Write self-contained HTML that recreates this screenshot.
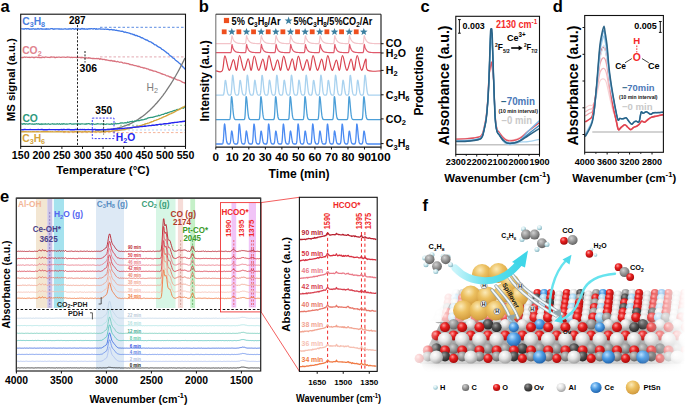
<!DOCTYPE html>
<html><head><meta charset="utf-8"><style>
html,body{margin:0;padding:0;background:#fff;}
svg{display:block;font-family:"Liberation Sans", sans-serif;}
</style></head><body>
<svg width="685" height="405" viewBox="0 0 685 405">
<rect width="685" height="405" fill="#fff"/>
<text x="0.50" y="11.80" font-size="16.5" fill="#000" font-weight="bold">a</text>
<line x1="100.00" y1="27.30" x2="185.50" y2="27.30" stroke="#4a7fe0" stroke-width="0.9" stroke-dasharray="2.5,2"/>
<line x1="100.00" y1="56.90" x2="185.50" y2="56.90" stroke="#e0a0a8" stroke-width="0.9" stroke-dasharray="2.5,2"/>
<line x1="120.00" y1="125.30" x2="185.50" y2="125.30" stroke="#7cc08a" stroke-width="0.8" stroke-dasharray="2,2"/>
<line x1="120.00" y1="130.00" x2="185.50" y2="130.00" stroke="#a8c8f0" stroke-width="0.8" stroke-dasharray="2,2"/>
<line x1="63.00" y1="132.60" x2="185.50" y2="132.60" stroke="#f0a080" stroke-width="0.8" stroke-dasharray="2.5,2"/>
<path d="M21.2,28.7L22.0,28.9L22.8,28.8L23.6,29.0L24.4,29.0L25.2,28.6L26.0,28.6L26.8,29.1L27.6,28.7L28.4,28.7L29.2,29.2L30.0,28.9L30.8,29.1L31.6,28.9L32.4,29.0L33.2,28.7L34.0,29.0L34.8,29.2L35.6,28.9L36.4,29.1L37.2,29.0L38.0,28.6L38.8,29.1L39.6,29.0L40.4,28.8L41.2,28.6L42.0,29.2L42.8,28.9L43.6,29.1L44.4,29.2L45.2,29.0L46.0,29.2L46.8,28.8L47.6,29.1L48.4,28.9L49.2,29.2L50.0,29.2L50.8,28.6L51.6,28.6L52.4,28.7L53.2,29.2L54.0,28.9L54.8,29.0L55.6,28.8L56.4,28.9L57.2,28.8L58.0,28.8L58.8,29.0L59.6,29.0L60.4,29.2L61.2,29.0L62.0,29.2L62.8,29.1L63.6,29.2L64.4,29.0L65.2,28.7L66.0,29.2L66.8,29.2L67.6,29.2L68.4,28.9L69.2,29.0L70.0,28.7L70.8,29.1L71.6,29.0L72.4,28.7L73.2,28.6L74.0,29.1L74.8,29.2L75.6,28.6L76.4,29.1L77.2,28.8L78.0,28.7L78.8,28.8L79.6,29.1L80.4,29.2L81.2,28.6L82.0,29.0L82.8,28.6L83.6,29.1L84.4,28.8L85.2,29.2L86.0,29.2L86.8,28.9L87.6,29.2L88.4,28.8L89.2,28.6L90.0,29.0L90.8,28.6L91.6,28.7L92.4,28.8L93.2,29.0L94.0,28.7L94.8,28.6L95.6,29.2L96.4,28.8L97.2,29.2L98.0,29.2L98.8,28.8L99.6,28.9L100.4,29.0L101.2,29.1L102.0,29.1L102.8,29.1L103.6,29.2L104.4,29.4L105.2,29.2L106.0,29.2L106.8,29.4L107.6,29.2L108.4,29.3L109.2,29.8L110.0,29.6L110.8,29.7L111.6,29.4L112.4,29.8L113.2,30.0L114.0,29.7L114.8,30.2L115.6,30.3L116.4,30.1L117.2,30.6L118.0,30.6L118.8,30.9L119.6,30.8L120.4,31.2L121.2,31.4L122.0,31.1L122.8,31.3L123.6,31.9L124.4,32.3L125.2,32.0L126.0,32.3L126.8,32.6L127.6,32.6L128.4,32.9L129.2,33.1L130.0,33.4L130.8,33.8L131.6,33.8L132.4,34.1L133.2,34.7L134.0,34.4L134.8,35.1L135.6,35.5L136.4,35.5L137.2,35.7L138.0,36.4L138.8,36.3L139.6,36.6L140.4,37.1L141.2,37.7L142.0,37.6L142.8,38.1L143.6,38.5L144.4,39.2L145.2,39.3L146.0,40.0L146.8,39.9L147.6,40.4L148.4,41.0L149.2,41.6L150.0,41.7L150.8,42.0L151.6,42.4L152.4,43.1L153.2,43.4L154.0,44.3L154.8,44.8L155.6,44.8L156.4,45.3L157.2,46.2L158.0,46.6L158.8,47.2L159.6,47.4L160.4,47.8L161.2,48.5L162.0,49.4L162.8,49.6L163.6,50.2L164.4,50.8L165.2,51.4L166.0,52.0L166.8,53.0L167.6,53.1L168.4,53.6L169.2,54.9L170.0,55.5L170.8,56.2L171.6,56.5L172.4,57.5L173.2,58.1L174.0,58.3L174.8,59.4L175.6,60.2L176.4,60.8L177.2,61.4L178.0,61.9L178.8,62.7L179.6,63.4L180.4,64.0L181.2,65.2L182.0,65.7L182.8,66.9L183.6,67.2L184.4,68.6L185.2,69.2" fill="none" stroke="#3f78e6" stroke-width="1.3" />
<path d="M21.2,57.6L22.0,57.5L22.8,57.5L23.6,57.3L24.4,57.0L25.2,57.4L26.0,57.1L26.8,57.2L27.6,57.4L28.4,57.3L29.2,57.2L30.0,57.6L30.8,57.4L31.6,57.2L32.4,57.2L33.2,57.5L34.0,57.3L34.8,57.5L35.6,57.2L36.4,57.1L37.2,57.3L38.0,57.5L38.8,57.1L39.6,57.5L40.4,57.6L41.2,57.5L42.0,57.5L42.8,57.0L43.6,57.4L44.4,57.5L45.2,57.0L46.0,57.2L46.8,57.2L47.6,57.3L48.4,57.3L49.2,57.3L50.0,57.5L50.8,57.0L51.6,57.0L52.4,57.1L53.2,57.1L54.0,57.0L54.8,57.6L55.6,57.5L56.4,57.1L57.2,57.3L58.0,57.2L58.8,57.2L59.6,57.2L60.4,57.4L61.2,57.4L62.0,57.2L62.8,57.1L63.6,57.2L64.4,57.1L65.2,57.3L66.0,57.4L66.8,57.2L67.6,57.0L68.4,57.1L69.2,57.2L70.0,57.4L70.8,57.5L71.6,57.2L72.4,57.5L73.2,57.4L74.0,57.3L74.8,57.3L75.6,57.4L76.4,57.5L77.2,57.4L78.0,57.5L78.8,57.4L79.6,57.3L80.4,57.5L81.2,57.7L82.0,57.3L82.8,57.6L83.6,57.6L84.4,57.9L85.2,58.0L86.0,57.7L86.8,58.1L87.6,58.1L88.4,57.8L89.2,58.0L90.0,57.9L90.8,58.3L91.6,58.3L92.4,58.5L93.2,58.5L94.0,58.5L94.8,58.6L95.6,58.6L96.4,58.4L97.2,58.8L98.0,58.5L98.8,58.7L99.6,59.2L100.4,58.8L101.2,59.0L102.0,59.1L102.8,59.6L103.6,59.3L104.4,59.3L105.2,59.9L106.0,59.6L106.8,60.1L107.6,60.2L108.4,60.4L109.2,60.6L110.0,60.5L110.8,60.7L111.6,60.4L112.4,61.0L113.2,60.9L114.0,61.2L114.8,61.0L115.6,61.5L116.4,61.8L117.2,61.4L118.0,61.7L118.8,62.0L119.6,62.3L120.4,62.1L121.2,62.2L122.0,62.4L122.8,62.8L123.6,63.1L124.4,63.0L125.2,63.2L126.0,63.4L126.8,63.5L127.6,63.7L128.4,63.7L129.2,64.1L130.0,64.6L130.8,64.5L131.6,64.8L132.4,64.7L133.2,65.2L134.0,65.4L134.8,65.6L135.6,65.7L136.4,65.9L137.2,66.2L138.0,66.6L138.8,66.3L139.6,66.5L140.4,67.1L141.2,67.4L142.0,67.4L142.8,67.6L143.6,68.0L144.4,67.9L145.2,68.2L146.0,68.4L146.8,68.8L147.6,68.9L148.4,69.1L149.2,69.6L150.0,70.0L150.8,69.9L151.6,70.4L152.4,70.5L153.2,71.0L154.0,71.1L154.8,71.2L155.6,71.4L156.4,71.6L157.2,72.1L158.0,72.3L158.8,72.5L159.6,72.9L160.4,73.1L161.2,73.7L162.0,73.6L162.8,74.4L163.6,74.4L164.4,74.7L165.2,74.9L166.0,75.5L166.8,75.8L167.6,75.9L168.4,76.2L169.2,76.6L170.0,77.0L170.8,77.0L171.6,77.6L172.4,78.0L173.2,78.0L174.0,78.2L174.8,78.5L175.6,79.2L176.4,79.5L177.2,80.0L178.0,80.2L178.8,80.2L179.6,80.5L180.4,80.9L181.2,81.2L182.0,81.9L182.8,82.3L183.6,82.7L184.4,82.7L185.2,83.4" fill="none" stroke="#d9737f" stroke-width="1.3" />
<path d="M95.0,130.0L96.0,130.0L97.0,130.0L98.0,130.0L99.0,130.0L100.0,130.0L101.0,129.9L102.0,129.9L103.0,129.9L104.0,129.8L105.0,129.8L106.0,129.7L107.0,129.6L108.0,129.5L109.0,129.4L110.0,129.3L111.0,129.2L112.0,129.1L113.0,128.9L114.0,128.7L115.0,128.6L116.0,128.4L117.0,128.2L118.0,127.9L119.0,127.7L120.0,127.4L121.0,127.1L122.0,126.9L123.0,126.5L124.0,126.2L125.0,125.9L126.0,125.5L127.0,125.1L128.0,124.7L129.0,124.3L130.0,123.8L131.0,123.4L132.0,122.9L133.0,122.4L134.0,121.8L135.0,121.3L136.0,120.7L137.0,120.1L138.0,119.5L139.0,118.8L140.0,118.1L141.0,117.4L142.0,116.7L143.0,116.0L144.0,115.2L145.0,114.4L146.0,113.6L147.0,112.7L148.0,111.8L149.0,110.9L150.0,110.0L151.0,109.0L152.0,108.1L153.0,107.0L154.0,106.0L155.0,104.9L156.0,103.8L157.0,102.7L158.0,101.5L159.0,100.3L160.0,99.1L161.0,97.9L162.0,96.6L163.0,95.3L164.0,93.9L165.0,92.6L166.0,91.2L167.0,89.7L168.0,88.2L169.0,86.7L170.0,85.2L171.0,83.6L172.0,82.0L173.0,80.4L174.0,78.7L175.0,77.0L176.0,75.3L177.0,73.5L178.0,71.7L179.0,69.9L180.0,68.0L181.0,66.1L182.0,64.1L183.0,62.1L184.0,60.1L185.0,58.0" fill="none" stroke="#7a7a7a" stroke-width="1.3" />
<path d="M21.2,123.9L22.0,123.9L22.8,124.2L23.6,123.7L24.4,123.7L25.2,124.3L26.0,123.8L26.8,123.9L27.6,124.1L28.4,124.1L29.2,123.6L30.0,123.9L30.8,123.9L31.6,124.0L32.4,123.8L33.2,124.1L34.0,124.4L34.8,123.9L35.6,124.0L36.4,123.7L37.2,123.8L38.0,124.1L38.8,123.7L39.6,124.3L40.4,124.3L41.2,123.7L42.0,124.4L42.8,123.9L43.6,124.2L44.4,124.2L45.2,123.8L46.0,124.1L46.8,124.1L47.6,124.2L48.4,123.8L49.2,124.2L50.0,124.4L50.8,124.1L51.6,124.0L52.4,123.7L53.2,124.0L54.0,123.9L54.8,124.2L55.6,124.1L56.4,124.1L57.2,123.7L58.0,124.1L58.8,124.1L59.6,123.7L60.4,124.3L61.2,124.1L62.0,123.7L62.8,124.3L63.6,123.7L64.4,123.9L65.2,124.2L66.0,124.1L66.8,124.0L67.6,124.1L68.4,124.0L69.2,123.8L70.0,123.7L70.8,123.7L71.6,124.2L72.4,124.2L73.2,124.0L74.0,124.2L74.8,123.9L75.6,123.8L76.4,123.9L77.2,124.3L78.0,123.6L78.8,124.0L79.6,123.8L80.4,124.2L81.2,123.9L82.0,123.9L82.8,123.9L83.6,124.0L84.4,124.2L85.2,123.9L86.0,124.3L86.8,123.7L87.6,123.8L88.4,123.7L89.2,123.7L90.0,124.2L90.8,124.2L91.6,123.7L92.4,123.8L93.2,123.9L94.0,124.2L94.8,124.3L95.6,124.2L96.4,124.1L97.2,123.7L98.0,123.9L98.8,123.8L99.6,124.0L100.4,124.1L101.2,123.8L102.0,123.8L102.8,124.2L103.6,123.6L104.4,124.2L105.2,124.3L106.0,124.4L106.8,123.9L107.6,124.0L108.4,124.1L109.2,124.1L110.0,124.4L110.8,124.1L111.6,123.8L112.4,124.2L113.2,123.9L114.0,123.9L114.8,124.0L115.6,123.3L116.4,123.9L117.2,123.7L118.0,123.5L118.8,123.5L119.6,123.3L120.4,123.0L121.2,123.2L122.0,122.7L122.8,123.0L123.6,123.0L124.4,122.8L125.2,122.7L126.0,122.9L126.8,122.8L127.6,122.1L128.4,122.5L129.2,122.2L130.0,121.6L130.8,121.7L131.6,121.5L132.4,121.2L133.2,121.5L134.0,121.6L134.8,121.0L135.6,121.3L136.4,121.0L137.2,120.4L138.0,120.8L138.8,120.4L139.6,120.5L140.4,120.2L141.2,120.1L142.0,119.6L142.8,119.8L143.6,119.7L144.4,119.5L145.2,118.9L146.0,119.0L146.8,118.6L147.6,118.1L148.4,117.9L149.2,117.7L150.0,117.6L150.8,117.4L151.6,117.4L152.4,117.4L153.2,117.1L154.0,116.8L154.8,116.7L155.6,116.3L156.4,116.2L157.2,116.2L158.0,115.7L158.8,115.3L159.6,115.6L160.4,115.3L161.2,114.8L162.0,114.5L162.8,114.4L163.6,114.3L164.4,113.7L165.2,113.3L166.0,113.2L166.8,113.4L167.6,112.7L168.4,112.7L169.2,112.2L170.0,112.0L170.8,111.7L171.6,111.6L172.4,111.2L173.2,110.8L174.0,110.6L174.8,110.4L175.6,110.4L176.4,109.8L177.2,109.5L178.0,109.6L178.8,109.3L179.6,109.2L180.4,108.4L181.2,108.4L182.0,108.2L182.8,107.6L183.6,108.1L184.4,107.2L185.2,106.8" fill="none" stroke="#2f9a7e" stroke-width="1.25" />
<path d="M21.2,131.8L22.2,131.7L23.2,131.8L24.2,131.8L25.2,131.7L26.2,131.7L27.2,131.9L28.2,131.7L29.2,131.9L30.2,131.8L31.2,131.9L32.2,131.7L33.2,131.7L34.2,131.7L35.2,131.9L36.2,131.8L37.2,131.8L38.2,131.7L39.2,131.9L40.2,131.9L41.2,131.8L42.2,131.7L43.2,131.7L44.2,131.7L45.2,131.7L46.2,131.7L47.2,131.7L48.2,131.8L49.2,131.9L50.2,131.7L51.2,131.9L52.2,131.8L53.2,131.9L54.2,131.9L55.2,131.9L56.2,131.7L57.2,131.7L58.2,131.8L59.2,131.9L60.2,131.7L61.2,131.7L62.2,131.9L63.2,131.7L64.2,131.8L65.2,131.8L66.2,131.9L67.2,131.9L68.2,131.7L69.2,131.9L70.2,131.9L71.2,131.9L72.2,131.8L73.2,131.9L74.2,131.8L75.2,131.8L76.2,131.7L77.2,131.9L78.2,131.8L79.2,131.7L80.2,131.7L81.2,131.9L82.2,131.8L83.2,131.9L84.2,131.8L85.2,131.8L86.2,131.7L87.2,131.9L88.2,131.7L89.2,131.8L90.2,131.9L91.2,131.9L92.2,131.7L93.2,131.7L94.2,131.9L95.2,131.8L96.2,131.9L97.2,131.9L98.2,131.8L99.2,131.9L100.2,131.9L101.2,131.7L102.2,131.7L103.2,131.6L104.2,131.7L105.2,131.8L106.2,131.5L107.2,131.6L108.2,131.4L109.2,131.3L110.2,131.4L111.2,131.2L112.2,131.0L113.2,130.9L114.2,131.0L115.2,130.8L116.2,130.6L117.2,130.5L118.2,130.6L119.2,130.2L120.2,130.1L121.2,129.9L122.2,129.9L123.2,129.7L124.2,129.5L125.2,129.3L126.2,129.0L127.2,128.8L128.2,128.5L129.2,128.5L130.2,128.1L131.2,127.8L132.2,127.9L133.2,127.4L134.2,127.4L135.2,126.9L136.2,126.7L137.2,126.4L138.2,126.3L139.2,125.9L140.2,125.6L141.2,125.4L142.2,125.1L143.2,124.6L144.2,124.4L145.2,124.0L146.2,123.6L147.2,123.5L148.2,123.1L149.2,122.8L150.2,122.3L151.2,122.0L152.2,121.6L153.2,121.3L154.2,120.7L155.2,120.4L156.2,120.1L157.2,119.6L158.2,119.3L159.2,118.9L160.2,118.4L161.2,118.1L162.2,117.6L163.2,117.1L164.2,116.7L165.2,116.4L166.2,115.8L167.2,115.3L168.2,114.8L169.2,114.3L170.2,113.8L171.2,113.6L172.2,113.0L173.2,112.6L174.2,112.1L175.2,111.5L176.2,111.0L177.2,110.4L178.2,109.8L179.2,109.5L180.2,108.9L181.2,108.4L182.2,107.7L183.2,107.2L184.2,106.5L185.2,106.1" fill="none" stroke="#d5a43c" stroke-width="1.4" />
<path d="M21.2,129.7L22.2,129.6L23.2,129.7L24.2,129.5L25.2,129.5L26.2,129.6L27.2,129.6L28.2,129.6L29.2,129.6L30.2,129.5L31.2,129.6L32.2,129.6L33.2,129.6L34.2,129.6L35.2,129.6L36.2,129.6L37.2,129.6L38.2,129.5L39.2,129.6L40.2,129.6L41.2,129.5L42.2,129.5L43.2,129.7L44.2,129.6L45.2,129.7L46.2,129.7L47.2,129.7L48.2,129.6L49.2,129.5L50.2,129.6L51.2,129.6L52.2,129.6L53.2,129.6L54.2,129.6L55.2,129.7L56.2,129.6L57.2,129.6L58.2,129.7L59.2,129.7L60.2,129.6L61.2,129.5L62.2,129.7L63.2,129.5L64.2,129.5L65.2,129.6L66.2,129.6L67.2,129.5L68.2,129.5L69.2,129.5L70.2,129.7L71.2,129.6L72.2,129.7L73.2,129.7L74.2,129.7L75.2,129.5L76.2,129.5L77.2,129.5L78.2,129.6L79.2,129.6L80.2,129.5L81.2,129.6L82.2,129.5L83.2,129.6L84.2,129.5L85.2,129.7L86.2,129.6L87.2,129.6L88.2,129.5L89.2,129.6L90.2,129.6L91.2,129.6L92.2,129.7L93.2,129.7L94.2,129.5L95.2,129.5L96.2,129.7L97.2,129.7L98.2,129.6L99.2,129.7L100.2,129.6L101.2,129.6L102.2,129.5L103.2,129.5L104.2,129.6L105.2,129.7L106.2,129.6L107.2,129.5L108.2,129.5L109.2,129.5L110.2,129.4L111.2,129.3L112.2,129.2L113.2,129.2L114.2,129.0L115.2,129.0L116.2,129.0L117.2,129.0L118.2,128.8L119.2,128.7L120.2,128.6L121.2,128.5L122.2,128.5L123.2,128.4L124.2,128.4L125.2,128.1L126.2,128.1L127.2,128.0L128.2,127.9L129.2,127.9L130.2,127.8L131.2,127.7L132.2,127.5L133.2,127.3L134.2,127.3L135.2,127.2L136.2,127.1L137.2,127.0L138.2,127.0L139.2,126.9L140.2,126.6L141.2,126.6L142.2,126.5L143.2,126.4L144.2,126.3L145.2,126.2L146.2,126.1L147.2,125.9L148.2,125.9L149.2,125.6L150.2,125.6L151.2,125.5L152.2,125.3L153.2,125.2L154.2,125.2L155.2,125.1L156.2,124.8L157.2,124.7L158.2,124.6L159.2,124.4L160.2,124.3L161.2,124.4L162.2,124.1L163.2,124.0L164.2,123.8L165.2,123.7L166.2,123.7L167.2,123.6L168.2,123.5L169.2,123.3L170.2,123.2L171.2,122.9L172.2,122.8L173.2,122.8L174.2,122.5L175.2,122.4L176.2,122.4L177.2,122.2L178.2,122.1L179.2,121.9L180.2,121.8L181.2,121.8L182.2,121.5L183.2,121.5L184.2,121.2L185.2,121.2" fill="none" stroke="#2626f0" stroke-width="1.4" />
<rect x="20.70" y="14.20" width="164.80" height="132.20" fill="none" stroke="#111" stroke-width="1.1" />
<line x1="20.70" y1="146.40" x2="20.70" y2="148.90" stroke="#111" stroke-width="1" />
<text x="20.70" y="159.30" font-size="10.6" fill="#000" font-weight="bold" text-anchor="middle">150</text>
<line x1="41.30" y1="146.40" x2="41.30" y2="148.90" stroke="#111" stroke-width="1" />
<text x="41.30" y="159.30" font-size="10.6" fill="#000" font-weight="bold" text-anchor="middle">200</text>
<line x1="61.90" y1="146.40" x2="61.90" y2="148.90" stroke="#111" stroke-width="1" />
<text x="61.90" y="159.30" font-size="10.6" fill="#000" font-weight="bold" text-anchor="middle">250</text>
<line x1="82.50" y1="146.40" x2="82.50" y2="148.90" stroke="#111" stroke-width="1" />
<text x="82.50" y="159.30" font-size="10.6" fill="#000" font-weight="bold" text-anchor="middle">300</text>
<line x1="103.10" y1="146.40" x2="103.10" y2="148.90" stroke="#111" stroke-width="1" />
<text x="103.10" y="159.30" font-size="10.6" fill="#000" font-weight="bold" text-anchor="middle">350</text>
<line x1="123.70" y1="146.40" x2="123.70" y2="148.90" stroke="#111" stroke-width="1" />
<text x="123.70" y="159.30" font-size="10.6" fill="#000" font-weight="bold" text-anchor="middle">400</text>
<line x1="144.30" y1="146.40" x2="144.30" y2="148.90" stroke="#111" stroke-width="1" />
<text x="144.30" y="159.30" font-size="10.6" fill="#000" font-weight="bold" text-anchor="middle">450</text>
<line x1="164.90" y1="146.40" x2="164.90" y2="148.90" stroke="#111" stroke-width="1" />
<text x="164.90" y="159.30" font-size="10.6" fill="#000" font-weight="bold" text-anchor="middle">500</text>
<line x1="185.50" y1="146.40" x2="185.50" y2="148.90" stroke="#111" stroke-width="1" />
<text x="185.50" y="159.30" font-size="10.6" fill="#000" font-weight="bold" text-anchor="middle">550</text>
<text x="102.90" y="173.70" font-size="10.5" fill="#000" font-weight="bold" text-anchor="middle" textLength="93.3" lengthAdjust="spacingAndGlyphs">Temperature (°C)</text>
<text x="14.80" y="79.75" font-size="11.4" fill="#000" font-weight="bold" text-anchor="middle" textLength="83" lengthAdjust="spacingAndGlyphs" transform="rotate(-90 14.80 79.75)">MS signal (a.u.)</text>
<line x1="77.50" y1="25.00" x2="77.50" y2="145.90" stroke="#111" stroke-width="0.9" stroke-dasharray="2.2,1.6"/>
<line x1="85.00" y1="51.00" x2="85.00" y2="62.50" stroke="#222" stroke-width="1.0" stroke-dasharray="2,1.4"/>
<text x="77.20" y="23.80" font-size="10.6" fill="#000" font-weight="bold" text-anchor="middle" textLength="16.6" lengthAdjust="spacingAndGlyphs">287</text>
<text x="88.30" y="72.30" font-size="11.0" fill="#000" font-weight="bold" text-anchor="middle" textLength="17.4" lengthAdjust="spacingAndGlyphs">306</text>
<text x="103.75" y="114.00" font-size="10.5" fill="#000" font-weight="bold" text-anchor="middle" textLength="16.9" lengthAdjust="spacingAndGlyphs">350</text>
<rect x="92.30" y="118.10" width="21.70" height="20.50" fill="none" stroke="#2a2af5" stroke-width="0.9" stroke-dasharray="2,1.5"/>
<line x1="103.60" y1="120.00" x2="103.60" y2="134.50" stroke="#111" stroke-width="0.8" stroke-dasharray="2,1.4"/>
<text x="22.20" y="25.20" font-size="10.3" fill="#4a80e0" font-weight="bold">C<tspan font-size="7.2" dy="2.00">3</tspan><tspan dy="-2">H</tspan><tspan font-size="7.2" dy="2.00">8</tspan></text>
<text x="22.20" y="54.30" font-size="10.3" fill="#e0848f" font-weight="bold">CO<tspan font-size="7.2" dy="2.00">2</tspan></text>
<text x="22.40" y="121.60" font-size="10.3" fill="#2f9a7e" font-weight="bold">CO</text>
<text x="22.20" y="142.00" font-size="10.3" fill="#d4a43c" font-weight="bold">C<tspan font-size="7.2" dy="2.00">3</tspan><tspan dy="-2">H</tspan><tspan font-size="7.2" dy="2.00">6</tspan></text>
<text x="146.60" y="91.00" font-size="10.3" fill="#7d7d7d" font-weight="normal">H<tspan font-size="7.2" dy="2.00">2</tspan></text>
<text x="115.80" y="141.40" font-size="10.3" fill="#2626f0" font-weight="bold">H<tspan font-size="7.2" dy="2.00">2</tspan><tspan dy="-2">O</tspan></text>
<text x="198.80" y="12.00" font-size="16.5" fill="#000" font-weight="bold">b</text>
<path d="M215.8,43.6L216.0,43.6L216.2,43.6L216.4,43.6L216.6,43.6L216.8,43.6L217.0,43.6L217.2,43.6L217.4,43.6L217.6,43.6L217.8,43.6L218.0,43.6L218.2,43.6L218.4,43.6L218.6,43.6L218.8,43.6L219.0,43.6L219.2,43.6L219.4,43.6L219.6,43.6L219.8,43.6L220.0,43.6L220.2,43.6L220.4,43.6L220.6,43.6L220.8,43.6L221.0,43.6L221.2,43.6L221.4,43.6L221.5,43.6L221.7,43.6L221.9,43.6L222.1,43.6L222.3,43.6L222.5,43.6L222.7,43.6L222.9,43.6L223.1,43.6L223.3,43.6L223.5,43.6L223.7,43.6L223.9,43.6L224.1,43.6L224.3,43.6L224.5,43.6L224.7,43.6L224.9,43.6L225.1,43.6L225.3,43.6L225.5,43.6L225.7,43.6L225.9,43.6L226.1,43.6L226.3,43.6L226.5,43.6L226.7,43.6L226.9,43.6L227.1,43.6L227.3,43.6L227.5,43.6L227.7,43.6L227.9,43.6L228.1,43.6L228.3,43.6L228.5,43.6L228.7,43.6L228.9,43.6L229.1,43.6L229.3,43.6L229.5,43.6L229.7,43.6L229.9,43.6L230.1,43.6L230.3,43.6L230.5,43.6L230.7,43.5L230.9,43.2L231.1,42.5L231.3,41.2L231.5,39.4L231.7,37.4L231.9,35.9L232.1,35.9L232.3,36.6L232.5,37.3L232.7,37.9L232.8,38.4L233.0,38.9L233.2,39.4L233.4,39.8L233.6,40.1L233.8,40.5L234.0,40.8L234.2,41.0L234.4,41.3L234.6,41.5L234.8,41.7L235.0,41.9L235.2,42.0L235.4,42.2L235.6,42.3L235.8,42.4L236.0,42.6L236.2,42.7L236.4,42.7L236.6,42.8L236.8,42.9L237.0,43.0L237.2,43.0L237.4,43.1L237.6,43.1L237.8,43.2L238.0,43.2L238.2,43.3L238.4,43.3L238.6,43.3L238.8,43.3L239.0,43.4L239.2,43.4L239.4,43.4L239.6,43.4L239.8,43.4L240.0,43.5L240.2,43.5L240.4,43.5L240.6,43.5L240.8,43.5L241.0,43.5L241.2,43.5L241.4,43.5L241.6,43.5L241.8,43.5L242.0,43.5L242.2,43.6L242.4,43.6L242.6,43.6L242.8,43.6L243.0,43.6L243.2,43.6L243.4,43.6L243.6,43.6L243.8,43.6L244.0,43.6L244.1,43.6L244.3,43.6L244.5,43.6L244.7,43.6L244.9,43.6L245.1,43.6L245.3,43.5L245.5,43.2L245.7,42.6L245.9,41.5L246.1,39.7L246.3,37.7L246.5,36.1L246.7,35.7L246.9,36.5L247.1,37.2L247.3,37.8L247.5,38.3L247.7,38.8L247.9,39.3L248.1,39.7L248.3,40.1L248.5,40.4L248.7,40.7L248.9,41.0L249.1,41.2L249.3,41.5L249.5,41.7L249.7,41.8L249.9,42.0L250.1,42.2L250.3,42.3L250.5,42.4L250.7,42.5L250.9,42.6L251.1,42.7L251.3,42.8L251.5,42.9L251.7,43.0L251.9,43.0L252.1,43.1L252.3,43.1L252.5,43.2L252.7,43.2L252.9,43.2L253.1,43.3L253.3,43.3L253.5,43.3L253.7,43.4L253.9,43.4L254.1,43.4L254.3,43.4L254.5,43.4L254.7,43.5L254.9,43.5L255.1,43.5L255.2,43.5L255.4,43.5L255.6,43.5L255.8,43.5L256.0,43.5L256.2,43.5L256.4,43.5L256.6,43.5L256.8,43.6L257.0,43.6L257.2,43.6L257.4,43.6L257.6,43.6L257.8,43.6L258.0,43.6L258.2,43.6L258.4,43.6L258.6,43.6L258.8,43.6L259.0,43.6L259.2,43.6L259.4,43.6L259.6,43.6L259.8,43.6L260.0,43.5L260.2,43.3L260.4,42.7L260.6,41.7L260.8,40.0L261.0,38.0L261.2,36.3L261.4,35.6L261.6,36.4L261.8,37.0L262.0,37.7L262.2,38.2L262.4,38.7L262.6,39.2L262.8,39.6L263.0,40.0L263.2,40.3L263.4,40.7L263.6,40.9L263.8,41.2L264.0,41.4L264.2,41.6L264.4,41.8L264.6,42.0L264.8,42.1L265.0,42.3L265.2,42.4L265.4,42.5L265.6,42.6L265.8,42.7L266.0,42.8L266.2,42.9L266.4,42.9L266.5,43.0L266.7,43.1L266.9,43.1L267.1,43.2L267.3,43.2L267.5,43.2L267.7,43.3L267.9,43.3L268.1,43.3L268.3,43.4L268.5,43.4L268.7,43.4L268.9,43.4L269.1,43.4L269.3,43.5L269.5,43.5L269.7,43.5L269.9,43.5L270.1,43.5L270.3,43.5L270.5,43.5L270.7,43.5L270.9,43.5L271.1,43.5L271.3,43.5L271.5,43.6L271.7,43.6L271.9,43.6L272.1,43.6L272.3,43.6L272.5,43.6L272.7,43.6L272.9,43.6L273.1,43.6L273.3,43.6L273.5,43.6L273.7,43.6L273.9,43.6L274.1,43.6L274.3,43.6L274.5,43.6L274.7,43.5L274.9,43.3L275.1,42.9L275.3,41.9L275.5,40.3L275.7,38.4L275.9,36.5L276.1,35.6L276.3,36.2L276.5,36.9L276.7,37.6L276.9,38.1L277.1,38.7L277.3,39.1L277.5,39.6L277.7,39.9L277.8,40.3L278.0,40.6L278.2,40.9L278.4,41.1L278.6,41.4L278.8,41.6L279.0,41.8L279.2,42.0L279.4,42.1L279.6,42.3L279.8,42.4L280.0,42.5L280.2,42.6L280.4,42.7L280.6,42.8L280.8,42.9L281.0,42.9L281.2,43.0L281.4,43.1L281.6,43.1L281.8,43.2L282.0,43.2L282.2,43.2L282.4,43.3L282.6,43.3L282.8,43.3L283.0,43.4L283.2,43.4L283.4,43.4L283.6,43.4L283.8,43.4L284.0,43.5L284.2,43.5L284.4,43.5L284.6,43.5L284.8,43.5L285.0,43.5L285.2,43.5L285.4,43.5L285.6,43.5L285.8,43.5L286.0,43.5L286.2,43.6L286.4,43.6L286.6,43.6L286.8,43.6L287.0,43.6L287.2,43.6L287.4,43.6L287.6,43.6L287.8,43.6L288.0,43.6L288.2,43.6L288.4,43.6L288.6,43.6L288.8,43.6L289.0,43.6L289.1,43.6L289.3,43.5L289.5,43.4L289.7,43.0L289.9,42.1L290.1,40.7L290.3,38.7L290.5,36.8L290.7,35.7L290.9,36.1L291.1,36.8L291.3,37.5L291.5,38.1L291.7,38.6L291.9,39.1L292.1,39.5L292.3,39.9L292.5,40.2L292.7,40.6L292.9,40.8L293.1,41.1L293.3,41.3L293.5,41.6L293.7,41.8L293.9,41.9L294.1,42.1L294.3,42.2L294.5,42.4L294.7,42.5L294.9,42.6L295.1,42.7L295.3,42.8L295.5,42.8L295.7,42.9L295.9,43.0L296.1,43.0L296.3,43.1L296.5,43.1L296.7,43.2L296.9,43.2L297.1,43.3L297.3,43.3L297.5,43.3L297.7,43.4L297.9,43.4L298.1,43.4L298.3,43.4L298.5,43.4L298.7,43.4L298.9,43.5L299.1,43.5L299.3,43.5L299.5,43.5L299.7,43.5L299.9,43.5L300.1,43.5L300.3,43.5L300.4,43.5L300.6,43.5L300.8,43.5L301.0,43.6L301.2,43.6L301.4,43.6L301.6,43.6L301.8,43.6L302.0,43.6L302.2,43.6L302.4,43.6L302.6,43.6L302.8,43.6L303.0,43.6L303.2,43.6L303.4,43.6L303.6,43.6L303.8,43.6L304.0,43.5L304.2,43.4L304.4,43.1L304.6,42.3L304.8,40.9L305.0,39.0L305.2,37.1L305.4,35.8L305.6,36.0L305.8,36.7L306.0,37.4L306.2,38.0L306.4,38.5L306.6,39.0L306.8,39.4L307.0,39.8L307.2,40.2L307.4,40.5L307.6,40.8L307.8,41.1L308.0,41.3L308.2,41.5L308.4,41.7L308.6,41.9L308.8,42.1L309.0,42.2L309.2,42.3L309.4,42.5L309.6,42.6L309.8,42.7L310.0,42.8L310.2,42.8L310.4,42.9L310.6,43.0L310.8,43.0L311.0,43.1L311.2,43.1L311.4,43.2L311.5,43.2L311.7,43.3L311.9,43.3L312.1,43.3L312.3,43.3L312.5,43.4L312.7,43.4L312.9,43.4L313.1,43.4L313.3,43.4L313.5,43.5L313.7,43.5L313.9,43.5L314.1,43.5L314.3,43.5L314.5,43.5L314.7,43.5L314.9,43.5L315.1,43.5L315.3,43.5L315.5,43.5L315.7,43.6L315.9,43.6L316.1,43.6L316.3,43.6L316.5,43.6L316.7,43.6L316.9,43.6L317.1,43.6L317.3,43.6L317.5,43.6L317.7,43.6L317.9,43.6L318.1,43.6L318.3,43.6L318.5,43.6L318.7,43.5L318.9,43.4L319.1,43.1L319.3,42.5L319.5,41.2L319.7,39.4L319.9,37.4L320.1,35.9L320.3,35.9L320.5,36.6L320.7,37.3L320.9,37.9L321.1,38.4L321.3,38.9L321.5,39.4L321.7,39.8L321.9,40.1L322.1,40.5L322.3,40.8L322.5,41.0L322.7,41.3L322.8,41.5L323.0,41.7L323.2,41.9L323.4,42.0L323.6,42.2L323.8,42.3L324.0,42.4L324.2,42.6L324.4,42.7L324.6,42.7L324.8,42.8L325.0,42.9L325.2,43.0L325.4,43.0L325.6,43.1L325.8,43.1L326.0,43.2L326.2,43.2L326.4,43.3L326.6,43.3L326.8,43.3L327.0,43.3L327.2,43.4L327.4,43.4L327.6,43.4L327.8,43.4L328.0,43.4L328.2,43.5L328.4,43.5L328.6,43.5L328.8,43.5L329.0,43.5L329.2,43.5L329.4,43.5L329.6,43.5L329.8,43.5L330.0,43.5L330.2,43.5L330.4,43.6L330.6,43.6L330.8,43.6L331.0,43.6L331.2,43.6L331.4,43.6L331.6,43.6L331.8,43.6L332.0,43.6L332.2,43.6L332.4,43.6L332.6,43.6L332.8,43.6L333.0,43.6L333.2,43.6L333.4,43.6L333.6,43.5L333.8,43.2L334.0,42.6L334.1,41.5L334.3,39.7L334.5,37.7L334.7,36.1L334.9,35.7L335.1,36.5L335.3,37.2L335.5,37.8L335.7,38.3L335.9,38.8L336.1,39.3L336.3,39.7L336.5,40.1L336.7,40.4L336.9,40.7L337.1,41.0L337.3,41.2L337.5,41.5L337.7,41.7L337.9,41.8L338.1,42.0L338.3,42.2L338.5,42.3L338.7,42.4L338.9,42.5L339.1,42.6L339.3,42.7L339.5,42.8L339.7,42.9L339.9,43.0L340.1,43.0L340.3,43.1L340.5,43.1L340.7,43.2L340.9,43.2L341.1,43.2L341.3,43.3L341.5,43.3L341.7,43.3L341.9,43.4L342.1,43.4L342.3,43.4L342.5,43.4L342.7,43.4L342.9,43.5L343.1,43.5L343.3,43.5L343.5,43.5L343.7,43.5L343.9,43.5L344.1,43.5L344.3,43.5L344.5,43.5L344.7,43.5L344.9,43.5L345.1,43.6L345.3,43.6L345.4,43.6L345.6,43.6L345.8,43.6L346.0,43.6L346.2,43.6L346.4,43.6L346.6,43.6L346.8,43.6L347.0,43.6L347.2,43.6L347.4,43.6L347.6,43.6L347.8,43.6L348.0,43.6L348.2,43.5L348.4,43.3L348.6,42.7L348.8,41.7L349.0,40.0L349.2,38.0L349.4,36.3L349.6,35.6L349.8,36.4L350.0,37.0L350.2,37.7L350.4,38.2L350.6,38.7L350.8,39.2L351.0,39.6L351.2,40.0L351.4,40.3L351.6,40.7L351.8,40.9L352.0,41.2L352.2,41.4L352.4,41.6L352.6,41.8L352.8,42.0L353.0,42.1L353.2,42.3L353.4,42.4L353.6,42.5L353.8,42.6L354.0,42.7L354.2,42.8L354.4,42.9L354.6,42.9L354.8,43.0L355.0,43.1L355.2,43.1L355.4,43.2L355.6,43.2L355.8,43.2L356.0,43.3L356.2,43.3L356.4,43.3L356.6,43.4L356.7,43.4L356.9,43.4L357.1,43.4L357.3,43.4L357.5,43.5L357.7,43.5L357.9,43.5L358.1,43.5L358.3,43.5L358.5,43.5L358.7,43.5L358.9,43.5L359.1,43.5L359.3,43.5L359.5,43.5L359.7,43.6L359.9,43.6L360.1,43.6L360.3,43.6L360.5,43.6L360.7,43.6L360.9,43.6L361.1,43.6L361.3,43.6L361.5,43.6L361.7,43.6L361.9,43.6L362.1,43.6L362.3,43.6L362.5,43.6L362.7,43.6L362.9,43.5L363.1,43.3L363.3,42.9L363.5,41.9L363.7,40.3L363.9,38.4L364.1,36.5L364.3,35.6L364.5,36.2L364.7,36.9L364.9,37.6L365.1,38.1L365.3,38.7L365.5,39.1L365.7,39.6L365.9,39.9L366.1,40.3L366.3,40.6L366.5,40.9L366.7,41.1L366.9,41.4L367.1,41.6L367.3,41.8L367.5,42.0L367.7,42.1L367.9,42.3L368.0,42.4L368.2,42.5L368.4,42.6L368.6,42.7L368.8,42.8L369.0,42.9L369.2,42.9L369.4,43.0L369.6,43.1L369.8,43.1L370.0,43.2L370.2,43.2L370.4,43.2L370.6,43.3L370.8,43.3L371.0,43.3L371.2,43.4L371.4,43.4L371.6,43.4L371.8,43.4L372.0,43.4L372.2,43.5L372.4,43.5L372.6,43.5L372.8,43.5L373.0,43.5L373.2,43.5L373.4,43.5L373.6,43.5L373.8,43.5L374.0,43.5L374.2,43.5L374.4,43.6L374.6,43.6L374.8,43.6L375.0,43.6L375.2,43.6L375.4,43.6L375.6,43.6L375.8,43.6L376.0,43.6L376.2,43.6L376.4,43.6L376.6,43.6L376.8,43.6L377.0,43.6L377.2,43.6L377.4,43.6L377.6,43.6L377.8,43.6L378.0,43.6L378.2,43.6L378.4,43.6L378.6,43.6L378.8,43.6L379.0,43.6L379.1,43.6L379.3,43.6L379.5,43.6L379.7,43.6L379.9,43.6L380.1,43.6L380.3,43.6L380.5,43.6L380.7,43.6L380.9,43.6" fill="none" stroke="#f3c4c9" stroke-width="1.2" stroke-linejoin="round"/>
<path d="M215.8,52.6L216.0,52.6L216.2,52.6L216.4,52.6L216.6,52.6L216.8,52.6L217.0,52.6L217.2,52.6L217.4,52.6L217.6,52.6L217.8,52.6L218.0,52.6L218.2,52.6L218.4,52.6L218.6,52.6L218.8,52.6L219.0,52.6L219.2,52.6L219.4,52.6L219.6,52.6L219.8,52.6L220.0,52.6L220.2,52.6L220.4,52.6L220.6,52.6L220.8,52.6L221.0,52.6L221.2,52.6L221.4,52.6L221.5,52.6L221.7,52.6L221.9,52.6L222.1,52.6L222.3,52.6L222.5,52.6L222.7,52.6L222.9,52.6L223.1,52.6L223.3,52.6L223.5,52.6L223.7,52.6L223.9,52.6L224.1,52.6L224.3,52.6L224.5,52.6L224.7,52.6L224.9,52.6L225.1,52.6L225.3,52.6L225.5,52.6L225.7,52.6L225.9,52.6L226.1,52.6L226.3,52.6L226.5,52.6L226.7,52.6L226.9,52.6L227.1,52.6L227.3,52.6L227.5,52.6L227.7,52.6L227.9,52.6L228.1,52.6L228.3,52.6L228.5,52.6L228.7,52.6L228.9,52.6L229.1,52.6L229.3,52.6L229.5,52.6L229.7,52.6L229.9,52.6L230.1,52.6L230.3,52.6L230.5,52.6L230.7,52.6L230.9,52.4L231.1,52.0L231.3,50.9L231.5,49.0L231.7,46.6L231.9,44.7L232.1,44.6L232.3,45.5L232.5,46.3L232.7,47.0L232.8,47.7L233.0,48.2L233.2,48.7L233.4,49.2L233.6,49.5L233.8,49.9L234.0,50.2L234.2,50.5L234.4,50.7L234.6,50.9L234.8,51.1L235.0,51.3L235.2,51.4L235.4,51.6L235.6,51.7L235.8,51.8L236.0,51.9L236.2,52.0L236.4,52.0L236.6,52.1L236.8,52.2L237.0,52.2L237.2,52.2L237.4,52.3L237.6,52.3L237.8,52.4L238.0,52.4L238.2,52.4L238.4,52.4L238.6,52.4L238.8,52.5L239.0,52.5L239.2,52.5L239.4,52.5L239.6,52.5L239.8,52.5L240.0,52.5L240.2,52.5L240.4,52.5L240.6,52.6L240.8,52.6L241.0,52.6L241.2,52.6L241.4,52.6L241.6,52.6L241.8,52.6L242.0,52.6L242.2,52.6L242.4,52.6L242.6,52.6L242.8,52.6L243.0,52.6L243.2,52.6L243.4,52.6L243.6,52.6L243.8,52.6L244.0,52.6L244.1,52.6L244.3,52.6L244.5,52.6L244.7,52.6L244.9,52.6L245.1,52.6L245.3,52.6L245.5,52.4L245.7,52.1L245.9,51.1L246.1,49.4L246.3,47.0L246.5,44.9L246.7,44.5L246.9,45.4L247.1,46.2L247.3,46.9L247.5,47.6L247.7,48.1L247.9,48.6L248.1,49.1L248.3,49.5L248.5,49.8L248.7,50.1L248.9,50.4L249.1,50.7L249.3,50.9L249.5,51.1L249.7,51.3L249.9,51.4L250.1,51.5L250.3,51.7L250.5,51.8L250.7,51.9L250.9,51.9L251.1,52.0L251.3,52.1L251.5,52.1L251.7,52.2L251.9,52.2L252.1,52.3L252.3,52.3L252.5,52.3L252.7,52.4L252.9,52.4L253.1,52.4L253.3,52.4L253.5,52.5L253.7,52.5L253.9,52.5L254.1,52.5L254.3,52.5L254.5,52.5L254.7,52.5L254.9,52.5L255.1,52.5L255.2,52.6L255.4,52.6L255.6,52.6L255.8,52.6L256.0,52.6L256.2,52.6L256.4,52.6L256.6,52.6L256.8,52.6L257.0,52.6L257.2,52.6L257.4,52.6L257.6,52.6L257.8,52.6L258.0,52.6L258.2,52.6L258.4,52.6L258.6,52.6L258.8,52.6L259.0,52.6L259.2,52.6L259.4,52.6L259.6,52.6L259.8,52.6L260.0,52.6L260.2,52.5L260.4,52.2L260.6,51.3L260.8,49.7L261.0,47.4L261.2,45.2L261.4,44.3L261.6,45.2L261.8,46.1L262.0,46.8L262.2,47.5L262.4,48.0L262.6,48.6L262.8,49.0L263.0,49.4L263.2,49.8L263.4,50.1L263.6,50.4L263.8,50.6L264.0,50.9L264.2,51.1L264.4,51.2L264.6,51.4L264.8,51.5L265.0,51.6L265.2,51.8L265.4,51.8L265.6,51.9L265.8,52.0L266.0,52.1L266.2,52.1L266.4,52.2L266.5,52.2L266.7,52.3L266.9,52.3L267.1,52.3L267.3,52.4L267.5,52.4L267.7,52.4L267.9,52.4L268.1,52.5L268.3,52.5L268.5,52.5L268.7,52.5L268.9,52.5L269.1,52.5L269.3,52.5L269.5,52.5L269.7,52.5L269.9,52.6L270.1,52.6L270.3,52.6L270.5,52.6L270.7,52.6L270.9,52.6L271.1,52.6L271.3,52.6L271.5,52.6L271.7,52.6L271.9,52.6L272.1,52.6L272.3,52.6L272.5,52.6L272.7,52.6L272.9,52.6L273.1,52.6L273.3,52.6L273.5,52.6L273.7,52.6L273.9,52.6L274.1,52.6L274.3,52.6L274.5,52.6L274.7,52.6L274.9,52.5L275.1,52.2L275.3,51.5L275.5,50.0L275.7,47.8L275.9,45.5L276.1,44.3L276.3,45.1L276.5,45.9L276.7,46.7L276.9,47.4L277.1,48.0L277.3,48.5L277.5,48.9L277.7,49.4L277.8,49.7L278.0,50.0L278.2,50.3L278.4,50.6L278.6,50.8L278.8,51.0L279.0,51.2L279.2,51.4L279.4,51.5L279.6,51.6L279.8,51.7L280.0,51.8L280.2,51.9L280.4,52.0L280.6,52.1L280.8,52.1L281.0,52.2L281.2,52.2L281.4,52.3L281.6,52.3L281.8,52.3L282.0,52.4L282.2,52.4L282.4,52.4L282.6,52.4L282.8,52.5L283.0,52.5L283.2,52.5L283.4,52.5L283.6,52.5L283.8,52.5L284.0,52.5L284.2,52.5L284.4,52.5L284.6,52.6L284.8,52.6L285.0,52.6L285.2,52.6L285.4,52.6L285.6,52.6L285.8,52.6L286.0,52.6L286.2,52.6L286.4,52.6L286.6,52.6L286.8,52.6L287.0,52.6L287.2,52.6L287.4,52.6L287.6,52.6L287.8,52.6L288.0,52.6L288.2,52.6L288.4,52.6L288.6,52.6L288.8,52.6L289.0,52.6L289.1,52.6L289.3,52.6L289.5,52.5L289.7,52.3L289.9,51.7L290.1,50.4L290.3,48.2L290.5,45.9L290.7,44.4L290.9,44.9L291.1,45.8L291.3,46.6L291.5,47.3L291.7,47.9L291.9,48.4L292.1,48.9L292.3,49.3L292.5,49.7L292.7,50.0L292.9,50.3L293.1,50.6L293.3,50.8L293.5,51.0L293.7,51.2L293.9,51.3L294.1,51.5L294.3,51.6L294.5,51.7L294.7,51.8L294.9,51.9L295.1,52.0L295.3,52.1L295.5,52.1L295.7,52.2L295.9,52.2L296.1,52.3L296.3,52.3L296.5,52.3L296.7,52.4L296.9,52.4L297.1,52.4L297.3,52.4L297.5,52.5L297.7,52.5L297.9,52.5L298.1,52.5L298.3,52.5L298.5,52.5L298.7,52.5L298.9,52.5L299.1,52.5L299.3,52.6L299.5,52.6L299.7,52.6L299.9,52.6L300.1,52.6L300.3,52.6L300.4,52.6L300.6,52.6L300.8,52.6L301.0,52.6L301.2,52.6L301.4,52.6L301.6,52.6L301.8,52.6L302.0,52.6L302.2,52.6L302.4,52.6L302.6,52.6L302.8,52.6L303.0,52.6L303.2,52.6L303.4,52.6L303.6,52.6L303.8,52.6L304.0,52.6L304.2,52.5L304.4,52.4L304.6,51.8L304.8,50.6L305.0,48.6L305.2,46.2L305.4,44.5L305.6,44.8L305.8,45.7L306.0,46.5L306.2,47.1L306.4,47.8L306.6,48.3L306.8,48.8L307.0,49.2L307.2,49.6L307.4,49.9L307.6,50.2L307.8,50.5L308.0,50.7L308.2,51.0L308.4,51.1L308.6,51.3L308.8,51.5L309.0,51.6L309.2,51.7L309.4,51.8L309.6,51.9L309.8,52.0L310.0,52.0L310.2,52.1L310.4,52.2L310.6,52.2L310.8,52.3L311.0,52.3L311.2,52.3L311.4,52.4L311.5,52.4L311.7,52.4L311.9,52.4L312.1,52.5L312.3,52.5L312.5,52.5L312.7,52.5L312.9,52.5L313.1,52.5L313.3,52.5L313.5,52.5L313.7,52.5L313.9,52.5L314.1,52.6L314.3,52.6L314.5,52.6L314.7,52.6L314.9,52.6L315.1,52.6L315.3,52.6L315.5,52.6L315.7,52.6L315.9,52.6L316.1,52.6L316.3,52.6L316.5,52.6L316.7,52.6L316.9,52.6L317.1,52.6L317.3,52.6L317.5,52.6L317.7,52.6L317.9,52.6L318.1,52.6L318.3,52.6L318.5,52.6L318.7,52.6L318.9,52.6L319.1,52.4L319.3,52.0L319.5,50.9L319.7,49.0L319.9,46.6L320.1,44.7L320.3,44.6L320.5,45.5L320.7,46.3L320.9,47.0L321.1,47.7L321.3,48.2L321.5,48.7L321.7,49.2L321.9,49.5L322.1,49.9L322.3,50.2L322.5,50.5L322.7,50.7L322.8,50.9L323.0,51.1L323.2,51.3L323.4,51.4L323.6,51.6L323.8,51.7L324.0,51.8L324.2,51.9L324.4,52.0L324.6,52.0L324.8,52.1L325.0,52.2L325.2,52.2L325.4,52.2L325.6,52.3L325.8,52.3L326.0,52.4L326.2,52.4L326.4,52.4L326.6,52.4L326.8,52.4L327.0,52.5L327.2,52.5L327.4,52.5L327.6,52.5L327.8,52.5L328.0,52.5L328.2,52.5L328.4,52.5L328.6,52.5L328.8,52.6L329.0,52.6L329.2,52.6L329.4,52.6L329.6,52.6L329.8,52.6L330.0,52.6L330.2,52.6L330.4,52.6L330.6,52.6L330.8,52.6L331.0,52.6L331.2,52.6L331.4,52.6L331.6,52.6L331.8,52.6L332.0,52.6L332.2,52.6L332.4,52.6L332.6,52.6L332.8,52.6L333.0,52.6L333.2,52.6L333.4,52.6L333.6,52.6L333.8,52.4L334.0,52.1L334.1,51.1L334.3,49.4L334.5,47.0L334.7,44.9L334.9,44.5L335.1,45.4L335.3,46.2L335.5,46.9L335.7,47.6L335.9,48.1L336.1,48.6L336.3,49.1L336.5,49.5L336.7,49.8L336.9,50.1L337.1,50.4L337.3,50.7L337.5,50.9L337.7,51.1L337.9,51.3L338.1,51.4L338.3,51.5L338.5,51.7L338.7,51.8L338.9,51.9L339.1,51.9L339.3,52.0L339.5,52.1L339.7,52.1L339.9,52.2L340.1,52.2L340.3,52.3L340.5,52.3L340.7,52.3L340.9,52.4L341.1,52.4L341.3,52.4L341.5,52.4L341.7,52.5L341.9,52.5L342.1,52.5L342.3,52.5L342.5,52.5L342.7,52.5L342.9,52.5L343.1,52.5L343.3,52.5L343.5,52.6L343.7,52.6L343.9,52.6L344.1,52.6L344.3,52.6L344.5,52.6L344.7,52.6L344.9,52.6L345.1,52.6L345.3,52.6L345.4,52.6L345.6,52.6L345.8,52.6L346.0,52.6L346.2,52.6L346.4,52.6L346.6,52.6L346.8,52.6L347.0,52.6L347.2,52.6L347.4,52.6L347.6,52.6L347.8,52.6L348.0,52.6L348.2,52.6L348.4,52.5L348.6,52.2L348.8,51.3L349.0,49.7L349.2,47.4L349.4,45.2L349.6,44.3L349.8,45.2L350.0,46.1L350.2,46.8L350.4,47.5L350.6,48.0L350.8,48.6L351.0,49.0L351.2,49.4L351.4,49.8L351.6,50.1L351.8,50.4L352.0,50.6L352.2,50.9L352.4,51.1L352.6,51.2L352.8,51.4L353.0,51.5L353.2,51.6L353.4,51.8L353.6,51.8L353.8,51.9L354.0,52.0L354.2,52.1L354.4,52.1L354.6,52.2L354.8,52.2L355.0,52.3L355.2,52.3L355.4,52.3L355.6,52.4L355.8,52.4L356.0,52.4L356.2,52.4L356.4,52.5L356.6,52.5L356.7,52.5L356.9,52.5L357.1,52.5L357.3,52.5L357.5,52.5L357.7,52.5L357.9,52.5L358.1,52.6L358.3,52.6L358.5,52.6L358.7,52.6L358.9,52.6L359.1,52.6L359.3,52.6L359.5,52.6L359.7,52.6L359.9,52.6L360.1,52.6L360.3,52.6L360.5,52.6L360.7,52.6L360.9,52.6L361.1,52.6L361.3,52.6L361.5,52.6L361.7,52.6L361.9,52.6L362.1,52.6L362.3,52.6L362.5,52.6L362.7,52.6L362.9,52.6L363.1,52.5L363.3,52.2L363.5,51.5L363.7,50.0L363.9,47.8L364.1,45.5L364.3,44.3L364.5,45.1L364.7,45.9L364.9,46.7L365.1,47.4L365.3,48.0L365.5,48.5L365.7,48.9L365.9,49.4L366.1,49.7L366.3,50.0L366.5,50.3L366.7,50.6L366.9,50.8L367.1,51.0L367.3,51.2L367.5,51.4L367.7,51.5L367.9,51.6L368.0,51.7L368.2,51.8L368.4,51.9L368.6,52.0L368.8,52.1L369.0,52.1L369.2,52.2L369.4,52.2L369.6,52.3L369.8,52.3L370.0,52.3L370.2,52.4L370.4,52.4L370.6,52.4L370.8,52.4L371.0,52.5L371.2,52.5L371.4,52.5L371.6,52.5L371.8,52.5L372.0,52.5L372.2,52.5L372.4,52.5L372.6,52.5L372.8,52.6L373.0,52.6L373.2,52.6L373.4,52.6L373.6,52.6L373.8,52.6L374.0,52.6L374.2,52.6L374.4,52.6L374.6,52.6L374.8,52.6L375.0,52.6L375.2,52.6L375.4,52.6L375.6,52.6L375.8,52.6L376.0,52.6L376.2,52.6L376.4,52.6L376.6,52.6L376.8,52.6L377.0,52.6L377.2,52.6L377.4,52.6L377.6,52.6L377.8,52.6L378.0,52.6L378.2,52.6L378.4,52.6L378.6,52.6L378.8,52.6L379.0,52.6L379.1,52.6L379.3,52.6L379.5,52.6L379.7,52.6L379.9,52.6L380.1,52.6L380.3,52.6L380.5,52.6L380.7,52.6L380.9,52.6" fill="none" stroke="#e05a6c" stroke-width="1.2" stroke-linejoin="round"/>
<path d="M215.80,70.80 C216.87,70.80 220.73,73.28 222.24,70.80 C223.76,68.32 223.73,56.02 224.89,55.94 C226.04,55.86 227.75,69.68 229.18,70.30 C230.61,70.92 232.25,59.68 233.48,59.68 C234.70,59.68 235.51,70.99 236.53,70.30 C237.55,69.61 238.36,55.51 239.59,55.51 C240.81,55.51 242.45,69.72 243.88,70.30 C245.32,70.88 246.95,58.97 248.18,58.97 C249.40,58.97 250.22,70.79 251.24,70.30 C252.25,69.81 253.07,56.01 254.29,56.01 C255.52,56.01 257.16,69.78 258.59,70.30 C260.02,70.82 261.66,59.11 262.88,59.11 C264.11,59.11 264.92,70.89 265.94,70.30 C266.96,69.71 267.77,55.55 268.99,55.55 C270.22,55.55 271.86,69.58 273.29,70.30 C274.72,71.02 276.36,59.89 277.58,59.89 C278.81,59.89 279.62,70.93 280.64,70.30 C281.66,69.67 282.47,56.10 283.70,56.10 C284.92,56.10 286.56,69.82 287.99,70.30 C289.42,70.78 291.06,58.96 292.29,58.96 C293.51,58.96 294.33,70.76 295.34,70.30 C296.36,69.84 297.17,56.17 298.40,56.17 C299.63,56.17 301.26,69.74 302.70,70.30 C304.13,70.86 305.77,59.54 306.99,59.54 C308.22,59.54 309.03,70.94 310.05,70.30 C311.07,69.66 311.88,55.71 313.10,55.71 C314.33,55.71 315.97,69.75 317.40,70.30 C318.83,70.85 320.47,59.03 321.69,59.03 C322.92,59.03 323.73,70.85 324.75,70.30 C325.77,69.75 326.58,55.71 327.81,55.71 C329.03,55.71 330.67,69.57 332.10,70.30 C333.53,71.03 335.17,60.09 336.40,60.09 C337.62,60.09 338.43,71.04 339.45,70.30 C340.47,69.56 341.28,55.62 342.51,55.62 C343.73,55.62 345.37,69.73 346.80,70.30 C348.24,70.87 349.87,59.06 351.10,59.06 C352.32,59.06 353.14,70.89 354.15,70.30 C355.17,69.71 355.99,55.52 357.21,55.52 C358.44,55.52 360.07,69.71 361.51,70.30 C362.94,70.89 364.78,59.05 365.80,59.05 C366.82,59.05 365.09,68.34 367.62,70.30 C370.15,72.26 378.77,70.72 381.00,70.80" fill="none" stroke="#d9434f" stroke-width="1.2" stroke-linejoin="round"/>
<path d="M215.8,95.2L216.0,95.2L216.2,95.2L216.4,95.2L216.6,95.2L216.8,95.2L217.0,95.2L217.2,95.2L217.4,95.2L217.6,95.2L217.8,95.2L218.0,95.2L218.2,95.2L218.4,95.2L218.6,95.2L218.8,95.2L219.0,95.2L219.2,95.2L219.4,95.2L219.6,95.2L219.8,95.2L220.0,95.2L220.2,95.2L220.4,95.2L220.6,95.2L220.8,95.2L221.0,95.2L221.2,95.2L221.4,95.2L221.5,95.2L221.7,95.2L221.9,95.2L222.1,95.2L222.3,95.2L222.5,95.2L222.7,95.2L222.9,95.2L223.1,95.1L223.3,95.0L223.5,94.7L223.7,94.3L223.9,93.5L224.1,92.2L224.3,90.4L224.5,88.1L224.7,85.6L224.9,83.1L225.1,81.2L225.3,80.3L225.5,80.3L225.7,80.8L225.9,81.7L226.1,82.8L226.3,84.2L226.5,85.8L226.7,87.3L226.9,88.8L227.1,90.1L227.3,91.3L227.5,92.3L227.7,93.1L227.9,93.7L228.1,94.2L228.3,94.5L228.5,94.8L228.7,94.9L228.9,95.0L229.1,95.1L229.3,95.1L229.5,95.2L229.7,95.2L229.9,95.2L230.1,95.2L230.3,95.1L230.5,95.0L230.7,94.8L230.9,94.4L231.1,93.7L231.3,92.4L231.5,90.5L231.7,87.8L231.9,84.7L232.1,81.2L232.3,78.2L232.5,76.0L232.7,75.2L232.8,75.5L233.0,76.3L233.2,77.6L233.4,79.3L233.6,81.2L233.8,83.3L234.0,85.3L234.2,87.2L234.4,89.0L234.6,90.5L234.8,91.7L235.0,92.7L235.2,93.4L235.4,94.0L235.6,94.4L235.8,94.7L236.0,94.9L236.2,95.0L236.4,95.1L236.6,95.1L236.8,95.2L237.0,95.2L237.2,95.2L237.4,95.2L237.6,95.2L237.8,95.1L238.0,95.0L238.2,94.8L238.4,94.4L238.6,93.6L238.8,92.4L239.0,90.7L239.2,88.5L239.4,86.0L239.6,83.5L239.8,81.5L240.0,80.3L240.2,80.3L240.4,80.7L240.6,81.5L240.8,82.6L241.0,84.0L241.2,85.5L241.4,87.0L241.6,88.5L241.8,89.9L242.0,91.1L242.2,92.1L242.4,93.0L242.6,93.6L242.8,94.1L243.0,94.5L243.2,94.7L243.4,94.9L243.6,95.0L243.8,95.1L244.0,95.1L244.1,95.2L244.3,95.2L244.5,95.2L244.7,95.2L244.9,95.1L245.1,95.1L245.3,94.9L245.5,94.5L245.7,93.8L245.9,92.6L246.1,90.8L246.3,88.3L246.5,85.2L246.7,81.8L246.9,78.6L247.1,76.3L247.3,75.2L247.5,75.4L247.7,76.1L247.9,77.4L248.1,79.0L248.3,80.9L248.5,82.9L248.7,85.0L248.9,86.9L249.1,88.7L249.3,90.2L249.5,91.5L249.7,92.5L249.9,93.3L250.1,93.9L250.3,94.4L250.5,94.7L250.7,94.9L250.9,95.0L251.1,95.1L251.3,95.1L251.5,95.2L251.7,95.2L251.9,95.2L252.1,95.2L252.3,95.2L252.5,95.1L252.7,95.0L252.9,94.8L253.1,94.5L253.3,93.8L253.5,92.7L253.7,91.0L253.9,88.9L254.1,86.4L254.3,83.9L254.5,81.8L254.7,80.5L254.9,80.2L255.1,80.6L255.2,81.3L255.4,82.4L255.6,83.8L255.8,85.2L256.0,86.8L256.2,88.3L256.4,89.7L256.6,90.9L256.8,92.0L257.0,92.8L257.2,93.5L257.4,94.0L257.6,94.4L257.8,94.7L258.0,94.9L258.2,95.0L258.4,95.1L258.6,95.1L258.8,95.2L259.0,95.2L259.2,95.2L259.4,95.2L259.6,95.2L259.8,95.1L260.0,94.9L260.2,94.6L260.4,94.0L260.6,92.9L260.8,91.2L261.0,88.8L261.2,85.8L261.4,82.4L261.6,79.1L261.8,76.6L262.0,75.3L262.2,75.3L262.4,76.0L262.6,77.1L262.8,78.7L263.0,80.6L263.2,82.6L263.4,84.7L263.6,86.6L263.8,88.4L264.0,90.0L264.2,91.3L264.4,92.4L264.6,93.2L264.8,93.8L265.0,94.3L265.2,94.6L265.4,94.8L265.6,95.0L265.8,95.1L266.0,95.1L266.2,95.2L266.4,95.2L266.5,95.2L266.7,95.2L266.9,95.2L267.1,95.1L267.3,95.1L267.5,94.9L267.7,94.5L267.9,93.9L268.1,92.9L268.3,91.4L268.5,89.3L268.7,86.9L268.9,84.3L269.1,82.1L269.3,80.6L269.5,80.2L269.7,80.5L269.9,81.2L270.1,82.2L270.3,83.5L270.5,85.0L270.7,86.5L270.9,88.0L271.1,89.5L271.3,90.7L271.5,91.8L271.7,92.7L271.9,93.4L272.1,94.0L272.3,94.4L272.5,94.7L272.7,94.9L272.9,95.0L273.1,95.1L273.3,95.1L273.5,95.2L273.7,95.2L273.9,95.2L274.1,95.2L274.3,95.2L274.5,95.1L274.7,95.0L274.9,94.7L275.1,94.1L275.3,93.1L275.5,91.5L275.7,89.2L275.9,86.3L276.1,82.9L276.3,79.6L276.5,76.9L276.7,75.4L276.9,75.3L277.1,75.8L277.3,76.9L277.5,78.4L277.7,80.3L277.8,82.3L278.0,84.3L278.2,86.3L278.4,88.1L278.6,89.7L278.8,91.1L279.0,92.2L279.2,93.1L279.4,93.8L279.6,94.2L279.8,94.6L280.0,94.8L280.2,95.0L280.4,95.1L280.6,95.1L280.8,95.2L281.0,95.2L281.2,95.2L281.4,95.2L281.6,95.2L281.8,95.2L282.0,95.1L282.2,94.9L282.4,94.6L282.6,94.0L282.8,93.1L283.0,91.6L283.2,89.7L283.4,87.3L283.6,84.7L283.8,82.4L284.0,80.8L284.2,80.2L284.4,80.4L284.6,81.0L284.8,82.0L285.0,83.3L285.2,84.7L285.4,86.3L285.6,87.8L285.8,89.2L286.0,90.5L286.2,91.6L286.4,92.6L286.6,93.3L286.8,93.9L287.0,94.3L287.2,94.6L287.4,94.8L287.6,95.0L287.8,95.1L288.0,95.1L288.2,95.2L288.4,95.2L288.6,95.2L288.8,95.2L289.0,95.2L289.1,95.1L289.3,95.0L289.5,94.7L289.7,94.2L289.9,93.3L290.1,91.8L290.3,89.7L290.5,86.8L290.7,83.5L290.9,80.2L291.1,77.3L291.3,75.6L291.5,75.2L291.7,75.7L291.9,76.7L292.1,78.2L292.3,79.9L292.5,81.9L292.7,84.0L292.9,86.0L293.1,87.8L293.3,89.5L293.5,90.9L293.7,92.1L293.9,93.0L294.1,93.7L294.3,94.2L294.5,94.5L294.7,94.8L294.9,94.9L295.1,95.0L295.3,95.1L295.5,95.1L295.7,95.2L295.9,95.2L296.1,95.2L296.3,95.2L296.5,95.2L296.7,95.1L296.9,95.0L297.1,94.7L297.3,94.2L297.5,93.3L297.7,91.9L297.9,90.0L298.1,87.7L298.3,85.2L298.5,82.8L298.7,81.0L298.9,80.2L299.1,80.3L299.3,80.9L299.5,81.8L299.7,83.1L299.9,84.5L300.1,86.0L300.3,87.5L300.4,89.0L300.6,90.3L300.8,91.5L301.0,92.4L301.2,93.2L301.4,93.8L301.6,94.2L301.8,94.6L302.0,94.8L302.2,94.9L302.4,95.0L302.6,95.1L302.8,95.1L303.0,95.2L303.2,95.2L303.4,95.2L303.6,95.2L303.8,95.1L304.0,95.0L304.2,94.8L304.4,94.3L304.6,93.5L304.8,92.1L305.0,90.1L305.2,87.3L305.4,84.1L305.6,80.7L305.8,77.7L306.0,75.7L306.2,75.2L306.4,75.6L306.6,76.5L306.8,77.9L307.0,79.6L307.2,81.6L307.4,83.6L307.6,85.7L307.8,87.5L308.0,89.2L308.2,90.7L308.4,91.9L308.6,92.8L308.8,93.6L309.0,94.1L309.2,94.5L309.4,94.7L309.6,94.9L309.8,95.0L310.0,95.1L310.2,95.1L310.4,95.2L310.6,95.2L310.8,95.2L311.0,95.2L311.2,95.2L311.4,95.1L311.5,95.0L311.7,94.7L311.9,94.3L312.1,93.5L312.3,92.2L312.5,90.4L312.7,88.1L312.9,85.6L313.1,83.1L313.3,81.2L313.5,80.3L313.7,80.3L313.9,80.8L314.1,81.7L314.3,82.8L314.5,84.2L314.7,85.8L314.9,87.3L315.1,88.8L315.3,90.1L315.5,91.3L315.7,92.3L315.9,93.1L316.1,93.7L316.3,94.2L316.5,94.5L316.7,94.8L316.9,94.9L317.1,95.0L317.3,95.1L317.5,95.1L317.7,95.2L317.9,95.2L318.1,95.2L318.3,95.2L318.5,95.1L318.7,95.0L318.9,94.8L319.1,94.4L319.3,93.7L319.5,92.4L319.7,90.5L319.9,87.8L320.1,84.7L320.3,81.2L320.5,78.2L320.7,76.0L320.9,75.2L321.1,75.5L321.3,76.3L321.5,77.6L321.7,79.3L321.9,81.2L322.1,83.3L322.3,85.3L322.5,87.2L322.7,89.0L322.8,90.5L323.0,91.7L323.2,92.7L323.4,93.4L323.6,94.0L323.8,94.4L324.0,94.7L324.2,94.9L324.4,95.0L324.6,95.1L324.8,95.1L325.0,95.2L325.2,95.2L325.4,95.2L325.6,95.2L325.8,95.2L326.0,95.1L326.2,95.0L326.4,94.8L326.6,94.4L326.8,93.6L327.0,92.4L327.2,90.7L327.4,88.5L327.6,86.0L327.8,83.5L328.0,81.5L328.2,80.3L328.4,80.3L328.6,80.7L328.8,81.5L329.0,82.6L329.2,84.0L329.4,85.5L329.6,87.0L329.8,88.5L330.0,89.9L330.2,91.1L330.4,92.1L330.6,93.0L330.8,93.6L331.0,94.1L331.2,94.5L331.4,94.7L331.6,94.9L331.8,95.0L332.0,95.1L332.2,95.1L332.4,95.2L332.6,95.2L332.8,95.2L333.0,95.2L333.2,95.1L333.4,95.1L333.6,94.9L333.8,94.5L334.0,93.8L334.1,92.6L334.3,90.8L334.5,88.3L334.7,85.2L334.9,81.8L335.1,78.6L335.3,76.3L335.5,75.2L335.7,75.4L335.9,76.1L336.1,77.4L336.3,79.0L336.5,80.9L336.7,82.9L336.9,85.0L337.1,86.9L337.3,88.7L337.5,90.2L337.7,91.5L337.9,92.5L338.1,93.3L338.3,93.9L338.5,94.4L338.7,94.7L338.9,94.9L339.1,95.0L339.3,95.1L339.5,95.1L339.7,95.2L339.9,95.2L340.1,95.2L340.3,95.2L340.5,95.2L340.7,95.1L340.9,95.0L341.1,94.8L341.3,94.5L341.5,93.8L341.7,92.7L341.9,91.0L342.1,88.9L342.3,86.4L342.5,83.9L342.7,81.8L342.9,80.5L343.1,80.2L343.3,80.6L343.5,81.3L343.7,82.4L343.9,83.8L344.1,85.2L344.3,86.8L344.5,88.3L344.7,89.7L344.9,90.9L345.1,92.0L345.3,92.8L345.4,93.5L345.6,94.0L345.8,94.4L346.0,94.7L346.2,94.9L346.4,95.0L346.6,95.1L346.8,95.1L347.0,95.2L347.2,95.2L347.4,95.2L347.6,95.2L347.8,95.2L348.0,95.1L348.2,94.9L348.4,94.6L348.6,94.0L348.8,92.9L349.0,91.2L349.2,88.8L349.4,85.8L349.6,82.4L349.8,79.1L350.0,76.6L350.2,75.3L350.4,75.3L350.6,76.0L350.8,77.1L351.0,78.7L351.2,80.6L351.4,82.6L351.6,84.7L351.8,86.6L352.0,88.4L352.2,90.0L352.4,91.3L352.6,92.4L352.8,93.2L353.0,93.8L353.2,94.3L353.4,94.6L353.6,94.8L353.8,95.0L354.0,95.1L354.2,95.1L354.4,95.2L354.6,95.2L354.8,95.2L355.0,95.2L355.2,95.2L355.4,95.1L355.6,95.1L355.8,94.9L356.0,94.5L356.2,93.9L356.4,92.9L356.6,91.4L356.7,89.3L356.9,86.9L357.1,84.3L357.3,82.1L357.5,80.6L357.7,80.2L357.9,80.5L358.1,81.2L358.3,82.2L358.5,83.5L358.7,85.0L358.9,86.5L359.1,88.0L359.3,89.5L359.5,90.7L359.7,91.8L359.9,92.7L360.1,93.4L360.3,94.0L360.5,94.4L360.7,94.7L360.9,94.9L361.1,95.0L361.3,95.1L361.5,95.1L361.7,95.2L361.9,95.2L362.1,95.2L362.3,95.2L362.5,95.2L362.7,95.1L362.9,95.0L363.1,94.7L363.3,94.1L363.5,93.1L363.7,91.5L363.9,89.2L364.1,86.3L364.3,82.9L364.5,79.6L364.7,76.9L364.9,75.4L365.1,75.3L365.3,75.8L365.5,76.9L365.7,78.4L365.9,80.3L366.1,82.3L366.3,84.3L366.5,86.3L366.7,88.1L366.9,89.7L367.1,91.1L367.3,92.2L367.5,93.1L367.7,93.8L367.9,94.2L368.0,94.6L368.2,94.8L368.4,95.0L368.6,95.1L368.8,95.1L369.0,95.2L369.2,95.2L369.4,95.2L369.6,95.2L369.8,95.2L370.0,95.2L370.2,95.2L370.4,95.2L370.6,95.2L370.8,95.2L371.0,95.2L371.2,95.2L371.4,95.2L371.6,95.2L371.8,95.2L372.0,95.2L372.2,95.2L372.4,95.2L372.6,95.2L372.8,95.2L373.0,95.2L373.2,95.2L373.4,95.2L373.6,95.2L373.8,95.2L374.0,95.2L374.2,95.2L374.4,95.2L374.6,95.2L374.8,95.2L375.0,95.2L375.2,95.2L375.4,95.2L375.6,95.2L375.8,95.2L376.0,95.2L376.2,95.2L376.4,95.2L376.6,95.2L376.8,95.2L377.0,95.2L377.2,95.2L377.4,95.2L377.6,95.2L377.8,95.2L378.0,95.2L378.2,95.2L378.4,95.2L378.6,95.2L378.8,95.2L379.0,95.2L379.1,95.2L379.3,95.2L379.5,95.2L379.7,95.2L379.9,95.2L380.1,95.2L380.3,95.2L380.5,95.2L380.7,95.2L380.9,95.2" fill="none" stroke="#a9d2ef" stroke-width="1.3" stroke-linejoin="round"/>
<path d="M215.8,119.6L216.0,119.6L216.2,119.6L216.4,119.6L216.6,119.6L216.8,119.6L217.0,119.6L217.2,119.6L217.4,119.6L217.6,119.6L217.8,119.6L218.0,119.6L218.2,119.6L218.4,119.6L218.6,119.6L218.8,119.6L219.0,119.6L219.2,119.6L219.4,119.6L219.6,119.6L219.8,119.6L220.0,119.6L220.2,119.6L220.4,119.6L220.6,119.6L220.8,119.6L221.0,119.6L221.2,119.6L221.4,119.6L221.5,119.6L221.7,119.6L221.9,119.6L222.1,119.6L222.3,119.6L222.5,119.6L222.7,119.6L222.9,119.6L223.1,119.6L223.3,119.6L223.5,119.6L223.7,119.6L223.9,119.6L224.1,119.6L224.3,119.6L224.5,119.6L224.7,119.6L224.9,119.6L225.1,119.6L225.3,119.6L225.5,119.6L225.7,119.6L225.9,119.6L226.1,119.6L226.3,119.6L226.5,119.6L226.7,119.6L226.9,119.6L227.1,119.6L227.3,119.6L227.5,119.6L227.7,119.6L227.9,119.6L228.1,119.6L228.3,119.6L228.5,119.6L228.7,119.6L228.9,119.6L229.1,119.6L229.3,119.6L229.5,119.5L229.7,119.4L229.9,119.1L230.1,118.4L230.3,117.0L230.5,114.7L230.7,111.1L230.9,106.7L231.1,102.0L231.3,98.3L231.5,96.6L231.7,96.8L231.9,97.7L232.1,99.1L232.3,101.0L232.5,103.2L232.7,105.5L232.8,107.9L233.0,110.1L233.2,112.1L233.4,113.9L233.6,115.4L233.8,116.5L234.0,117.5L234.2,118.1L234.4,118.6L234.6,119.0L234.8,119.2L235.0,119.4L235.2,119.5L235.4,119.5L235.6,119.6L235.8,119.6L236.0,119.6L236.2,119.6L236.4,119.6L236.6,119.6L236.8,119.6L237.0,119.6L237.2,119.6L237.4,119.6L237.6,119.6L237.8,119.6L238.0,119.6L238.2,119.6L238.4,119.6L238.6,119.6L238.8,119.6L239.0,119.6L239.2,119.6L239.4,119.6L239.6,119.6L239.8,119.6L240.0,119.6L240.2,119.6L240.4,119.6L240.6,119.6L240.8,119.6L241.0,119.6L241.2,119.6L241.4,119.6L241.6,119.6L241.8,119.6L242.0,119.6L242.2,119.6L242.4,119.6L242.6,119.6L242.8,119.6L243.0,119.6L243.2,119.6L243.4,119.6L243.6,119.6L243.8,119.6L244.0,119.6L244.1,119.6L244.3,119.4L244.5,119.2L244.7,118.6L244.9,117.3L245.1,115.1L245.3,111.8L245.5,107.5L245.7,102.8L245.9,98.8L246.1,96.7L246.3,96.7L246.5,97.5L246.7,98.8L246.9,100.6L247.1,102.8L247.3,105.1L247.5,107.5L247.7,109.7L247.9,111.8L248.1,113.6L248.3,115.1L248.5,116.4L248.7,117.3L248.9,118.0L249.1,118.6L249.3,118.9L249.5,119.2L249.7,119.3L249.9,119.4L250.1,119.5L250.3,119.6L250.5,119.6L250.7,119.6L250.9,119.6L251.1,119.6L251.3,119.6L251.5,119.6L251.7,119.6L251.9,119.6L252.1,119.6L252.3,119.6L252.5,119.6L252.7,119.6L252.9,119.6L253.1,119.6L253.3,119.6L253.5,119.6L253.7,119.6L253.9,119.6L254.1,119.6L254.3,119.6L254.5,119.6L254.7,119.6L254.9,119.6L255.1,119.6L255.2,119.6L255.4,119.6L255.6,119.6L255.8,119.6L256.0,119.6L256.2,119.6L256.4,119.6L256.6,119.6L256.8,119.6L257.0,119.6L257.2,119.6L257.4,119.6L257.6,119.6L257.8,119.6L258.0,119.6L258.2,119.6L258.4,119.6L258.6,119.6L258.8,119.6L259.0,119.5L259.2,119.2L259.4,118.7L259.6,117.6L259.8,115.6L260.0,112.4L260.2,108.2L260.4,103.6L260.6,99.4L260.8,96.9L261.0,96.7L261.2,97.3L261.4,98.6L261.6,100.3L261.8,102.4L262.0,104.7L262.2,107.1L262.4,109.4L262.6,111.5L262.8,113.3L263.0,114.9L263.2,116.2L263.4,117.2L263.6,117.9L263.8,118.5L264.0,118.9L264.2,119.1L264.4,119.3L264.6,119.4L264.8,119.5L265.0,119.5L265.2,119.6L265.4,119.6L265.6,119.6L265.8,119.6L266.0,119.6L266.2,119.6L266.4,119.6L266.5,119.6L266.7,119.6L266.9,119.6L267.1,119.6L267.3,119.6L267.5,119.6L267.7,119.6L267.9,119.6L268.1,119.6L268.3,119.6L268.5,119.6L268.7,119.6L268.9,119.6L269.1,119.6L269.3,119.6L269.5,119.6L269.7,119.6L269.9,119.6L270.1,119.6L270.3,119.6L270.5,119.6L270.7,119.6L270.9,119.6L271.1,119.6L271.3,119.6L271.5,119.6L271.7,119.6L271.9,119.6L272.1,119.6L272.3,119.6L272.5,119.6L272.7,119.6L272.9,119.6L273.1,119.6L273.3,119.6L273.5,119.6L273.7,119.5L273.9,119.3L274.1,118.8L274.3,117.8L274.5,116.0L274.7,113.0L274.9,109.0L275.1,104.3L275.3,100.0L275.5,97.2L275.7,96.6L275.9,97.2L276.1,98.3L276.3,100.0L276.5,102.0L276.7,104.3L276.9,106.7L277.1,109.0L277.3,111.1L277.5,113.0L277.7,114.7L277.8,116.0L278.0,117.0L278.2,117.8L278.4,118.4L278.6,118.8L278.8,119.1L279.0,119.3L279.2,119.4L279.4,119.5L279.6,119.5L279.8,119.6L280.0,119.6L280.2,119.6L280.4,119.6L280.6,119.6L280.8,119.6L281.0,119.6L281.2,119.6L281.4,119.6L281.6,119.6L281.8,119.6L282.0,119.6L282.2,119.6L282.4,119.6L282.6,119.6L282.8,119.6L283.0,119.6L283.2,119.6L283.4,119.6L283.6,119.6L283.8,119.6L284.0,119.6L284.2,119.6L284.4,119.6L284.6,119.6L284.8,119.6L285.0,119.6L285.2,119.6L285.4,119.6L285.6,119.6L285.8,119.6L286.0,119.6L286.2,119.6L286.4,119.6L286.6,119.6L286.8,119.6L287.0,119.6L287.2,119.6L287.4,119.6L287.6,119.6L287.8,119.6L288.0,119.6L288.2,119.6L288.4,119.5L288.6,119.3L288.8,118.9L289.0,118.0L289.1,116.4L289.3,113.6L289.5,109.7L289.7,105.1L289.9,100.6L290.1,97.5L290.3,96.6L290.5,97.0L290.7,98.1L290.9,99.7L291.1,101.7L291.3,103.9L291.5,106.3L291.7,108.6L291.9,110.8L292.1,112.7L292.3,114.4L292.5,115.8L292.7,116.9L292.9,117.7L293.1,118.3L293.3,118.8L293.5,119.1L293.7,119.3L293.9,119.4L294.1,119.5L294.3,119.5L294.5,119.6L294.7,119.6L294.9,119.6L295.1,119.6L295.3,119.6L295.5,119.6L295.7,119.6L295.9,119.6L296.1,119.6L296.3,119.6L296.5,119.6L296.7,119.6L296.9,119.6L297.1,119.6L297.3,119.6L297.5,119.6L297.7,119.6L297.9,119.6L298.1,119.6L298.3,119.6L298.5,119.6L298.7,119.6L298.9,119.6L299.1,119.6L299.3,119.6L299.5,119.6L299.7,119.6L299.9,119.6L300.1,119.6L300.3,119.6L300.4,119.6L300.6,119.6L300.8,119.6L301.0,119.6L301.2,119.6L301.4,119.6L301.6,119.6L301.8,119.6L302.0,119.6L302.2,119.6L302.4,119.6L302.6,119.6L302.8,119.6L303.0,119.5L303.2,119.4L303.4,119.0L303.6,118.2L303.8,116.7L304.0,114.2L304.2,110.4L304.4,105.9L304.6,101.3L304.8,97.9L305.0,96.6L305.2,96.9L305.4,97.9L305.6,99.4L305.8,101.3L306.0,103.6L306.2,105.9L306.4,108.2L306.6,110.4L306.8,112.4L307.0,114.2L307.2,115.6L307.4,116.7L307.6,117.6L307.8,118.2L308.0,118.7L308.2,119.0L308.4,119.2L308.6,119.4L308.8,119.5L309.0,119.5L309.2,119.6L309.4,119.6L309.6,119.6L309.8,119.6L310.0,119.6L310.2,119.6L310.4,119.6L310.6,119.6L310.8,119.6L311.0,119.6L311.2,119.6L311.4,119.6L311.5,119.6L311.7,119.6L311.9,119.6L312.1,119.6L312.3,119.6L312.5,119.6L312.7,119.6L312.9,119.6L313.1,119.6L313.3,119.6L313.5,119.6L313.7,119.6L313.9,119.6L314.1,119.6L314.3,119.6L314.5,119.6L314.7,119.6L314.9,119.6L315.1,119.6L315.3,119.6L315.5,119.6L315.7,119.6L315.9,119.6L316.1,119.6L316.3,119.6L316.5,119.6L316.7,119.6L316.9,119.6L317.1,119.6L317.3,119.6L317.5,119.6L317.7,119.5L317.9,119.4L318.1,119.1L318.3,118.4L318.5,117.0L318.7,114.7L318.9,111.1L319.1,106.7L319.3,102.0L319.5,98.3L319.7,96.6L319.9,96.8L320.1,97.7L320.3,99.1L320.5,101.0L320.7,103.2L320.9,105.5L321.1,107.9L321.3,110.1L321.5,112.1L321.7,113.9L321.9,115.4L322.1,116.5L322.3,117.5L322.5,118.1L322.7,118.6L322.8,119.0L323.0,119.2L323.2,119.4L323.4,119.5L323.6,119.5L323.8,119.6L324.0,119.6L324.2,119.6L324.4,119.6L324.6,119.6L324.8,119.6L325.0,119.6L325.2,119.6L325.4,119.6L325.6,119.6L325.8,119.6L326.0,119.6L326.2,119.6L326.4,119.6L326.6,119.6L326.8,119.6L327.0,119.6L327.2,119.6L327.4,119.6L327.6,119.6L327.8,119.6L328.0,119.6L328.2,119.6L328.4,119.6L328.6,119.6L328.8,119.6L329.0,119.6L329.2,119.6L329.4,119.6L329.6,119.6L329.8,119.6L330.0,119.6L330.2,119.6L330.4,119.6L330.6,119.6L330.8,119.6L331.0,119.6L331.2,119.6L331.4,119.6L331.6,119.6L331.8,119.6L332.0,119.6L332.2,119.6L332.4,119.6L332.6,119.4L332.8,119.2L333.0,118.6L333.2,117.3L333.4,115.1L333.6,111.8L333.8,107.5L334.0,102.8L334.1,98.8L334.3,96.7L334.5,96.7L334.7,97.5L334.9,98.8L335.1,100.6L335.3,102.8L335.5,105.1L335.7,107.5L335.9,109.7L336.1,111.8L336.3,113.6L336.5,115.1L336.7,116.4L336.9,117.3L337.1,118.0L337.3,118.6L337.5,118.9L337.7,119.2L337.9,119.3L338.1,119.4L338.3,119.5L338.5,119.6L338.7,119.6L338.9,119.6L339.1,119.6L339.3,119.6L339.5,119.6L339.7,119.6L339.9,119.6L340.1,119.6L340.3,119.6L340.5,119.6L340.7,119.6L340.9,119.6L341.1,119.6L341.3,119.6L341.5,119.6L341.7,119.6L341.9,119.6L342.1,119.6L342.3,119.6L342.5,119.6L342.7,119.6L342.9,119.6L343.1,119.6L343.3,119.6L343.5,119.6L343.7,119.6L343.9,119.6L344.1,119.6L344.3,119.6L344.5,119.6L344.7,119.6L344.9,119.6L345.1,119.6L345.3,119.6L345.4,119.6L345.6,119.6L345.8,119.6L346.0,119.6L346.2,119.6L346.4,119.6L346.6,119.6L346.8,119.6L347.0,119.6L347.2,119.5L347.4,119.2L347.6,118.7L347.8,117.6L348.0,115.6L348.2,112.4L348.4,108.2L348.6,103.6L348.8,99.4L349.0,96.9L349.2,96.7L349.4,97.3L349.6,98.6L349.8,100.3L350.0,102.4L350.2,104.7L350.4,107.1L350.6,109.4L350.8,111.5L351.0,113.3L351.2,114.9L351.4,116.2L351.6,117.2L351.8,117.9L352.0,118.5L352.2,118.9L352.4,119.1L352.6,119.3L352.8,119.4L353.0,119.5L353.2,119.5L353.4,119.6L353.6,119.6L353.8,119.6L354.0,119.6L354.2,119.6L354.4,119.6L354.6,119.6L354.8,119.6L355.0,119.6L355.2,119.6L355.4,119.6L355.6,119.6L355.8,119.6L356.0,119.6L356.2,119.6L356.4,119.6L356.6,119.6L356.7,119.6L356.9,119.6L357.1,119.6L357.3,119.6L357.5,119.6L357.7,119.6L357.9,119.6L358.1,119.6L358.3,119.6L358.5,119.6L358.7,119.6L358.9,119.6L359.1,119.6L359.3,119.6L359.5,119.6L359.7,119.6L359.9,119.6L360.1,119.6L360.3,119.6L360.5,119.6L360.7,119.6L360.9,119.6L361.1,119.6L361.3,119.6L361.5,119.6L361.7,119.6L361.9,119.5L362.1,119.3L362.3,118.8L362.5,117.8L362.7,116.0L362.9,113.0L363.1,109.0L363.3,104.3L363.5,100.0L363.7,97.2L363.9,96.6L364.1,97.2L364.3,98.3L364.5,100.0L364.7,102.0L364.9,104.3L365.1,106.7L365.3,109.0L365.5,111.1L365.7,113.0L365.9,114.7L366.1,116.0L366.3,117.0L366.5,117.8L366.7,118.4L366.9,118.8L367.1,119.1L367.3,119.3L367.5,119.4L367.7,119.5L367.9,119.5L368.0,119.6L368.2,119.6L368.4,119.6L368.6,119.6L368.8,119.6L369.0,119.6L369.2,119.6L369.4,119.6L369.6,119.6L369.8,119.6L370.0,119.6L370.2,119.6L370.4,119.6L370.6,119.6L370.8,119.6L371.0,119.6L371.2,119.6L371.4,119.6L371.6,119.6L371.8,119.6L372.0,119.6L372.2,119.6L372.4,119.6L372.6,119.6L372.8,119.6L373.0,119.6L373.2,119.6L373.4,119.6L373.6,119.6L373.8,119.6L374.0,119.6L374.2,119.6L374.4,119.6L374.6,119.6L374.8,119.6L375.0,119.6L375.2,119.6L375.4,119.6L375.6,119.6L375.8,119.6L376.0,119.6L376.2,119.6L376.4,119.6L376.6,119.6L376.8,119.6L377.0,119.6L377.2,119.6L377.4,119.6L377.6,119.6L377.8,119.6L378.0,119.6L378.2,119.6L378.4,119.6L378.6,119.6L378.8,119.6L379.0,119.6L379.1,119.6L379.3,119.6L379.5,119.6L379.7,119.6L379.9,119.6L380.1,119.6L380.3,119.6L380.5,119.6L380.7,119.6L380.9,119.6" fill="none" stroke="#4c9fd8" stroke-width="1.3" stroke-linejoin="round"/>
<path d="M215.8,144.0L216.0,144.0L216.2,144.0L216.4,144.0L216.6,144.0L216.8,144.0L217.0,144.0L217.2,144.0L217.4,144.0L217.6,144.0L217.8,144.0L218.0,144.0L218.2,144.0L218.4,144.0L218.6,144.0L218.8,144.0L219.0,144.0L219.2,144.0L219.4,144.0L219.6,144.0L219.8,144.0L220.0,144.0L220.2,144.0L220.4,144.0L220.6,144.0L220.8,144.0L221.0,144.0L221.2,144.0L221.4,144.0L221.5,144.0L221.7,144.0L221.9,144.0L222.1,144.0L222.3,143.9L222.5,143.9L222.7,143.6L222.9,143.2L223.1,142.3L223.3,140.7L223.5,138.4L223.7,135.2L223.9,131.6L224.1,128.0L224.3,125.3L224.5,124.0L224.7,124.2L224.9,125.2L225.1,126.7L225.3,128.6L225.5,130.8L225.7,133.1L225.9,135.3L226.1,137.3L226.3,139.0L226.5,140.4L226.7,141.5L226.9,142.3L227.1,142.9L227.3,143.3L227.5,143.6L227.7,143.8L227.9,143.9L228.1,143.9L228.3,144.0L228.5,144.0L228.7,144.0L228.9,144.0L229.1,144.0L229.3,144.0L229.5,144.0L229.7,143.9L229.9,143.7L230.1,143.4L230.3,142.7L230.5,141.7L230.7,140.0L230.9,137.9L231.1,135.5L231.3,133.3L231.5,131.6L231.7,131.0L231.9,131.2L232.1,131.9L232.3,132.9L232.5,134.2L232.7,135.7L232.8,137.1L233.0,138.6L233.2,139.8L233.4,140.9L233.6,141.8L233.8,142.5L234.0,143.0L234.2,143.4L234.4,143.6L234.6,143.8L234.8,143.9L235.0,143.9L235.2,144.0L235.4,144.0L235.6,144.0L235.8,144.0L236.0,144.0L236.2,144.0L236.4,144.0L236.6,144.0L236.8,144.0L237.0,144.0L237.2,143.9L237.4,143.7L237.6,143.3L237.8,142.5L238.0,141.0L238.2,138.8L238.4,135.8L238.6,132.2L238.8,128.6L239.0,125.6L239.2,124.1L239.4,124.2L239.6,125.0L239.8,126.4L240.0,128.3L240.2,130.4L240.4,132.7L240.6,134.9L240.8,137.0L241.0,138.7L241.2,140.2L241.4,141.4L241.6,142.2L241.8,142.8L242.0,143.3L242.2,143.6L242.4,143.7L242.6,143.9L242.8,143.9L243.0,144.0L243.2,144.0L243.4,144.0L243.6,144.0L243.8,144.0L244.0,144.0L244.1,144.0L244.3,143.9L244.5,143.8L244.7,143.5L244.9,142.9L245.1,141.9L245.3,140.4L245.5,138.3L245.7,135.9L245.9,133.6L246.1,131.8L246.3,131.0L246.5,131.2L246.7,131.8L246.9,132.7L247.1,134.0L247.3,135.4L247.5,136.9L247.7,138.3L247.9,139.6L248.1,140.8L248.3,141.7L248.5,142.4L248.7,142.9L248.9,143.3L249.1,143.6L249.3,143.7L249.5,143.8L249.7,143.9L249.9,144.0L250.1,144.0L250.3,144.0L250.5,144.0L250.7,144.0L250.9,144.0L251.1,144.0L251.3,144.0L251.5,144.0L251.7,144.0L251.9,143.9L252.1,143.7L252.3,143.4L252.5,142.6L252.7,141.3L252.9,139.3L253.1,136.4L253.3,132.8L253.5,129.1L253.7,126.0L253.9,124.2L254.1,124.1L254.3,124.8L254.5,126.1L254.7,127.9L254.9,130.0L255.1,132.3L255.2,134.6L255.4,136.6L255.6,138.5L255.8,140.0L256.0,141.2L256.2,142.1L256.4,142.8L256.6,143.2L256.8,143.5L257.0,143.7L257.2,143.8L257.4,143.9L257.6,144.0L257.8,144.0L258.0,144.0L258.2,144.0L258.4,144.0L258.6,144.0L258.8,144.0L259.0,143.9L259.2,143.8L259.4,143.5L259.6,143.0L259.8,142.1L260.0,140.6L260.2,138.7L260.4,136.3L260.6,134.0L260.8,132.1L261.0,131.1L261.2,131.1L261.4,131.6L261.6,132.5L261.8,133.8L262.0,135.2L262.2,136.7L262.4,138.1L262.6,139.4L262.8,140.6L263.0,141.5L263.2,142.3L263.4,142.8L263.6,143.2L263.8,143.5L264.0,143.7L264.2,143.8L264.4,143.9L264.6,143.9L264.8,144.0L265.0,144.0L265.2,144.0L265.4,144.0L265.6,144.0L265.8,144.0L266.0,144.0L266.2,144.0L266.4,144.0L266.5,143.9L266.7,143.8L266.9,143.4L267.1,142.8L267.3,141.6L267.5,139.7L267.7,136.9L267.9,133.5L268.1,129.7L268.3,126.5L268.5,124.4L268.7,124.0L268.9,124.6L269.1,125.8L269.3,127.6L269.5,129.7L269.7,131.9L269.9,134.2L270.1,136.3L270.3,138.2L270.5,139.7L270.7,141.0L270.9,142.0L271.1,142.7L271.3,143.2L271.5,143.5L271.7,143.7L271.9,143.8L272.1,143.9L272.3,143.9L272.5,144.0L272.7,144.0L272.9,144.0L273.1,144.0L273.3,144.0L273.5,144.0L273.7,143.9L273.9,143.8L274.1,143.6L274.3,143.1L274.5,142.3L274.7,140.9L274.9,139.0L275.1,136.7L275.3,134.3L275.5,132.3L275.7,131.2L275.9,131.1L276.1,131.5L276.3,132.4L276.5,133.5L276.7,134.9L276.9,136.4L277.1,137.9L277.3,139.2L277.5,140.4L277.7,141.4L277.8,142.2L278.0,142.8L278.2,143.2L278.4,143.5L278.6,143.7L278.8,143.8L279.0,143.9L279.2,143.9L279.4,144.0L279.6,144.0L279.8,144.0L280.0,144.0L280.2,144.0L280.4,144.0L280.6,144.0L280.8,144.0L281.0,144.0L281.2,143.9L281.4,143.8L281.6,143.5L281.8,142.9L282.0,141.8L282.2,140.0L282.4,137.4L282.6,134.1L282.8,130.4L283.0,127.0L283.2,124.7L283.4,124.0L283.6,124.5L283.8,125.6L284.0,127.3L284.2,129.3L284.4,131.6L284.6,133.8L284.8,136.0L285.0,137.9L285.2,139.5L285.4,140.8L285.6,141.8L285.8,142.6L286.0,143.1L286.2,143.4L286.4,143.7L286.6,143.8L286.8,143.9L287.0,143.9L287.2,144.0L287.4,144.0L287.6,144.0L287.8,144.0L288.0,144.0L288.2,144.0L288.4,143.9L288.6,143.8L288.8,143.6L289.0,143.2L289.1,142.4L289.3,141.2L289.5,139.4L289.7,137.1L289.9,134.7L290.1,132.6L290.3,131.3L290.5,131.0L290.7,131.4L290.9,132.2L291.1,133.3L291.3,134.7L291.5,136.2L291.7,137.6L291.9,139.0L292.1,140.2L292.3,141.2L292.5,142.1L292.7,142.7L292.9,143.1L293.1,143.4L293.3,143.7L293.5,143.8L293.7,143.9L293.9,143.9L294.1,144.0L294.3,144.0L294.5,144.0L294.7,144.0L294.9,144.0L295.1,144.0L295.3,144.0L295.5,144.0L295.7,144.0L295.9,143.9L296.1,143.8L296.3,143.6L296.5,143.0L296.7,142.1L296.9,140.4L297.1,137.9L297.3,134.7L297.5,131.0L297.7,127.5L297.9,124.9L298.1,124.0L298.3,124.4L298.5,125.4L298.7,127.0L298.9,129.0L299.1,131.2L299.3,133.5L299.5,135.6L299.7,137.6L299.9,139.3L300.1,140.6L300.3,141.7L300.4,142.5L300.6,143.0L300.8,143.4L301.0,143.6L301.2,143.8L301.4,143.9L301.6,143.9L301.8,144.0L302.0,144.0L302.2,144.0L302.4,144.0L302.6,144.0L302.8,144.0L303.0,144.0L303.2,143.9L303.4,143.7L303.6,143.3L303.8,142.6L304.0,141.4L304.2,139.7L304.4,137.5L304.6,135.1L304.8,132.9L305.0,131.4L305.2,131.0L305.4,131.3L305.6,132.0L305.8,133.1L306.0,134.5L306.2,135.9L306.4,137.4L306.6,138.8L306.8,140.0L307.0,141.1L307.2,141.9L307.4,142.6L307.6,143.1L307.8,143.4L308.0,143.6L308.2,143.8L308.4,143.9L308.6,143.9L308.8,144.0L309.0,144.0L309.2,144.0L309.4,144.0L309.6,144.0L309.8,144.0L310.0,144.0L310.2,144.0L310.4,144.0L310.6,143.9L310.8,143.9L311.0,143.6L311.2,143.2L311.4,142.3L311.5,140.7L311.7,138.4L311.9,135.2L312.1,131.6L312.3,128.0L312.5,125.3L312.7,124.0L312.9,124.2L313.1,125.2L313.3,126.7L313.5,128.6L313.7,130.8L313.9,133.1L314.1,135.3L314.3,137.3L314.5,139.0L314.7,140.4L314.9,141.5L315.1,142.3L315.3,142.9L315.5,143.3L315.7,143.6L315.9,143.8L316.1,143.9L316.3,143.9L316.5,144.0L316.7,144.0L316.9,144.0L317.1,144.0L317.3,144.0L317.5,144.0L317.7,144.0L317.9,143.9L318.1,143.7L318.3,143.4L318.5,142.7L318.7,141.7L318.9,140.0L319.1,137.9L319.3,135.5L319.5,133.3L319.7,131.6L319.9,131.0L320.1,131.2L320.3,131.9L320.5,132.9L320.7,134.2L320.9,135.7L321.1,137.1L321.3,138.6L321.5,139.8L321.7,140.9L321.9,141.8L322.1,142.5L322.3,143.0L322.5,143.4L322.7,143.6L322.8,143.8L323.0,143.9L323.2,143.9L323.4,144.0L323.6,144.0L323.8,144.0L324.0,144.0L324.2,144.0L324.4,144.0L324.6,144.0L324.8,144.0L325.0,144.0L325.2,144.0L325.4,143.9L325.6,143.7L325.8,143.3L326.0,142.5L326.2,141.0L326.4,138.8L326.6,135.8L326.8,132.2L327.0,128.6L327.2,125.6L327.4,124.1L327.6,124.2L327.8,125.0L328.0,126.4L328.2,128.3L328.4,130.4L328.6,132.7L328.8,134.9L329.0,137.0L329.2,138.7L329.4,140.2L329.6,141.4L329.8,142.2L330.0,142.8L330.2,143.3L330.4,143.6L330.6,143.7L330.8,143.9L331.0,143.9L331.2,144.0L331.4,144.0L331.6,144.0L331.8,144.0L332.0,144.0L332.2,144.0L332.4,144.0L332.6,143.9L332.8,143.8L333.0,143.5L333.2,142.9L333.4,141.9L333.6,140.4L333.8,138.3L334.0,135.9L334.1,133.6L334.3,131.8L334.5,131.0L334.7,131.2L334.9,131.8L335.1,132.7L335.3,134.0L335.5,135.4L335.7,136.9L335.9,138.3L336.1,139.6L336.3,140.8L336.5,141.7L336.7,142.4L336.9,142.9L337.1,143.3L337.3,143.6L337.5,143.7L337.7,143.8L337.9,143.9L338.1,144.0L338.3,144.0L338.5,144.0L338.7,144.0L338.9,144.0L339.1,144.0L339.3,144.0L339.5,144.0L339.7,144.0L339.9,144.0L340.1,143.9L340.3,143.7L340.5,143.4L340.7,142.6L340.9,141.3L341.1,139.3L341.3,136.4L341.5,132.8L341.7,129.1L341.9,126.0L342.1,124.2L342.3,124.1L342.5,124.8L342.7,126.1L342.9,127.9L343.1,130.0L343.3,132.3L343.5,134.6L343.7,136.6L343.9,138.5L344.1,140.0L344.3,141.2L344.5,142.1L344.7,142.8L344.9,143.2L345.1,143.5L345.3,143.7L345.4,143.8L345.6,143.9L345.8,144.0L346.0,144.0L346.2,144.0L346.4,144.0L346.6,144.0L346.8,144.0L347.0,144.0L347.2,143.9L347.4,143.8L347.6,143.5L347.8,143.0L348.0,142.1L348.2,140.6L348.4,138.7L348.6,136.3L348.8,134.0L349.0,132.1L349.2,131.1L349.4,131.1L349.6,131.6L349.8,132.5L350.0,133.8L350.2,135.2L350.4,136.7L350.6,138.1L350.8,139.4L351.0,140.6L351.2,141.5L351.4,142.3L351.6,142.8L351.8,143.2L352.0,143.5L352.2,143.7L352.4,143.8L352.6,143.9L352.8,143.9L353.0,144.0L353.2,144.0L353.4,144.0L353.6,144.0L353.8,144.0L354.0,144.0L354.2,144.0L354.4,144.0L354.6,144.0L354.8,143.9L355.0,143.8L355.2,143.4L355.4,142.8L355.6,141.6L355.8,139.7L356.0,136.9L356.2,133.5L356.4,129.7L356.6,126.5L356.7,124.4L356.9,124.0L357.1,124.6L357.3,125.8L357.5,127.6L357.7,129.7L357.9,131.9L358.1,134.2L358.3,136.3L358.5,138.2L358.7,139.7L358.9,141.0L359.1,142.0L359.3,142.7L359.5,143.2L359.7,143.5L359.9,143.7L360.1,143.8L360.3,143.9L360.5,143.9L360.7,144.0L360.9,144.0L361.1,144.0L361.3,144.0L361.5,144.0L361.7,144.0L361.9,143.9L362.1,143.8L362.3,143.6L362.5,143.1L362.7,142.3L362.9,140.9L363.1,139.0L363.3,136.7L363.5,134.3L363.7,132.3L363.9,131.2L364.1,131.1L364.3,131.5L364.5,132.4L364.7,133.5L364.9,134.9L365.1,136.4L365.3,137.9L365.5,139.2L365.7,140.4L365.9,141.4L366.1,142.2L366.3,142.8L366.5,143.2L366.7,143.5L366.9,143.7L367.1,143.8L367.3,143.9L367.5,143.9L367.7,144.0L367.9,144.0L368.0,144.0L368.2,144.0L368.4,144.0L368.6,144.0L368.8,144.0L369.0,144.0L369.2,144.0L369.4,144.0L369.6,144.0L369.8,144.0L370.0,144.0L370.2,144.0L370.4,144.0L370.6,144.0L370.8,144.0L371.0,144.0L371.2,144.0L371.4,144.0L371.6,144.0L371.8,144.0L372.0,144.0L372.2,144.0L372.4,144.0L372.6,144.0L372.8,144.0L373.0,144.0L373.2,144.0L373.4,144.0L373.6,144.0L373.8,144.0L374.0,144.0L374.2,144.0L374.4,144.0L374.6,144.0L374.8,144.0L375.0,144.0L375.2,144.0L375.4,144.0L375.6,144.0L375.8,144.0L376.0,144.0L376.2,144.0L376.4,144.0L376.6,144.0L376.8,144.0L377.0,144.0L377.2,144.0L377.4,144.0L377.6,144.0L377.8,144.0L378.0,144.0L378.2,144.0L378.4,144.0L378.6,144.0L378.8,144.0L379.0,144.0L379.1,144.0L379.3,144.0L379.5,144.0L379.7,144.0L379.9,144.0L380.1,144.0L380.3,144.0L380.5,144.0L380.7,144.0L380.9,144.0" fill="none" stroke="#4b8bf2" stroke-width="1.3" stroke-linejoin="round"/>
<line x1="215.80" y1="14.20" x2="215.80" y2="147.10" stroke="#777" stroke-width="1.1" />
<line x1="215.80" y1="14.20" x2="381.00" y2="14.20" stroke="#222" stroke-width="1.0" />
<line x1="381.00" y1="14.20" x2="381.00" y2="147.10" stroke="#111" stroke-width="1.1" />
<line x1="215.80" y1="147.10" x2="381.50" y2="147.10" stroke="#111" stroke-width="1.1" />
<line x1="215.80" y1="147.10" x2="215.80" y2="149.50" stroke="#111" stroke-width="1" />
<line x1="232.32" y1="147.10" x2="232.32" y2="149.50" stroke="#111" stroke-width="1" />
<line x1="248.84" y1="147.10" x2="248.84" y2="149.50" stroke="#111" stroke-width="1" />
<line x1="265.36" y1="147.10" x2="265.36" y2="149.50" stroke="#111" stroke-width="1" />
<line x1="281.88" y1="147.10" x2="281.88" y2="149.50" stroke="#111" stroke-width="1" />
<line x1="298.40" y1="147.10" x2="298.40" y2="149.50" stroke="#111" stroke-width="1" />
<line x1="314.92" y1="147.10" x2="314.92" y2="149.50" stroke="#111" stroke-width="1" />
<line x1="331.44" y1="147.10" x2="331.44" y2="149.50" stroke="#111" stroke-width="1" />
<line x1="347.96" y1="147.10" x2="347.96" y2="149.50" stroke="#111" stroke-width="1" />
<line x1="364.48" y1="147.10" x2="364.48" y2="149.50" stroke="#111" stroke-width="1" />
<line x1="381.00" y1="147.10" x2="381.00" y2="149.50" stroke="#111" stroke-width="1" />
<text x="215.80" y="160.80" font-size="11.7" fill="#000" font-weight="bold" text-anchor="middle">0</text>
<text x="232.32" y="160.80" font-size="11.7" fill="#000" font-weight="bold" text-anchor="middle">10</text>
<text x="248.84" y="160.80" font-size="11.7" fill="#000" font-weight="bold" text-anchor="middle">20</text>
<text x="265.36" y="160.80" font-size="11.7" fill="#000" font-weight="bold" text-anchor="middle">30</text>
<text x="281.88" y="160.80" font-size="11.7" fill="#000" font-weight="bold" text-anchor="middle">40</text>
<text x="298.40" y="160.80" font-size="11.7" fill="#000" font-weight="bold" text-anchor="middle">50</text>
<text x="314.92" y="160.80" font-size="11.7" fill="#000" font-weight="bold" text-anchor="middle">60</text>
<text x="331.44" y="160.80" font-size="11.7" fill="#000" font-weight="bold" text-anchor="middle">70</text>
<text x="347.96" y="160.80" font-size="11.7" fill="#000" font-weight="bold" text-anchor="middle">80</text>
<text x="364.48" y="160.80" font-size="11.7" fill="#000" font-weight="bold" text-anchor="middle">90</text>
<text x="380.60" y="160.80" font-size="11.7" fill="#000" font-weight="bold" text-anchor="middle" textLength="20.2" lengthAdjust="spacingAndGlyphs">100</text>
<text x="299.10" y="178.00" font-size="12" fill="#000" font-weight="bold" text-anchor="middle" textLength="61" lengthAdjust="spacingAndGlyphs">Time (min)</text>
<text x="208.90" y="80.85" font-size="12" fill="#000" font-weight="bold" text-anchor="middle" textLength="81.3" lengthAdjust="spacingAndGlyphs" transform="rotate(-90 208.90 80.85)">Intensity (a.u.)</text>
<line x1="381.00" y1="43.70" x2="383.60" y2="43.70" stroke="#111" stroke-width="1" />
<text x="385.80" y="47.40" font-size="10.6" fill="#000" font-weight="600">CO</text>
<line x1="381.00" y1="53.00" x2="383.60" y2="53.00" stroke="#111" stroke-width="1" />
<text x="385.80" y="56.70" font-size="10.6" fill="#000" font-weight="600">H<tspan font-size="7.5" dy="2.20">2</tspan><tspan dy="-2.2">O</tspan></text>
<line x1="381.00" y1="70.40" x2="383.60" y2="70.40" stroke="#111" stroke-width="1" />
<text x="385.80" y="74.10" font-size="10.6" fill="#000" font-weight="600">H<tspan font-size="7.5" dy="2.20">2</tspan></text>
<line x1="381.00" y1="94.80" x2="383.60" y2="94.80" stroke="#111" stroke-width="1" />
<text x="385.80" y="98.50" font-size="10.6" fill="#000" font-weight="600">C<tspan font-size="7.5" dy="2.20">3</tspan><tspan dy="-2.2">H</tspan><tspan font-size="7.5" dy="2.20">6</tspan></text>
<line x1="381.00" y1="118.90" x2="383.60" y2="118.90" stroke="#111" stroke-width="1" />
<text x="385.80" y="122.60" font-size="10.6" fill="#000" font-weight="600">CO<tspan font-size="7.5" dy="2.20">2</tspan></text>
<line x1="381.00" y1="143.60" x2="383.60" y2="143.60" stroke="#111" stroke-width="1" />
<text x="385.80" y="147.30" font-size="10.6" fill="#000" font-weight="600">C<tspan font-size="7.5" dy="2.20">3</tspan><tspan dy="-2.2">H</tspan><tspan font-size="7.5" dy="2.20">8</tspan></text>
<rect x="223.90" y="17.90" width="5.20" height="5.20" fill="#ee4f1e" stroke="none" stroke-width="1.0" />
<text x="231.60" y="24.70" font-size="10.2" fill="#000" font-weight="bold" textLength="49" lengthAdjust="spacingAndGlyphs">5% C<tspan font-size="7" dy="2.00">3</tspan><tspan dy="-2">H</tspan><tspan font-size="7" dy="2.00">8</tspan><tspan dy="-2">/Ar</tspan></text>
<path d="M288.6,16.6L289.6,19.4L292.6,19.5L290.3,21.3L291.1,24.2L288.6,22.6L286.1,24.2L286.9,21.3L284.6,19.5L287.6,19.4 Z" fill="#3b7fa0"/>
<text x="293.40" y="24.70" font-size="10.2" fill="#000" font-weight="bold" textLength="79" lengthAdjust="spacingAndGlyphs">5%C<tspan font-size="7" dy="2.00">3</tspan><tspan dy="-2">H</tspan><tspan font-size="7" dy="2.00">8</tspan><tspan dy="-2">/5%CO</tspan><tspan font-size="7" dy="2.00">2</tspan><tspan dy="-2">/Ar</tspan></text>
<rect x="221.80" y="29.40" width="4.80" height="4.80" fill="#ee4f1e" stroke="none" stroke-width="1.0" />
<path d="M231.8,27.9L232.8,30.5L235.6,30.7L233.4,32.4L234.2,35.1L231.8,33.6L229.4,35.1L230.2,32.4L228.0,30.7L230.8,30.5 Z" fill="#3b7fa0"/>
<rect x="236.47" y="29.40" width="4.80" height="4.80" fill="#ee4f1e" stroke="none" stroke-width="1.0" />
<path d="M246.5,27.9L247.5,30.5L250.3,30.7L248.1,32.4L248.8,35.1L246.5,33.6L244.1,35.1L244.9,32.4L242.7,30.7L245.5,30.5 Z" fill="#3b7fa0"/>
<rect x="251.14" y="29.40" width="4.80" height="4.80" fill="#ee4f1e" stroke="none" stroke-width="1.0" />
<path d="M261.1,27.9L262.1,30.5L264.9,30.7L262.7,32.4L263.5,35.1L261.1,33.6L258.8,35.1L259.5,32.4L257.3,30.7L260.2,30.5 Z" fill="#3b7fa0"/>
<rect x="265.81" y="29.40" width="4.80" height="4.80" fill="#ee4f1e" stroke="none" stroke-width="1.0" />
<path d="M275.8,27.9L276.8,30.5L279.6,30.7L277.4,32.4L278.2,35.1L275.8,33.6L273.5,35.1L274.2,32.4L272.0,30.7L274.8,30.5 Z" fill="#3b7fa0"/>
<rect x="280.48" y="29.40" width="4.80" height="4.80" fill="#ee4f1e" stroke="none" stroke-width="1.0" />
<path d="M290.5,27.9L291.5,30.5L294.3,30.7L292.1,32.4L292.8,35.1L290.5,33.6L288.1,35.1L288.9,32.4L286.7,30.7L289.5,30.5 Z" fill="#3b7fa0"/>
<rect x="295.15" y="29.40" width="4.80" height="4.80" fill="#ee4f1e" stroke="none" stroke-width="1.0" />
<path d="M305.1,27.9L306.1,30.5L309.0,30.7L306.7,32.4L307.5,35.1L305.1,33.6L302.8,35.1L303.6,32.4L301.3,30.7L304.2,30.5 Z" fill="#3b7fa0"/>
<rect x="309.82" y="29.40" width="4.80" height="4.80" fill="#ee4f1e" stroke="none" stroke-width="1.0" />
<path d="M319.8,27.9L320.8,30.5L323.6,30.7L321.4,32.4L322.2,35.1L319.8,33.6L317.5,35.1L318.2,32.4L316.0,30.7L318.8,30.5 Z" fill="#3b7fa0"/>
<rect x="324.49" y="29.40" width="4.80" height="4.80" fill="#ee4f1e" stroke="none" stroke-width="1.0" />
<path d="M334.5,27.9L335.5,30.5L338.3,30.7L336.1,32.4L336.8,35.1L334.5,33.6L332.1,35.1L332.9,32.4L330.7,30.7L333.5,30.5 Z" fill="#3b7fa0"/>
<rect x="339.16" y="29.40" width="4.80" height="4.80" fill="#ee4f1e" stroke="none" stroke-width="1.0" />
<path d="M349.2,27.9L350.1,30.5L353.0,30.7L350.8,32.4L351.5,35.1L349.2,33.6L346.8,35.1L347.6,32.4L345.4,30.7L348.2,30.5 Z" fill="#3b7fa0"/>
<rect x="353.83" y="29.40" width="4.80" height="4.80" fill="#ee4f1e" stroke="none" stroke-width="1.0" />
<path d="M363.8,27.9L364.8,30.5L367.6,30.7L365.4,32.4L366.2,35.1L363.8,33.6L361.5,35.1L362.2,32.4L360.0,30.7L362.8,30.5 Z" fill="#3b7fa0"/>
<text x="420.60" y="12.30" font-size="16.5" fill="#000" font-weight="bold">c</text>
<line x1="455.80" y1="144.80" x2="539.50" y2="144.80" stroke="#c4c4c4" stroke-width="1.4" />
<path d="M456.30,138.80 C457.75,138.77 462.05,138.78 465.00,138.60 C467.95,138.42 471.47,138.08 474.00,137.70 C476.53,137.32 478.78,137.03 480.20,136.30 C481.62,135.57 481.80,135.05 482.50,133.30 C483.20,131.55 483.78,128.63 484.40,125.80 C485.02,122.97 485.65,120.55 486.20,116.30 C486.75,112.05 487.23,106.97 487.70,100.30 C488.17,93.63 488.55,81.52 489.00,76.30 C489.45,71.08 490.02,71.05 490.40,69.00 C490.78,66.95 491.00,64.00 491.30,64.00 C491.60,64.00 491.82,66.00 492.20,69.00 C492.58,72.00 493.17,75.45 493.60,82.00 C494.03,88.55 494.43,101.58 494.80,108.30 C495.17,115.02 495.40,118.80 495.80,122.30 C496.20,125.80 496.62,127.63 497.20,129.30 C497.78,130.97 498.33,131.05 499.30,132.30 C500.27,133.55 501.68,135.55 503.00,136.80 C504.32,138.05 505.40,139.30 507.20,139.80 C509.00,140.30 511.67,140.17 513.80,139.80 C515.93,139.43 517.63,139.06 520.00,137.60 C522.37,136.14 524.80,133.57 528.00,131.05 C531.20,128.53 537.33,123.92 539.20,122.50" fill="none" stroke="#f4c2c6" stroke-width="1.2" stroke-linejoin="round"/>
<path d="M456.30,139.10 C457.75,139.07 462.05,139.08 465.00,138.90 C467.95,138.72 471.47,138.38 474.00,138.00 C476.53,137.62 478.78,137.33 480.20,136.60 C481.62,135.87 481.80,135.35 482.50,133.60 C483.20,131.85 483.78,128.93 484.40,126.10 C485.02,123.27 485.65,120.85 486.20,116.60 C486.75,112.35 487.23,107.27 487.70,100.60 C488.17,93.93 488.55,82.20 489.00,76.60 C489.45,71.00 490.02,69.43 490.40,67.00 C490.78,64.57 491.00,62.00 491.30,62.00 C491.60,62.00 491.82,64.00 492.20,67.00 C492.58,70.00 493.17,73.07 493.60,80.00 C494.03,86.93 494.43,101.50 494.80,108.60 C495.17,115.70 495.40,119.10 495.80,122.60 C496.20,126.10 496.62,127.93 497.20,129.60 C497.78,131.27 498.33,131.28 499.30,132.60 C500.27,133.92 501.68,136.18 503.00,137.50 C504.32,138.82 505.40,140.00 507.20,140.50 C509.00,141.00 511.67,140.87 513.80,140.50 C515.93,140.13 517.63,139.80 520.00,138.30 C522.37,136.80 524.80,134.10 528.00,131.50 C531.20,128.90 537.33,124.17 539.20,122.70" fill="none" stroke="#e2525f" stroke-width="1.3" stroke-linejoin="round"/>
<path d="M456.30,140.70 C457.75,140.67 462.05,140.68 465.00,140.50 C467.95,140.32 471.47,139.98 474.00,139.60 C476.53,139.22 478.78,138.93 480.20,138.20 C481.62,137.47 481.80,136.95 482.50,135.20 C483.20,133.45 483.78,130.53 484.40,127.70 C485.02,124.87 485.65,122.45 486.20,118.20 C486.75,113.95 487.23,108.87 487.70,102.20 C488.17,95.53 488.55,87.40 489.00,78.20 C489.45,69.00 490.02,53.03 490.40,47.00 C490.78,40.97 491.00,42.00 491.30,42.00 C491.60,42.00 491.82,40.97 492.20,47.00 C492.58,53.03 493.17,67.67 493.60,78.20 C494.03,88.73 494.43,102.53 494.80,110.20 C495.17,117.87 495.40,120.70 495.80,124.20 C496.20,127.70 496.62,129.53 497.20,131.20 C497.78,132.87 498.33,132.53 499.30,134.20 C500.27,135.87 501.68,139.53 503.00,141.20 C504.32,142.87 505.40,143.70 507.20,144.20 C509.00,144.70 511.67,144.57 513.80,144.20 C515.93,143.83 517.63,142.42 520.00,142.00 C522.37,141.58 524.80,142.13 528.00,141.70 C531.20,141.27 537.33,139.78 539.20,139.40" fill="none" stroke="#a7d3ef" stroke-width="1.3" stroke-linejoin="round"/>
<path d="M456.30,141.10 C457.75,141.07 462.05,141.08 465.00,140.90 C467.95,140.72 471.47,140.38 474.00,140.00 C476.53,139.62 478.78,139.33 480.20,138.60 C481.62,137.87 481.80,137.35 482.50,135.60 C483.20,133.85 483.78,130.93 484.40,128.10 C485.02,125.27 485.65,122.85 486.20,118.60 C486.75,114.35 487.23,109.27 487.70,102.60 C488.17,95.93 488.55,88.87 489.00,78.60 C489.45,68.33 490.02,48.10 490.40,41.00 C490.78,33.90 491.00,36.00 491.30,36.00 C491.60,36.00 491.82,33.90 492.20,41.00 C492.58,48.10 493.17,67.00 493.60,78.60 C494.03,90.20 494.43,102.93 494.80,110.60 C495.17,118.27 495.40,121.10 495.80,124.60 C496.20,128.10 496.62,129.93 497.20,131.60 C497.78,133.27 498.33,133.28 499.30,134.60 C500.27,135.92 501.68,138.18 503.00,139.50 C504.32,140.82 505.40,142.00 507.20,142.50 C509.00,143.00 511.67,142.87 513.80,142.50 C515.93,142.13 517.63,142.12 520.00,140.30 C522.37,138.48 524.80,134.80 528.00,131.55 C531.20,128.30 537.33,122.59 539.20,120.80" fill="none" stroke="#7bb8e4" stroke-width="1.3" stroke-linejoin="round"/>
<path d="M456.30,141.40 C457.75,141.37 462.05,141.38 465.00,141.20 C467.95,141.02 471.47,140.68 474.00,140.30 C476.53,139.92 478.78,139.63 480.20,138.90 C481.62,138.17 481.80,137.65 482.50,135.90 C483.20,134.15 483.78,131.23 484.40,128.40 C485.02,125.57 485.65,123.15 486.20,118.90 C486.75,114.65 487.23,109.57 487.70,102.90 C488.17,96.23 488.55,89.72 489.00,78.90 C489.45,68.08 490.02,45.65 490.40,38.00 C490.78,30.35 491.00,33.00 491.30,33.00 C491.60,33.00 491.82,30.35 492.20,38.00 C492.58,45.65 493.17,66.75 493.60,78.90 C494.03,91.05 494.43,103.23 494.80,110.90 C495.17,118.57 495.40,121.40 495.80,124.90 C496.20,128.40 496.62,130.23 497.20,131.90 C497.78,133.57 498.33,133.55 499.30,134.90 C500.27,136.25 501.68,138.65 503.00,140.00 C504.32,141.35 505.40,142.50 507.20,143.00 C509.00,143.50 511.67,143.37 513.80,143.00 C515.93,142.63 517.63,142.28 520.00,140.80 C522.37,139.33 524.80,136.70 528.00,134.15 C531.20,131.60 537.33,126.94 539.20,125.50" fill="none" stroke="#3f86b8" stroke-width="1.3" stroke-linejoin="round"/>
<path d="M456.30,141.60 C457.75,141.57 462.05,141.58 465.00,141.40 C467.95,141.22 471.47,140.88 474.00,140.50 C476.53,140.12 478.78,139.83 480.20,139.10 C481.62,138.37 481.80,137.85 482.50,136.10 C483.20,134.35 483.78,131.43 484.40,128.60 C485.02,125.77 485.65,123.35 486.20,119.10 C486.75,114.85 487.23,109.77 487.70,103.10 C488.17,96.43 488.55,90.55 489.00,79.10 C489.45,67.65 490.02,42.68 490.40,34.40 C490.78,26.12 491.00,29.40 491.30,29.40 C491.60,29.40 491.82,26.12 492.20,34.40 C492.58,42.68 493.17,66.32 493.60,79.10 C494.03,91.88 494.43,103.43 494.80,111.10 C495.17,118.77 495.40,121.60 495.80,125.10 C496.20,128.60 496.62,130.43 497.20,132.10 C497.78,133.77 498.33,133.77 499.30,135.10 C500.27,136.43 501.68,138.77 503.00,140.10 C504.32,141.43 505.40,142.60 507.20,143.10 C509.00,143.60 511.67,143.47 513.80,143.10 C515.93,142.73 517.63,142.12 520.00,140.90 C522.37,139.68 524.80,137.80 528.00,135.75 C531.20,133.70 537.33,129.79 539.20,128.60" fill="none" stroke="#2b6386" stroke-width="1.5" stroke-linejoin="round"/>
<rect x="455.80" y="16.30" width="83.70" height="138.10" fill="none" stroke="#111" stroke-width="1.1" />
<line x1="466.26" y1="154.40" x2="466.26" y2="156.00" stroke="#111" stroke-width="0.9" />
<line x1="487.19" y1="154.40" x2="487.19" y2="156.00" stroke="#111" stroke-width="0.9" />
<line x1="508.11" y1="154.40" x2="508.11" y2="156.00" stroke="#111" stroke-width="0.9" />
<line x1="529.04" y1="154.40" x2="529.04" y2="156.00" stroke="#111" stroke-width="0.9" />
<line x1="455.80" y1="154.40" x2="455.80" y2="156.60" stroke="#111" stroke-width="1" />
<text x="455.80" y="164.60" font-size="9.0" fill="#000" font-weight="bold" text-anchor="middle" textLength="20.2" lengthAdjust="spacingAndGlyphs">2300</text>
<line x1="476.73" y1="154.40" x2="476.73" y2="156.60" stroke="#111" stroke-width="1" />
<text x="476.73" y="164.60" font-size="9.0" fill="#000" font-weight="bold" text-anchor="middle" textLength="20.2" lengthAdjust="spacingAndGlyphs">2200</text>
<line x1="497.65" y1="154.40" x2="497.65" y2="156.60" stroke="#111" stroke-width="1" />
<text x="497.65" y="164.60" font-size="9.0" fill="#000" font-weight="bold" text-anchor="middle" textLength="20.2" lengthAdjust="spacingAndGlyphs">2100</text>
<line x1="518.58" y1="154.40" x2="518.58" y2="156.60" stroke="#111" stroke-width="1" />
<text x="518.58" y="164.60" font-size="9.0" fill="#000" font-weight="bold" text-anchor="middle" textLength="20.2" lengthAdjust="spacingAndGlyphs">2000</text>
<line x1="539.50" y1="154.40" x2="539.50" y2="156.60" stroke="#111" stroke-width="1" />
<text x="539.50" y="164.60" font-size="9.0" fill="#000" font-weight="bold" text-anchor="middle" textLength="20.2" lengthAdjust="spacingAndGlyphs">1900</text>
<text x="497.30" y="181.50" font-size="11" fill="#000" font-weight="bold" text-anchor="middle" textLength="106" lengthAdjust="spacingAndGlyphs">Wavenumber (cm<tspan font-size="7.5" dy="-4.5">-1</tspan><tspan dy="4.5">)</tspan></text>
<text x="448.90" y="85.30" font-size="14.2" fill="#000" font-weight="bold" text-anchor="middle" textLength="119.8" lengthAdjust="spacingAndGlyphs" transform="rotate(-90 448.90 85.30)">Absorbance (a.u.)</text>
<text x="422.80" y="80.80" font-size="12" fill="#000" font-weight="bold" text-anchor="middle" textLength="69.6" lengthAdjust="spacingAndGlyphs" transform="rotate(-90 422.80 80.80)">Productions</text>
<line x1="459.40" y1="19.60" x2="459.40" y2="33.20" stroke="#111" stroke-width="1.0" />
<line x1="458.00" y1="19.60" x2="460.80" y2="19.60" stroke="#111" stroke-width="1.0" />
<line x1="458.00" y1="33.20" x2="460.80" y2="33.20" stroke="#111" stroke-width="1.0" />
<text x="462.60" y="28.60" font-size="9.4" fill="#000" font-weight="600" textLength="22.2" lengthAdjust="spacingAndGlyphs">0.003</text>
<text x="496.00" y="27.90" font-size="10.0" fill="#f42a2a" font-weight="bold" textLength="41.2" lengthAdjust="spacingAndGlyphs">2130 cm<tspan font-size="7" dy="-3.8">-1</tspan></text>
<text x="507.10" y="40.80" font-size="9.6" fill="#000" font-weight="bold" textLength="18.6" lengthAdjust="spacingAndGlyphs">Ce<tspan font-size="6.6" dy="-3.6">3+</tspan></text>
<text x="495.00" y="50.20" font-size="9.4" fill="#000" font-weight="600" textLength="14.6" lengthAdjust="spacingAndGlyphs"><tspan font-size="5.6" dy="-3.4">2</tspan><tspan dy="3.4">F</tspan><tspan font-size="5.4" dy="2.6">5/2</tspan></text>
<path d="M511.2,48.0 L519.5,48.0" stroke="#000" stroke-width="1.6"/>
<path d="M518.6,45.6 L522.6,48.0 L518.6,50.4 Z" fill="#000"/>
<text x="523.90" y="50.20" font-size="9.4" fill="#000" font-weight="600" textLength="13.6" lengthAdjust="spacingAndGlyphs"><tspan font-size="5.6" dy="-3.4">2</tspan><tspan dy="3.4">F</tspan><tspan font-size="5.4" dy="2.6">7/2</tspan></text>
<text x="501.00" y="104.70" font-size="10.0" fill="#4a78b8" font-weight="bold" textLength="34" lengthAdjust="spacingAndGlyphs"><tspan fill="#2b6386">−</tspan>70min</text>
<text x="498.40" y="113.20" font-size="5.5" fill="#111" font-weight="bold" textLength="39.5" lengthAdjust="spacingAndGlyphs">(10 min interval)</text>
<text x="501.50" y="123.80" font-size="10.0" fill="#c9c9c9" font-weight="bold" textLength="30.6" lengthAdjust="spacingAndGlyphs">−0 min</text>
<text x="552.70" y="12.00" font-size="16.5" fill="#000" font-weight="bold">d</text>
<line x1="592.30" y1="132.00" x2="663.40" y2="132.00" stroke="#c4c4c4" stroke-width="1.4" />
<path d="M585.20,107.90 C585.83,107.50 587.82,105.93 589.00,105.50 C590.18,105.07 591.38,105.92 592.30,105.30 C593.22,104.68 593.73,103.72 594.50,101.80 C595.27,99.88 596.22,96.37 596.90,93.75 C597.58,91.13 598.08,88.24 598.60,86.10 C599.12,83.96 599.43,82.08 600.00,80.90 C600.57,79.72 601.33,79.36 602.00,79.05 C602.67,78.74 603.42,78.80 604.00,79.06 C604.58,79.32 605.00,79.61 605.50,80.60 C606.00,81.59 606.42,82.71 607.00,85.00 C607.58,87.29 608.25,90.96 609.00,94.35 C609.75,97.74 610.75,102.32 611.50,105.35 C612.25,108.38 612.92,110.67 613.50,112.50 C614.08,114.33 614.50,114.77 615.00,116.35 C615.50,117.93 615.93,119.79 616.50,122.00 C617.07,124.21 617.65,128.68 618.40,129.60 C619.15,130.52 619.93,128.32 621.00,127.50 C622.07,126.68 623.72,124.78 624.80,124.70 C625.88,124.62 626.52,126.18 627.50,127.00 C628.48,127.82 629.70,129.52 630.70,129.60 C631.70,129.68 632.50,128.07 633.50,127.50 C634.50,126.93 635.78,126.70 636.70,126.20 C637.62,125.70 638.18,125.33 639.00,124.50 C639.82,123.67 640.67,121.58 641.60,121.20 C642.53,120.82 643.53,122.48 644.60,122.20 C645.67,121.92 646.85,120.32 648.00,119.50 C649.15,118.68 650.00,117.88 651.50,117.30 C653.00,116.72 655.08,116.45 657.00,116.00 C658.92,115.55 662.00,114.83 663.00,114.60" fill="none" stroke="#f7d3d6" stroke-width="1.2" stroke-linejoin="round"/>
<path d="M585.20,111.90 C585.83,111.50 587.82,110.09 589.00,109.50 C590.18,108.91 591.38,109.59 592.30,108.36 C593.22,107.13 593.73,105.10 594.50,102.13 C595.27,99.16 596.22,94.25 596.90,90.54 C597.58,86.83 598.08,82.87 598.60,79.86 C599.12,76.84 599.43,74.27 600.00,72.46 C600.57,70.65 601.33,69.66 602.00,68.99 C602.67,68.32 603.42,68.20 604.00,68.44 C604.58,68.68 605.00,69.14 605.50,70.40 C606.00,71.66 606.42,73.08 607.00,76.00 C607.58,78.92 608.25,83.58 609.00,87.90 C609.75,92.22 610.75,98.05 611.50,101.90 C612.25,105.75 612.92,108.67 613.50,111.00 C614.08,113.33 614.50,114.07 615.00,115.90 C615.50,117.73 615.93,119.72 616.50,122.00 C617.07,124.28 617.65,128.68 618.40,129.60 C619.15,130.52 619.93,128.32 621.00,127.50 C622.07,126.68 623.72,124.78 624.80,124.70 C625.88,124.62 626.52,126.18 627.50,127.00 C628.48,127.82 629.70,129.52 630.70,129.60 C631.70,129.68 632.50,128.07 633.50,127.50 C634.50,126.93 635.78,126.70 636.70,126.20 C637.62,125.70 638.18,125.33 639.00,124.50 C639.82,123.67 640.67,121.58 641.60,121.20 C642.53,120.82 643.53,122.48 644.60,122.20 C645.67,121.92 646.85,120.32 648.00,119.50 C649.15,118.68 650.00,117.88 651.50,117.30 C653.00,116.72 655.08,116.45 657.00,116.00 C658.92,115.55 662.00,114.83 663.00,114.60" fill="none" stroke="#f3b9bf" stroke-width="1.2" stroke-linejoin="round"/>
<path d="M585.20,115.90 C585.83,115.50 587.82,114.25 589.00,113.50 C590.18,112.75 591.38,113.25 592.30,111.41 C593.22,109.57 593.73,106.47 594.50,102.46 C595.27,98.44 596.22,92.14 596.90,87.34 C597.58,82.53 598.08,77.50 598.60,73.61 C599.12,69.73 599.43,66.46 600.00,64.01 C600.57,61.57 601.33,59.95 602.00,58.92 C602.67,57.89 603.42,57.61 604.00,57.82 C604.58,58.03 605.00,58.67 605.50,60.20 C606.00,61.73 606.42,63.46 607.00,67.00 C607.58,70.54 608.25,76.21 609.00,81.45 C609.75,86.69 610.75,93.78 611.50,98.45 C612.25,103.12 612.92,106.67 613.50,109.50 C614.08,112.33 614.50,113.37 615.00,115.45 C615.50,117.53 615.93,119.64 616.50,122.00 C617.07,124.36 617.65,128.68 618.40,129.60 C619.15,130.52 619.93,128.32 621.00,127.50 C622.07,126.68 623.72,124.78 624.80,124.70 C625.88,124.62 626.52,126.18 627.50,127.00 C628.48,127.82 629.70,129.52 630.70,129.60 C631.70,129.68 632.50,128.07 633.50,127.50 C634.50,126.93 635.78,126.70 636.70,126.20 C637.62,125.70 638.18,125.33 639.00,124.50 C639.82,123.67 640.67,121.58 641.60,121.20 C642.53,120.82 643.53,122.48 644.60,122.20 C645.67,121.92 646.85,120.32 648.00,119.50 C649.15,118.68 650.00,117.88 651.50,117.30 C653.00,116.72 655.08,116.45 657.00,116.00 C658.92,115.55 662.00,114.83 663.00,114.60" fill="none" stroke="#eea0a8" stroke-width="1.2" stroke-linejoin="round"/>
<path d="M585.20,121.90 C585.83,121.50 587.82,120.48 589.00,119.50 C590.18,118.52 591.38,118.58 592.30,116.00 C593.22,113.42 593.73,109.17 594.50,104.00 C595.27,98.83 596.22,91.00 596.90,85.00 C597.58,79.00 598.08,72.83 598.60,68.00 C599.12,63.17 599.43,59.17 600.00,56.00 C600.57,52.83 601.33,50.47 602.00,49.00 C602.67,47.53 603.42,47.03 604.00,47.20 C604.58,47.37 605.00,48.20 605.50,50.00 C606.00,51.80 606.42,53.83 607.00,58.00 C607.58,62.17 608.25,68.83 609.00,75.00 C609.75,81.17 610.75,89.50 611.50,95.00 C612.25,100.50 612.92,104.67 613.50,108.00 C614.08,111.33 614.50,112.67 615.00,115.00 C615.50,117.33 615.93,119.57 616.50,122.00 C617.07,124.43 617.65,128.68 618.40,129.60 C619.15,130.52 619.93,128.32 621.00,127.50 C622.07,126.68 623.72,124.78 624.80,124.70 C625.88,124.62 626.52,126.18 627.50,127.00 C628.48,127.82 629.70,129.52 630.70,129.60 C631.70,129.68 632.50,128.07 633.50,127.50 C634.50,126.93 635.78,126.70 636.70,126.20 C637.62,125.70 638.18,125.33 639.00,124.50 C639.82,123.67 640.67,121.58 641.60,121.20 C642.53,120.82 643.53,122.48 644.60,122.20 C645.67,121.92 646.85,120.32 648.00,119.50 C649.15,118.68 650.00,117.88 651.50,117.30 C653.00,116.72 655.08,116.45 657.00,116.00 C658.92,115.55 662.00,114.83 663.00,114.60" fill="none" stroke="#e0434f" stroke-width="1.6" stroke-linejoin="round"/>
<path d="M585.20,133.70 C585.83,132.58 587.82,129.35 589.00,127.00 C590.18,124.65 591.38,122.64 592.30,119.61 C593.22,116.57 593.73,114.00 594.50,108.78 C595.27,103.55 596.22,94.51 596.90,88.25 C597.58,82.00 598.08,76.08 598.60,71.26 C599.12,66.43 599.43,62.80 600.00,59.32 C600.57,55.84 601.33,52.75 602.00,50.39 C602.67,48.03 603.47,45.12 604.00,45.16 C604.53,45.20 604.85,48.96 605.20,50.60 C605.55,52.24 605.75,53.00 606.10,55.00 C606.45,57.00 606.78,58.48 607.30,62.60 C607.82,66.72 608.50,74.65 609.20,79.72 C609.90,84.79 610.72,88.89 611.50,93.00 C612.28,97.11 613.23,101.29 613.90,104.36 C614.57,107.43 614.83,108.84 615.50,111.40 C616.17,113.96 617.18,118.52 617.90,119.70 C618.62,120.88 619.15,118.65 619.80,118.50 C620.45,118.35 621.10,118.80 621.80,118.80 C622.50,118.80 623.25,118.67 624.00,118.50 C624.75,118.33 625.53,117.38 626.30,117.80 C627.07,118.22 627.70,119.93 628.60,121.00 C629.50,122.07 630.80,124.03 631.70,124.20 C632.60,124.37 633.25,122.50 634.00,122.00 C634.75,121.50 635.35,121.25 636.20,121.20 C637.05,121.15 638.28,123.18 639.10,121.70 C639.92,120.22 640.43,113.70 641.10,112.30 C641.77,110.90 642.20,113.38 643.10,113.30 C644.00,113.22 645.27,111.63 646.50,111.80 C647.73,111.97 649.35,114.13 650.50,114.30 C651.65,114.47 652.15,113.08 653.40,112.80 C654.65,112.52 656.40,112.68 658.00,112.60 C659.60,112.52 662.17,112.35 663.00,112.30" fill="none" stroke="#cfe6f5" stroke-width="1.2" stroke-linejoin="round"/>
<path d="M585.20,134.70 C585.83,133.58 587.82,130.39 589.00,128.00 C590.18,125.61 591.38,123.69 592.30,120.37 C593.22,117.05 593.73,114.02 594.50,108.09 C595.27,102.15 596.22,91.86 596.90,84.76 C597.58,77.66 598.08,70.95 598.60,65.47 C599.12,60.00 599.43,55.87 600.00,51.90 C600.57,47.93 601.33,44.36 602.00,41.66 C602.67,38.95 603.47,35.66 604.00,35.68 C604.53,35.70 604.85,39.95 605.20,41.80 C605.55,43.64 605.75,44.50 606.10,46.75 C606.45,49.00 606.78,50.66 607.30,55.30 C607.82,59.93 608.50,68.86 609.20,74.56 C609.90,80.26 610.72,84.88 611.50,89.50 C612.28,94.12 613.23,98.83 613.90,102.28 C614.57,105.73 614.83,107.30 615.50,110.20 C616.17,113.10 617.18,118.32 617.90,119.70 C618.62,121.08 619.15,118.65 619.80,118.50 C620.45,118.35 621.10,118.80 621.80,118.80 C622.50,118.80 623.25,118.67 624.00,118.50 C624.75,118.33 625.53,117.38 626.30,117.80 C627.07,118.22 627.70,119.93 628.60,121.00 C629.50,122.07 630.80,124.03 631.70,124.20 C632.60,124.37 633.25,122.50 634.00,122.00 C634.75,121.50 635.35,121.25 636.20,121.20 C637.05,121.15 638.28,123.18 639.10,121.70 C639.92,120.22 640.43,113.70 641.10,112.30 C641.77,110.90 642.20,113.38 643.10,113.30 C644.00,113.22 645.27,111.63 646.50,111.80 C647.73,111.97 649.35,114.13 650.50,114.30 C651.65,114.47 652.15,113.08 653.40,112.80 C654.65,112.52 656.40,112.68 658.00,112.60 C659.60,112.52 662.17,112.35 663.00,112.30" fill="none" stroke="#9fcbe9" stroke-width="1.3" stroke-linejoin="round"/>
<path d="M585.20,135.70 C585.83,134.58 587.82,131.43 589.00,129.00 C590.18,126.57 591.38,124.65 592.30,121.14 C593.22,117.62 593.73,114.30 594.50,107.91 C595.27,101.53 596.22,90.47 596.90,82.84 C597.58,75.21 598.08,68.01 598.60,62.13 C599.12,56.24 599.43,51.82 600.00,47.54 C600.57,43.26 601.33,39.37 602.00,36.45 C602.67,33.52 603.47,29.98 604.00,29.99 C604.53,30.00 604.85,34.55 605.20,36.52 C605.55,38.49 605.75,39.40 606.10,41.80 C606.45,44.20 606.78,45.98 607.30,50.92 C607.82,55.86 608.50,65.38 609.20,71.46 C609.90,77.54 610.72,82.47 611.50,87.40 C612.28,92.33 613.23,97.35 613.90,101.03 C614.57,104.71 614.83,106.37 615.50,109.48 C616.17,112.59 617.18,118.20 617.90,119.70 C618.62,121.20 619.15,118.65 619.80,118.50 C620.45,118.35 621.10,118.80 621.80,118.80 C622.50,118.80 623.25,118.67 624.00,118.50 C624.75,118.33 625.53,117.38 626.30,117.80 C627.07,118.22 627.70,119.93 628.60,121.00 C629.50,122.07 630.80,124.03 631.70,124.20 C632.60,124.37 633.25,122.50 634.00,122.00 C634.75,121.50 635.35,121.25 636.20,121.20 C637.05,121.15 638.28,123.18 639.10,121.70 C639.92,120.22 640.43,113.70 641.10,112.30 C641.77,110.90 642.20,113.38 643.10,113.30 C644.00,113.22 645.27,111.63 646.50,111.80 C647.73,111.97 649.35,114.13 650.50,114.30 C651.65,114.47 652.15,113.08 653.40,112.80 C654.65,112.52 656.40,112.68 658.00,112.60 C659.60,112.52 662.17,112.35 663.00,112.30" fill="none" stroke="#5d9fcf" stroke-width="1.3" stroke-linejoin="round"/>
<path d="M585.20,136.70 C585.83,135.58 587.82,132.47 589.00,130.00 C590.18,127.53 591.38,125.57 592.30,121.90 C593.22,118.23 593.73,114.70 594.50,108.00 C595.27,101.30 596.22,89.70 596.90,81.70 C597.58,73.70 598.08,66.17 598.60,60.00 C599.12,53.83 599.43,49.20 600.00,44.70 C600.57,40.20 601.33,36.08 602.00,33.00 C602.67,29.92 603.47,26.20 604.00,26.20 C604.53,26.20 604.85,30.95 605.20,33.00 C605.55,35.05 605.75,36.00 606.10,38.50 C606.45,41.00 606.78,42.85 607.30,48.00 C607.82,53.15 608.50,63.07 609.20,69.40 C609.90,75.73 610.72,80.87 611.50,86.00 C612.28,91.13 613.23,96.37 613.90,100.20 C614.57,104.03 614.83,105.75 615.50,109.00 C616.17,112.25 617.18,118.12 617.90,119.70 C618.62,121.28 619.15,118.65 619.80,118.50 C620.45,118.35 621.10,118.80 621.80,118.80 C622.50,118.80 623.25,118.67 624.00,118.50 C624.75,118.33 625.53,117.38 626.30,117.80 C627.07,118.22 627.70,119.93 628.60,121.00 C629.50,122.07 630.80,124.03 631.70,124.20 C632.60,124.37 633.25,122.50 634.00,122.00 C634.75,121.50 635.35,121.25 636.20,121.20 C637.05,121.15 638.28,123.18 639.10,121.70 C639.92,120.22 640.43,113.70 641.10,112.30 C641.77,110.90 642.20,113.38 643.10,113.30 C644.00,113.22 645.27,111.63 646.50,111.80 C647.73,111.97 649.35,114.13 650.50,114.30 C651.65,114.47 652.15,113.08 653.40,112.80 C654.65,112.52 656.40,112.68 658.00,112.60 C659.60,112.52 662.17,112.35 663.00,112.30" fill="none" stroke="#2c6487" stroke-width="1.5" stroke-linejoin="round"/>
<rect x="584.70" y="15.50" width="78.70" height="136.80" fill="none" stroke="#111" stroke-width="1.1" />
<line x1="595.92" y1="152.30" x2="595.92" y2="153.90" stroke="#111" stroke-width="0.9" />
<line x1="618.36" y1="152.30" x2="618.36" y2="153.90" stroke="#111" stroke-width="0.9" />
<line x1="640.80" y1="152.30" x2="640.80" y2="153.90" stroke="#111" stroke-width="0.9" />
<line x1="584.70" y1="152.30" x2="584.70" y2="154.50" stroke="#111" stroke-width="1" />
<text x="584.70" y="164.90" font-size="8.6" fill="#000" font-weight="bold" text-anchor="middle" textLength="20.0" lengthAdjust="spacingAndGlyphs">4000</text>
<line x1="607.14" y1="152.30" x2="607.14" y2="154.50" stroke="#111" stroke-width="1" />
<text x="607.14" y="164.90" font-size="8.6" fill="#000" font-weight="bold" text-anchor="middle" textLength="20.0" lengthAdjust="spacingAndGlyphs">3600</text>
<line x1="629.58" y1="152.30" x2="629.58" y2="154.50" stroke="#111" stroke-width="1" />
<text x="629.58" y="164.90" font-size="8.6" fill="#000" font-weight="bold" text-anchor="middle" textLength="20.0" lengthAdjust="spacingAndGlyphs">3200</text>
<line x1="652.02" y1="152.30" x2="652.02" y2="154.50" stroke="#111" stroke-width="1" />
<text x="652.02" y="164.90" font-size="8.6" fill="#000" font-weight="bold" text-anchor="middle" textLength="20.0" lengthAdjust="spacingAndGlyphs">2800</text>
<line x1="582.50" y1="27.50" x2="584.70" y2="27.50" stroke="#111" stroke-width="1" />
<line x1="582.50" y1="54.30" x2="584.70" y2="54.30" stroke="#111" stroke-width="1" />
<line x1="582.50" y1="81.00" x2="584.70" y2="81.00" stroke="#111" stroke-width="1" />
<line x1="582.50" y1="107.80" x2="584.70" y2="107.80" stroke="#111" stroke-width="1" />
<line x1="582.50" y1="134.50" x2="584.70" y2="134.50" stroke="#111" stroke-width="1" />
<text x="624.20" y="181.50" font-size="11" fill="#000" font-weight="bold" text-anchor="middle" textLength="104" lengthAdjust="spacingAndGlyphs">Wavenumber (cm<tspan font-size="7.5" dy="-4.5">-1</tspan><tspan dy="4.5">)</tspan></text>
<text x="577.80" y="85.50" font-size="14.2" fill="#000" font-weight="bold" text-anchor="middle" textLength="119.8" lengthAdjust="spacingAndGlyphs" transform="rotate(-90 577.80 85.50)">Absorbance (a.u.)</text>
<line x1="660.30" y1="21.50" x2="660.30" y2="32.40" stroke="#111" stroke-width="1.0" />
<line x1="658.90" y1="21.50" x2="661.70" y2="21.50" stroke="#111" stroke-width="1.0" />
<line x1="658.90" y1="32.40" x2="661.70" y2="32.40" stroke="#111" stroke-width="1.0" />
<text x="634.20" y="29.40" font-size="8.8" fill="#000" font-weight="bold" textLength="22.6" lengthAdjust="spacingAndGlyphs">0.005</text>
<text x="636.80" y="44.20" font-size="9.6" fill="#f42a2a" font-weight="bold" text-anchor="middle">H</text>
<line x1="636.80" y1="45.50" x2="636.80" y2="52.50" stroke="#f42a2a" stroke-width="1.0" stroke-dasharray="1.6,1.2"/>
<text x="636.90" y="61.00" font-size="10.4" fill="#f42a2a" font-weight="bold" text-anchor="middle">O</text>
<line x1="631.80" y1="58.60" x2="625.00" y2="62.80" stroke="#111" stroke-width="0.8" />
<line x1="642.00" y1="58.60" x2="648.80" y2="62.80" stroke="#111" stroke-width="0.8" />
<text x="615.20" y="68.80" font-size="9.2" fill="#000" font-weight="bold" textLength="10.8" lengthAdjust="spacingAndGlyphs">Ce</text>
<text x="648.00" y="68.80" font-size="9.2" fill="#000" font-weight="bold" textLength="11.6" lengthAdjust="spacingAndGlyphs">Ce</text>
<text x="621.90" y="91.40" font-size="9.3" fill="#4a78b8" font-weight="bold" textLength="32.6" lengthAdjust="spacingAndGlyphs"><tspan fill="#2b6386">−</tspan>70min</text>
<text x="619.00" y="99.20" font-size="5.0" fill="#111" font-weight="bold" textLength="38.5" lengthAdjust="spacingAndGlyphs">(10 min interval)</text>
<text x="621.90" y="109.60" font-size="9.3" fill="#c9c9c9" font-weight="bold" textLength="30.6" lengthAdjust="spacingAndGlyphs">−0 min</text>
<text x="0.00" y="201.80" font-size="16.5" fill="#000" font-weight="bold">e</text>
<rect x="36.00" y="198.80" width="11.10" height="109.20" fill="#f3e6d2" stroke="none" stroke-width="1.0" />
<rect x="47.30" y="198.80" width="5.00" height="109.20" fill="#cbc2e6" stroke="none" stroke-width="1.0" />
<rect x="53.80" y="198.80" width="10.20" height="109.20" fill="#a5e2ee" stroke="none" stroke-width="1.0" />
<rect x="96.00" y="198.80" width="28.00" height="170.70" fill="#dde9f5" stroke="none" stroke-width="1.0" />
<rect x="156.00" y="198.80" width="19.50" height="109.20" fill="#d7f6e5" stroke="none" stroke-width="1.0" />
<rect x="177.90" y="198.80" width="5.20" height="109.20" fill="#f6dcd8" stroke="none" stroke-width="1.0" />
<rect x="190.30" y="198.80" width="4.80" height="109.20" fill="#c5f0c8" stroke="none" stroke-width="1.0" />
<rect x="231.50" y="203.00" width="4.70" height="104.50" fill="#f1c4f7" stroke="none" stroke-width="1.0" />
<rect x="248.80" y="203.00" width="7.20" height="104.50" fill="#f1c4f7" stroke="none" stroke-width="1.0" />
<line x1="49.70" y1="212.00" x2="49.70" y2="307.00" stroke="#7d6fc0" stroke-width="0.7" stroke-dasharray="2,1.5"/>
<line x1="180.60" y1="240.00" x2="180.60" y2="307.00" stroke="#c08a80" stroke-width="0.7" stroke-dasharray="2,1.5"/>
<line x1="192.60" y1="240.00" x2="192.60" y2="307.00" stroke="#4aa050" stroke-width="0.7" stroke-dasharray="2,1.5"/>
<line x1="233.80" y1="240.00" x2="233.80" y2="307.00" stroke="#e03030" stroke-width="0.6" stroke-dasharray="2,1.5"/>
<line x1="251.60" y1="240.00" x2="251.60" y2="307.00" stroke="#e03030" stroke-width="0.6" stroke-dasharray="2,1.5"/>
<line x1="253.40" y1="240.00" x2="253.40" y2="307.00" stroke="#e03030" stroke-width="0.6" stroke-dasharray="2,1.5"/>
<path d="M16.9,251.5L17.4,251.4L17.9,251.3L18.4,251.2L18.9,251.3L19.4,251.3L19.9,251.4L20.4,251.2L20.9,251.3L21.4,251.3L21.9,251.5L22.4,251.3L22.9,251.2L23.4,251.4L23.9,251.4L24.4,251.2L24.9,251.5L25.4,251.5L25.9,251.5L26.4,251.5L26.9,251.2L27.4,251.4L27.9,251.5L28.4,251.4L28.9,251.3L29.4,251.1L29.9,251.3L30.4,251.4L30.9,251.5L31.4,251.5L31.9,251.3L32.4,251.5L32.9,251.2L33.4,251.5L33.9,251.3L34.4,251.1L34.9,251.4L35.4,251.3L35.9,251.5L36.4,251.4L36.9,251.1L37.4,251.3L37.9,251.4L38.4,250.8L38.9,250.2L39.4,250.1L39.9,250.0L40.4,250.7L40.9,250.9L41.4,251.1L41.9,250.4L42.4,249.8L42.9,249.8L43.4,250.5L43.9,251.0L44.4,251.0L44.9,250.2L45.4,250.4L45.9,250.9L46.4,251.2L46.9,251.4L47.4,251.3L47.9,251.5L48.4,251.1L48.9,250.6L49.4,250.6L49.9,251.1L50.4,251.0L50.9,250.7L51.4,250.5L51.9,250.9L52.4,250.9L52.9,250.7L53.4,250.7L53.9,251.0L54.4,250.9L54.9,250.8L55.4,250.7L55.9,251.2L56.4,251.3L56.9,250.9L57.4,250.8L57.9,251.0L58.4,251.1L58.9,250.8L59.4,250.4L59.9,251.1L60.4,251.3L60.9,250.9L61.4,250.6L61.9,251.1L62.4,251.2L62.9,250.7L63.4,250.6L63.9,251.1L64.4,251.4L64.9,250.9L65.4,250.3L65.9,250.9L66.4,251.3L66.9,251.4L67.4,251.5L67.9,251.2L68.4,251.4L68.9,251.1L69.4,251.2L69.9,251.5L70.4,251.2L70.9,251.5L71.4,251.1L71.9,251.1L72.4,251.4L72.9,251.1L73.4,251.4L73.9,251.5L74.4,251.3L74.9,251.4L75.4,251.1L75.9,251.4L76.4,251.4L76.9,251.4L77.4,251.3L77.9,251.3L78.4,251.6L78.9,251.1L79.4,251.1L79.9,251.6L80.4,251.2L80.9,251.1L81.4,251.2L81.9,251.5L82.4,251.5L82.9,251.1L83.4,251.3L83.9,251.1L84.4,251.2L84.9,251.2L85.4,251.4L85.9,251.3L86.4,251.2L86.9,251.3L87.4,251.1L87.9,251.1L88.4,251.6L88.9,251.2L89.4,251.3L89.9,251.4L90.4,251.5L90.9,251.5L91.4,251.2L91.9,251.4L92.4,251.6L92.9,251.1L93.4,251.4L93.9,251.5L94.4,251.3L94.9,251.2L95.4,251.4L95.9,251.3L96.4,251.2L96.9,251.3L97.4,251.3L97.9,251.4L98.4,251.3L98.9,251.2L99.4,251.3L99.9,251.5L100.4,251.2L100.9,251.3L101.4,250.9L101.9,251.1L102.4,250.6L102.9,250.1L103.4,249.8L103.9,249.3L104.4,249.2L104.9,248.5L105.4,248.1L105.9,247.8L106.4,247.6L106.9,246.3L107.4,244.4L107.9,241.6L108.4,238.2L108.9,235.4L109.4,234.0L109.9,234.0L110.4,235.9L110.9,238.4L111.4,240.7L111.9,242.7L112.4,243.7L112.9,244.7L113.4,245.2L113.9,245.8L114.4,246.5L114.9,247.4L115.4,248.1L115.9,248.9L116.4,249.3L116.9,250.0L117.4,250.3L117.9,250.6L118.4,251.0L118.9,251.1L119.4,251.2L119.9,251.4L120.4,251.5L120.9,251.3L121.4,251.2L121.9,251.3L122.4,251.5L122.9,251.5L123.4,251.5L123.9,251.2L124.4,251.6L124.9,251.4L125.4,251.1L125.9,251.5L126.4,251.6L126.9,251.3L127.4,251.4L127.9,251.3L128.4,251.2L128.9,251.5L129.4,251.1L129.9,251.5L130.4,251.4L130.9,251.1L131.4,251.2L131.9,251.4L132.4,251.5L132.9,251.2L133.4,251.6L133.9,251.1L134.4,251.5L134.9,251.3L135.4,251.1L135.9,251.2L136.4,251.3L136.9,251.5L137.4,251.5L137.9,251.2L138.4,251.4L138.9,251.4L139.4,251.3L139.9,251.5L140.4,251.2L140.9,251.1L141.4,251.1L141.9,251.4L142.4,251.4L142.9,251.6L143.4,251.6L143.9,251.6L144.4,251.1L144.9,251.5L145.4,251.5L145.9,251.4L146.4,251.5L146.9,251.6L147.4,251.4L147.9,251.3L148.4,251.4L148.9,251.2L149.4,251.4L149.9,251.1L150.4,251.2L150.9,251.3L151.4,251.5L151.9,251.5L152.4,251.3L152.9,251.4L153.4,251.1L153.9,251.2L154.4,251.6L154.9,251.3L155.4,251.3L155.9,251.4L156.4,251.3L156.9,251.3L157.4,251.2L157.9,251.1L158.4,251.2L158.9,251.4L159.4,251.1L159.9,251.3L160.4,251.2L160.9,250.7L161.4,248.9L161.9,244.7L162.4,236.0L162.9,225.9L163.4,219.0L163.9,218.6L164.4,222.9L164.9,226.0L165.4,225.5L165.9,224.4L166.4,225.9L166.9,230.1L167.4,235.0L167.9,238.4L168.4,239.9L168.9,240.5L169.4,240.3L169.9,240.5L170.4,241.7L170.9,243.8L171.4,245.3L171.9,247.1L172.4,248.8L172.9,249.9L173.4,250.6L173.9,251.0L174.4,251.2L174.9,251.3L175.4,251.2L175.9,251.1L176.4,251.3L176.9,250.7L177.4,250.8L177.9,250.3L178.4,250.1L178.9,249.7L179.4,250.0L179.9,250.0L180.4,250.2L180.9,250.1L181.4,250.4L181.9,250.2L182.4,250.3L182.9,250.2L183.4,250.0L183.9,250.4L184.4,250.0L184.9,250.0L185.4,250.2L185.9,250.4L186.4,250.7L186.9,250.7L187.4,251.3L187.9,251.4L188.4,251.1L188.9,251.3L189.4,251.4L189.9,251.4L190.4,250.8L190.9,250.1L191.4,248.3L191.9,246.8L192.4,245.9L192.9,246.4L193.4,247.6L193.9,249.4L194.4,250.4L194.9,251.0L195.4,251.5L195.9,251.6L196.4,251.5L196.9,251.1L197.4,251.2L197.9,251.3L198.4,251.5L198.9,251.5L199.4,251.4L199.9,251.5L200.4,251.5L200.9,251.2L201.4,251.2L201.9,251.6L202.4,251.1L202.9,251.2L203.4,251.1L203.9,251.1L204.4,251.5L204.9,251.3L205.4,251.2L205.9,251.2L206.4,251.5L206.9,251.6L207.4,251.4L207.9,251.6L208.4,251.4L208.9,251.4L209.4,251.5L209.9,251.5L210.4,251.5L210.9,251.6L211.4,251.5L211.9,251.6L212.4,251.2L212.9,251.4L213.4,251.4L213.9,251.5L214.4,251.4L214.9,251.5L215.4,251.3L215.9,251.4L216.4,251.6L216.9,251.5L217.4,251.5L217.9,251.1L218.4,251.2L218.9,251.4L219.4,251.3L219.9,251.2L220.4,251.6L220.9,251.6L221.4,251.3L221.9,251.3L222.4,251.5L222.9,251.2L223.4,251.5L223.9,251.2L224.4,251.3L224.9,251.6L225.4,251.2L225.9,251.2L226.4,251.3L226.9,251.4L227.4,251.6L227.9,251.5L228.4,251.5L228.9,251.2L229.4,251.6L229.9,251.3L230.4,251.4L230.9,251.2L231.4,250.9L231.9,250.7L232.4,249.9L232.9,249.3L233.4,249.3L233.9,249.4L234.4,249.7L234.9,250.5L235.4,250.9L235.9,251.2L236.4,251.5L236.9,251.4L237.4,251.5L237.9,251.4L238.4,251.3L238.9,251.3L239.4,251.1L239.9,250.9L240.4,251.0L240.9,250.8L241.4,250.8L241.9,250.3L242.4,250.6L242.9,250.5L243.4,250.6L243.9,250.7L244.4,250.7L244.9,250.9L245.4,250.9L245.9,251.1L246.4,251.0L246.9,251.4L247.4,251.3L247.9,251.5L248.4,251.3L248.9,251.5L249.4,251.2L249.9,251.2L250.4,251.5L250.9,250.7L251.4,249.7L251.9,250.3L252.4,251.1L252.9,250.3L253.4,249.5L253.9,250.5L254.4,251.5L254.9,251.6L255.4,251.5L255.9,251.5L256.4,251.4L256.9,251.3L257.4,251.2L257.9,251.4L258.4,251.4L258.9,251.6L259.4,251.6L259.9,251.4L260.4,251.2" fill="none" stroke="#b8202f" stroke-width="0.9" stroke-linejoin="round"/>
<path d="M16.9,258.3L17.4,258.7L17.9,258.6L18.4,258.4L18.9,258.5L19.4,258.5L19.9,258.6L20.4,258.6L20.9,258.3L21.4,258.3L21.9,258.7L22.4,258.5L22.9,258.6L23.4,258.3L23.9,258.5L24.4,258.6L24.9,258.4L25.4,258.7L25.9,258.7L26.4,258.3L26.9,258.3L27.4,258.5L27.9,258.7L28.4,258.4L28.9,258.4L29.4,258.5L29.9,258.3L30.4,258.4L30.9,258.5L31.4,258.5L31.9,258.4L32.4,258.4L32.9,258.4L33.4,258.5L33.9,258.4L34.4,258.3L34.9,258.7L35.4,258.5L35.9,258.6L36.4,258.4L36.9,258.8L37.4,258.7L37.9,258.2L38.4,258.0L38.9,257.6L39.4,257.2L39.9,257.5L40.4,257.8L40.9,258.4L41.4,258.1L41.9,257.4L42.4,257.1L42.9,257.4L43.4,258.0L43.9,258.2L44.4,258.1L44.9,257.4L45.4,257.4L45.9,258.1L46.4,258.3L46.9,258.3L47.4,258.5L47.9,258.6L48.4,258.3L48.9,257.7L49.4,257.8L49.9,258.3L50.4,258.4L50.9,257.8L51.4,257.7L51.9,258.2L52.4,258.1L52.9,257.6L53.4,257.9L53.9,258.5L54.4,258.4L54.9,257.8L55.4,257.6L55.9,258.2L56.4,258.6L56.9,258.0L57.4,257.8L57.9,258.3L58.4,258.2L58.9,257.9L59.4,258.0L59.9,258.2L60.4,258.3L60.9,257.8L61.4,257.8L61.9,258.3L62.4,258.1L62.9,258.1L63.4,257.9L63.9,258.3L64.4,258.5L64.9,258.2L65.4,257.7L65.9,258.1L66.4,258.5L66.9,258.3L67.4,258.7L67.9,258.6L68.4,258.4L68.9,258.5L69.4,258.5L69.9,258.5L70.4,258.4L70.9,258.5L71.4,258.6L71.9,258.6L72.4,258.5L72.9,258.3L73.4,258.4L73.9,258.4L74.4,258.6L74.9,258.7L75.4,258.7L75.9,258.7L76.4,258.7L76.9,258.4L77.4,258.7L77.9,258.6L78.4,258.3L78.9,258.3L79.4,258.3L79.9,258.7L80.4,258.4L80.9,258.3L81.4,258.6L81.9,258.4L82.4,258.3L82.9,258.4L83.4,258.5L83.9,258.4L84.4,258.4L84.9,258.6L85.4,258.5L85.9,258.4L86.4,258.5L86.9,258.3L87.4,258.5L87.9,258.5L88.4,258.4L88.9,258.3L89.4,258.7L89.9,258.5L90.4,258.4L90.9,258.6L91.4,258.7L91.9,258.3L92.4,258.3L92.9,258.4L93.4,258.6L93.9,258.4L94.4,258.6L94.9,258.6L95.4,258.6L95.9,258.4L96.4,258.8L96.9,258.7L97.4,258.5L97.9,258.4L98.4,258.6L98.9,258.5L99.4,258.6L99.9,258.4L100.4,258.6L100.9,258.2L101.4,258.2L101.9,258.4L102.4,258.1L102.9,257.5L103.4,257.3L103.9,256.6L104.4,256.4L104.9,255.9L105.4,255.4L105.9,255.0L106.4,254.4L106.9,253.7L107.4,251.4L107.9,249.0L108.4,245.8L108.9,242.9L109.4,241.3L109.9,241.9L110.4,243.7L110.9,246.0L111.4,248.2L111.9,249.9L112.4,251.0L112.9,251.7L113.4,252.6L113.9,253.1L114.4,253.7L114.9,254.4L115.4,255.5L115.9,256.0L116.4,256.7L116.9,257.2L117.4,257.8L117.9,258.2L118.4,257.9L118.9,258.2L119.4,258.3L119.9,258.7L120.4,258.6L120.9,258.4L121.4,258.4L121.9,258.6L122.4,258.7L122.9,258.8L123.4,258.5L123.9,258.7L124.4,258.6L124.9,258.5L125.4,258.8L125.9,258.4L126.4,258.7L126.9,258.3L127.4,258.4L127.9,258.8L128.4,258.4L128.9,258.7L129.4,258.6L129.9,258.7L130.4,258.5L130.9,258.5L131.4,258.4L131.9,258.7L132.4,258.6L132.9,258.8L133.4,258.7L133.9,258.4L134.4,258.6L134.9,258.4L135.4,258.3L135.9,258.3L136.4,258.7L136.9,258.7L137.4,258.7L137.9,258.5L138.4,258.6L138.9,258.7L139.4,258.5L139.9,258.6L140.4,258.4L140.9,258.3L141.4,258.4L141.9,258.7L142.4,258.6L142.9,258.8L143.4,258.5L143.9,258.4L144.4,258.7L144.9,258.7L145.4,258.3L145.9,258.6L146.4,258.3L146.9,258.4L147.4,258.7L147.9,258.3L148.4,258.4L148.9,258.8L149.4,258.5L149.9,258.4L150.4,258.4L150.9,258.4L151.4,258.7L151.9,258.4L152.4,258.8L152.9,258.5L153.4,258.8L153.9,258.8L154.4,258.5L154.9,258.4L155.4,258.5L155.9,258.4L156.4,258.6L156.9,258.3L157.4,258.3L157.9,258.8L158.4,258.5L158.9,258.6L159.4,258.5L159.9,258.5L160.4,258.2L160.9,258.2L161.4,256.6L161.9,252.1L162.4,243.4L162.9,233.3L163.4,226.6L163.9,226.8L164.4,230.7L164.9,233.7L165.4,233.3L165.9,232.1L166.4,233.5L166.9,237.4L167.4,242.2L167.9,245.6L168.4,247.3L168.9,247.9L169.4,247.6L169.9,248.2L170.4,249.4L170.9,251.2L171.4,252.8L171.9,254.6L172.4,256.0L172.9,257.0L173.4,258.0L173.9,258.4L174.4,258.3L174.9,258.4L175.4,258.5L175.9,258.4L176.4,258.3L176.9,257.9L177.4,257.6L177.9,257.4L178.4,257.1L178.9,257.2L179.4,256.8L179.9,256.9L180.4,257.2L180.9,257.2L181.4,257.6L181.9,257.6L182.4,257.8L182.9,257.4L183.4,257.4L183.9,257.5L184.4,257.1L184.9,257.6L185.4,257.3L185.9,257.8L186.4,258.1L186.9,258.3L187.4,258.2L187.9,258.2L188.4,258.5L188.9,258.7L189.4,258.4L189.9,258.6L190.4,257.8L190.9,257.3L191.4,255.4L191.9,253.9L192.4,253.3L192.9,253.7L193.4,255.1L193.9,256.7L194.4,257.8L194.9,258.4L195.4,258.3L195.9,258.5L196.4,258.4L196.9,258.7L197.4,258.7L197.9,258.5L198.4,258.4L198.9,258.8L199.4,258.7L199.9,258.6L200.4,258.6L200.9,258.8L201.4,258.6L201.9,258.5L202.4,258.5L202.9,258.5L203.4,258.3L203.9,258.6L204.4,258.5L204.9,258.6L205.4,258.4L205.9,258.5L206.4,258.4L206.9,258.4L207.4,258.5L207.9,258.7L208.4,258.5L208.9,258.5L209.4,258.6L209.9,258.4L210.4,258.3L210.9,258.6L211.4,258.6L211.9,258.7L212.4,258.5L212.9,258.7L213.4,258.7L213.9,258.5L214.4,258.6L214.9,258.6L215.4,258.4L215.9,258.5L216.4,258.6L216.9,258.8L217.4,258.8L217.9,258.5L218.4,258.7L218.9,258.4L219.4,258.4L219.9,258.6L220.4,258.8L220.9,258.4L221.4,258.7L221.9,258.8L222.4,258.5L222.9,258.7L223.4,258.8L223.9,258.5L224.4,258.7L224.9,258.7L225.4,258.6L225.9,258.8L226.4,258.8L226.9,258.8L227.4,258.6L227.9,258.4L228.4,258.5L228.9,258.4L229.4,258.6L229.9,258.7L230.4,258.3L230.9,258.6L231.4,258.4L231.9,257.8L232.4,257.3L232.9,256.5L233.4,256.5L233.9,256.3L234.4,257.3L234.9,257.8L235.4,258.2L235.9,258.3L236.4,258.7L236.9,258.8L237.4,258.4L237.9,258.7L238.4,258.7L238.9,258.5L239.4,258.5L239.9,258.2L240.4,258.3L240.9,258.2L241.4,257.8L241.9,257.9L242.4,257.6L242.9,257.4L243.4,257.5L243.9,257.5L244.4,258.0L244.9,258.2L245.4,257.9L245.9,258.3L246.4,258.3L246.9,258.2L247.4,258.4L247.9,258.4L248.4,258.7L248.9,258.3L249.4,258.4L249.9,258.6L250.4,258.3L250.9,257.9L251.4,256.7L251.9,257.5L252.4,258.0L252.9,257.3L253.4,256.9L253.9,257.8L254.4,258.6L254.9,258.5L255.4,258.7L255.9,258.7L256.4,258.8L256.9,258.8L257.4,258.6L257.9,258.6L258.4,258.8L258.9,258.7L259.4,258.6L259.9,258.5L260.4,258.5" fill="none" stroke="#d5303f" stroke-width="0.9" stroke-linejoin="round"/>
<path d="M16.9,265.3L17.4,265.3L17.9,264.9L18.4,264.9L18.9,265.3L19.4,265.2L19.9,265.2L20.4,265.0L20.9,265.2L21.4,265.2L21.9,265.1L22.4,264.9L22.9,265.1L23.4,265.0L23.9,265.2L24.4,265.4L24.9,265.3L25.4,265.1L25.9,265.1L26.4,265.0L26.9,264.9L27.4,264.9L27.9,265.1L28.4,265.0L28.9,265.0L29.4,265.3L29.9,265.1L30.4,265.1L30.9,265.0L31.4,264.9L31.9,265.0L32.4,264.9L32.9,265.1L33.4,265.4L33.9,265.2L34.4,264.9L34.9,265.3L35.4,265.3L35.9,265.2L36.4,265.3L36.9,265.2L37.4,265.2L37.9,264.9L38.4,264.9L38.9,264.4L39.4,263.6L39.9,264.0L40.4,264.6L40.9,264.8L41.4,264.6L41.9,264.1L42.4,263.8L42.9,263.8L43.4,264.6L43.9,264.7L44.4,264.8L44.9,264.4L45.4,264.1L45.9,264.6L46.4,265.2L46.9,265.2L47.4,265.1L47.9,265.0L48.4,264.8L48.9,264.5L49.4,264.2L49.9,265.1L50.4,264.8L50.9,264.6L51.4,264.3L51.9,265.1L52.4,265.0L52.9,264.4L53.4,264.4L53.9,264.9L54.4,264.9L54.9,264.4L55.4,264.2L55.9,264.8L56.4,265.1L56.9,264.6L57.4,264.1L57.9,264.9L58.4,265.0L58.9,264.7L59.4,264.2L59.9,264.9L60.4,264.7L60.9,264.6L61.4,264.2L61.9,264.6L62.4,265.1L62.9,264.4L63.4,264.3L63.9,264.9L64.4,264.8L64.9,264.5L65.4,264.5L65.9,264.6L66.4,265.2L66.9,264.9L67.4,265.1L67.9,265.0L68.4,265.2L68.9,264.9L69.4,265.3L69.9,264.9L70.4,265.2L70.9,264.9L71.4,265.0L71.9,265.3L72.4,265.0L72.9,265.0L73.4,265.2L73.9,265.1L74.4,264.9L74.9,265.4L75.4,264.9L75.9,264.9L76.4,265.0L76.9,265.2L77.4,265.2L77.9,264.9L78.4,265.0L78.9,264.9L79.4,265.1L79.9,265.3L80.4,265.2L80.9,265.3L81.4,265.3L81.9,265.3L82.4,265.2L82.9,265.1L83.4,265.0L83.9,265.2L84.4,265.0L84.9,264.9L85.4,265.1L85.9,265.3L86.4,264.9L86.9,265.2L87.4,265.1L87.9,265.1L88.4,265.0L88.9,265.4L89.4,265.0L89.9,265.2L90.4,265.1L90.9,264.9L91.4,265.2L91.9,265.0L92.4,264.9L92.9,264.9L93.4,265.0L93.9,264.9L94.4,265.2L94.9,265.1L95.4,265.4L95.9,265.3L96.4,265.4L96.9,265.0L97.4,265.1L97.9,265.0L98.4,265.2L98.9,265.2L99.4,265.3L99.9,265.2L100.4,265.0L100.9,265.0L101.4,265.0L101.9,264.5L102.4,264.3L102.9,264.2L103.4,263.6L103.9,263.4L104.4,262.7L104.9,262.2L105.4,262.0L105.9,261.7L106.4,261.1L106.9,260.2L107.4,258.3L107.9,255.4L108.4,252.5L108.9,249.5L109.4,248.5L109.9,248.8L110.4,250.4L110.9,252.6L111.4,255.0L111.9,256.7L112.4,257.6L112.9,258.5L113.4,259.2L113.9,259.6L114.4,260.3L114.9,261.4L115.4,261.9L115.9,262.7L116.4,263.6L116.9,263.9L117.4,264.2L117.9,264.8L118.4,264.7L118.9,264.7L119.4,265.1L119.9,264.9L120.4,265.0L120.9,265.3L121.4,265.2L121.9,264.9L122.4,265.1L122.9,265.1L123.4,265.1L123.9,265.0L124.4,265.2L124.9,264.9L125.4,265.0L125.9,265.1L126.4,265.4L126.9,264.9L127.4,265.3L127.9,265.0L128.4,265.2L128.9,265.1L129.4,265.1L129.9,265.3L130.4,265.1L130.9,265.0L131.4,265.0L131.9,264.9L132.4,265.3L132.9,265.2L133.4,265.4L133.9,265.2L134.4,264.9L134.9,265.2L135.4,265.3L135.9,265.3L136.4,265.1L136.9,265.1L137.4,265.1L137.9,265.3L138.4,265.0L138.9,265.2L139.4,265.1L139.9,265.4L140.4,265.3L140.9,265.4L141.4,265.3L141.9,265.0L142.4,265.0L142.9,265.1L143.4,265.0L143.9,265.1L144.4,265.2L144.9,265.4L145.4,265.2L145.9,265.3L146.4,265.0L146.9,265.1L147.4,265.4L147.9,265.0L148.4,265.1L148.9,264.9L149.4,264.9L149.9,265.4L150.4,265.4L150.9,265.2L151.4,265.0L151.9,265.1L152.4,265.0L152.9,265.2L153.4,265.2L153.9,265.1L154.4,265.2L154.9,265.0L155.4,265.2L155.9,265.4L156.4,265.3L156.9,265.0L157.4,265.2L157.9,265.3L158.4,265.0L158.9,265.4L159.4,265.1L159.9,265.2L160.4,265.0L160.9,264.9L161.4,263.1L161.9,258.6L162.4,250.3L162.9,240.5L163.4,233.6L163.9,233.8L164.4,238.0L164.9,240.5L165.4,240.4L165.9,239.3L166.4,240.5L166.9,244.6L167.4,249.4L167.9,252.8L168.4,254.2L168.9,254.7L169.4,254.4L169.9,255.1L170.4,256.2L170.9,257.9L171.4,259.8L171.9,261.2L172.4,262.8L172.9,263.7L173.4,264.5L173.9,265.0L174.4,265.0L174.9,264.8L175.4,265.0L175.9,265.1L176.4,265.0L176.9,264.7L177.4,264.6L177.9,263.9L178.4,264.1L178.9,263.9L179.4,263.7L179.9,263.9L180.4,264.0L180.9,263.7L181.4,264.2L181.9,264.3L182.4,264.0L182.9,264.3L183.4,264.1L183.9,263.8L184.4,264.1L184.9,263.8L185.4,264.2L185.9,264.3L186.4,264.4L186.9,264.7L187.4,264.8L187.9,264.8L188.4,265.3L188.9,264.9L189.4,264.9L189.9,265.0L190.4,264.8L190.9,263.8L191.4,262.3L191.9,260.6L192.4,259.8L192.9,260.0L193.4,261.4L193.9,263.2L194.4,264.1L194.9,264.7L195.4,265.2L195.9,265.0L196.4,265.3L196.9,265.3L197.4,265.1L197.9,265.3L198.4,265.3L198.9,265.4L199.4,265.0L199.9,265.0L200.4,265.1L200.9,265.2L201.4,265.1L201.9,264.9L202.4,265.2L202.9,265.4L203.4,265.1L203.9,265.2L204.4,265.1L204.9,265.1L205.4,265.4L205.9,265.1L206.4,265.3L206.9,265.2L207.4,265.2L207.9,265.4L208.4,265.0L208.9,265.3L209.4,265.1L209.9,265.3L210.4,265.3L210.9,265.3L211.4,265.1L211.9,265.4L212.4,265.0L212.9,265.2L213.4,265.1L213.9,265.2L214.4,265.4L214.9,265.3L215.4,265.2L215.9,265.1L216.4,265.0L216.9,265.2L217.4,265.0L217.9,265.1L218.4,265.4L218.9,265.0L219.4,265.3L219.9,265.1L220.4,265.1L220.9,265.1L221.4,265.0L221.9,265.2L222.4,265.0L222.9,265.2L223.4,265.1L223.9,265.4L224.4,265.4L224.9,265.2L225.4,265.3L225.9,265.4L226.4,265.1L226.9,265.0L227.4,265.1L227.9,265.0L228.4,265.3L228.9,265.1L229.4,265.1L229.9,265.3L230.4,265.0L230.9,265.2L231.4,264.9L231.9,264.4L232.4,264.1L232.9,263.2L233.4,263.2L233.9,263.4L234.4,263.7L234.9,264.4L235.4,265.0L235.9,265.1L236.4,265.3L236.9,265.3L237.4,265.4L237.9,265.3L238.4,265.3L238.9,264.9L239.4,265.0L239.9,264.9L240.4,264.7L240.9,264.5L241.4,264.3L241.9,264.5L242.4,264.2L242.9,264.2L243.4,264.4L243.9,264.1L244.4,264.6L244.9,264.3L245.4,264.4L245.9,264.7L246.4,264.8L246.9,265.2L247.4,265.3L247.9,265.3L248.4,265.1L248.9,265.2L249.4,265.1L249.9,265.4L250.4,265.1L250.9,264.4L251.4,263.3L251.9,263.7L252.4,264.7L252.9,264.2L253.4,263.2L253.9,264.4L254.4,265.0L254.9,265.1L255.4,265.2L255.9,265.1L256.4,265.1L256.9,265.1L257.4,265.1L257.9,265.3L258.4,265.1L258.9,265.1L259.4,265.3L259.9,265.0L260.4,265.0" fill="none" stroke="#ea7a88" stroke-width="0.9" stroke-linejoin="round"/>
<path d="M16.9,271.2L17.4,271.3L17.9,271.2L18.4,271.4L18.9,271.4L19.4,271.1L19.9,271.1L20.4,271.5L20.9,271.2L21.4,271.2L21.9,271.6L22.4,271.3L22.9,271.5L23.4,271.3L23.9,271.4L24.4,271.1L24.9,271.4L25.4,271.5L25.9,271.3L26.4,271.4L26.9,271.4L27.4,271.1L27.9,271.4L28.4,271.4L28.9,271.2L29.4,271.1L29.9,271.5L30.4,271.3L30.9,271.4L31.4,271.5L31.9,271.4L32.4,271.5L32.9,271.3L33.4,271.5L33.9,271.3L34.4,271.5L34.9,271.5L35.4,271.1L35.9,271.1L36.4,271.2L36.9,271.5L37.4,271.3L37.9,271.3L38.4,270.8L38.9,270.3L39.4,269.9L39.9,270.0L40.4,270.7L40.9,271.0L41.4,271.0L41.9,270.4L42.4,270.0L42.9,270.2L43.4,270.9L43.9,271.1L44.4,270.6L44.9,270.6L45.4,270.6L45.9,271.0L46.4,271.2L46.9,271.4L47.4,271.2L47.9,271.5L48.4,271.1L48.9,270.5L49.4,270.4L49.9,271.2L50.4,271.3L50.9,270.4L51.4,270.7L51.9,271.0L52.4,270.9L52.9,270.5L53.4,270.7L53.9,271.2L54.4,270.9L54.9,270.7L55.4,270.3L55.9,271.1L56.4,271.0L56.9,270.9L57.4,270.8L57.9,271.0L58.4,271.4L58.9,270.6L59.4,270.3L59.9,271.0L60.4,270.9L60.9,270.6L61.4,270.5L61.9,271.0L62.4,271.0L62.9,270.5L63.4,270.7L63.9,270.8L64.4,271.4L64.9,271.0L65.4,270.5L65.9,270.8L66.4,271.3L66.9,271.4L67.4,271.4L67.9,271.4L68.4,271.4L68.9,271.5L69.4,271.3L69.9,271.3L70.4,271.4L70.9,271.2L71.4,271.2L71.9,271.6L72.4,271.3L72.9,271.3L73.4,271.1L73.9,271.3L74.4,271.4L74.9,271.1L75.4,271.4L75.9,271.4L76.4,271.1L76.9,271.4L77.4,271.3L77.9,271.4L78.4,271.3L78.9,271.4L79.4,271.4L79.9,271.1L80.4,271.1L80.9,271.4L81.4,271.6L81.9,271.2L82.4,271.3L82.9,271.4L83.4,271.2L83.9,271.3L84.4,271.2L84.9,271.3L85.4,271.4L85.9,271.2L86.4,271.3L86.9,271.5L87.4,271.1L87.9,271.4L88.4,271.4L88.9,271.2L89.4,271.2L89.9,271.5L90.4,271.2L90.9,271.2L91.4,271.3L91.9,271.4L92.4,271.1L92.9,271.2L93.4,271.2L93.9,271.5L94.4,271.3L94.9,271.5L95.4,271.2L95.9,271.3L96.4,271.4L96.9,271.5L97.4,271.3L97.9,271.2L98.4,271.1L98.9,271.3L99.4,271.2L99.9,271.5L100.4,271.5L100.9,271.1L101.4,271.0L101.9,271.1L102.4,270.8L102.9,270.6L103.4,269.9L103.9,269.3L104.4,268.9L104.9,268.8L105.4,268.2L105.9,268.0L106.4,267.5L106.9,266.4L107.4,264.5L107.9,262.1L108.4,258.6L108.9,255.8L109.4,254.9L109.9,255.2L110.4,256.9L110.9,259.0L111.4,261.5L111.9,263.2L112.4,264.0L112.9,265.0L113.4,265.6L113.9,266.2L114.4,266.8L114.9,267.4L115.4,268.2L115.9,268.8L116.4,269.4L116.9,270.1L117.4,270.4L117.9,270.9L118.4,270.8L118.9,271.3L119.4,271.3L119.9,271.5L120.4,271.5L120.9,271.5L121.4,271.4L121.9,271.1L122.4,271.5L122.9,271.2L123.4,271.2L123.9,271.4L124.4,271.4L124.9,271.3L125.4,271.6L125.9,271.4L126.4,271.3L126.9,271.2L127.4,271.5L127.9,271.3L128.4,271.5L128.9,271.3L129.4,271.2L129.9,271.4L130.4,271.5L130.9,271.2L131.4,271.5L131.9,271.6L132.4,271.5L132.9,271.5L133.4,271.1L133.9,271.4L134.4,271.5L134.9,271.1L135.4,271.2L135.9,271.2L136.4,271.4L136.9,271.3L137.4,271.3L137.9,271.5L138.4,271.1L138.9,271.1L139.4,271.2L139.9,271.2L140.4,271.1L140.9,271.6L141.4,271.5L141.9,271.1L142.4,271.4L142.9,271.3L143.4,271.3L143.9,271.3L144.4,271.4L144.9,271.4L145.4,271.3L145.9,271.2L146.4,271.3L146.9,271.2L147.4,271.4L147.9,271.5L148.4,271.3L148.9,271.1L149.4,271.2L149.9,271.3L150.4,271.4L150.9,271.5L151.4,271.3L151.9,271.5L152.4,271.4L152.9,271.3L153.4,271.3L153.9,271.4L154.4,271.5L154.9,271.3L155.4,271.5L155.9,271.3L156.4,271.2L156.9,271.4L157.4,271.5L157.9,271.1L158.4,271.3L158.9,271.3L159.4,271.5L159.9,271.6L160.4,271.2L160.9,271.0L161.4,269.4L161.9,264.8L162.4,256.9L162.9,247.0L163.4,240.8L163.9,240.7L164.4,244.8L164.9,247.5L165.4,247.1L165.9,246.2L166.4,247.3L166.9,250.9L167.4,255.8L167.9,258.9L168.4,260.4L168.9,261.0L169.4,260.7L169.9,261.2L170.4,262.3L170.9,264.3L171.4,265.7L171.9,267.4L172.4,269.2L172.9,269.8L173.4,270.8L173.9,271.1L174.4,271.4L174.9,271.5L175.4,271.3L175.9,271.3L176.4,270.8L176.9,271.0L177.4,270.6L177.9,270.5L178.4,269.9L178.9,270.1L179.4,270.1L179.9,269.6L180.4,269.9L180.9,270.2L181.4,270.4L181.9,270.2L182.4,270.2L182.9,270.2L183.4,270.3L183.9,270.3L184.4,270.1L184.9,270.1L185.4,270.3L185.9,270.4L186.4,270.7L186.9,270.7L187.4,271.1L187.9,271.4L188.4,271.2L188.9,271.4L189.4,271.1L189.9,271.3L190.4,270.9L190.9,270.0L191.4,268.4L191.9,266.8L192.4,266.0L192.9,266.5L193.4,267.6L193.9,269.1L194.4,270.6L194.9,271.3L195.4,271.3L195.9,271.3L196.4,271.5L196.9,271.2L197.4,271.3L197.9,271.2L198.4,271.4L198.9,271.3L199.4,271.2L199.9,271.5L200.4,271.6L200.9,271.3L201.4,271.5L201.9,271.3L202.4,271.6L202.9,271.4L203.4,271.3L203.9,271.2L204.4,271.1L204.9,271.4L205.4,271.3L205.9,271.2L206.4,271.3L206.9,271.3L207.4,271.5L207.9,271.2L208.4,271.6L208.9,271.4L209.4,271.4L209.9,271.4L210.4,271.5L210.9,271.5L211.4,271.4L211.9,271.4L212.4,271.5L212.9,271.6L213.4,271.3L213.9,271.5L214.4,271.6L214.9,271.4L215.4,271.2L215.9,271.2L216.4,271.5L216.9,271.5L217.4,271.6L217.9,271.6L218.4,271.3L218.9,271.2L219.4,271.3L219.9,271.2L220.4,271.5L220.9,271.6L221.4,271.6L221.9,271.3L222.4,271.6L222.9,271.3L223.4,271.3L223.9,271.5L224.4,271.2L224.9,271.2L225.4,271.6L225.9,271.3L226.4,271.3L226.9,271.4L227.4,271.5L227.9,271.1L228.4,271.3L228.9,271.4L229.4,271.4L229.9,271.2L230.4,271.4L230.9,271.5L231.4,271.0L231.9,270.7L232.4,269.9L232.9,269.4L233.4,269.3L233.9,269.1L234.4,270.0L234.9,270.7L235.4,270.7L235.9,271.4L236.4,271.3L236.9,271.5L237.4,271.5L237.9,271.2L238.4,271.4L238.9,271.3L239.4,271.3L239.9,270.9L240.4,271.0L240.9,271.0L241.4,270.7L241.9,270.5L242.4,270.2L242.9,270.4L243.4,270.3L243.9,270.6L244.4,270.7L244.9,270.8L245.4,270.7L245.9,271.1L246.4,271.2L246.9,271.0L247.4,271.5L247.9,271.4L248.4,271.2L248.9,271.6L249.4,271.2L249.9,271.3L250.4,271.4L250.9,270.7L251.4,269.5L251.9,270.2L252.4,271.0L252.9,270.1L253.4,269.5L253.9,270.5L254.4,271.4L254.9,271.5L255.4,271.4L255.9,271.5L256.4,271.3L256.9,271.3L257.4,271.3L257.9,271.6L258.4,271.2L258.9,271.4L259.4,271.3L259.9,271.5L260.4,271.3" fill="none" stroke="#d8404f" stroke-width="0.9" stroke-linejoin="round"/>
<path d="M16.9,278.1L17.4,278.0L17.9,278.1L18.4,278.0L18.9,278.0L19.4,278.2L19.9,278.4L20.4,278.4L20.9,278.3L21.4,278.1L21.9,278.2L22.4,278.1L22.9,278.0L23.4,278.0L23.9,278.1L24.4,278.4L24.9,278.4L25.4,278.4L25.9,278.4L26.4,278.1L26.9,278.1L27.4,278.3L27.9,278.3L28.4,278.4L28.9,278.4L29.4,278.0L29.9,278.3L30.4,278.3L30.9,278.2L31.4,278.0L31.9,278.2L32.4,278.0L32.9,278.4L33.4,278.4L33.9,278.2L34.4,278.1L34.9,278.4L35.4,278.2L35.9,278.4L36.4,278.4L36.9,278.2L37.4,278.1L37.9,278.2L38.4,277.8L38.9,277.1L39.4,276.7L39.9,277.2L40.4,277.3L40.9,277.7L41.4,277.8L41.9,277.0L42.4,276.7L42.9,276.9L43.4,277.4L43.9,278.1L44.4,277.6L44.9,277.3L45.4,277.1L45.9,277.7L46.4,277.9L46.9,278.1L47.4,278.3L47.9,278.1L48.4,278.0L48.9,277.7L49.4,277.3L49.9,277.7L50.4,277.8L50.9,277.7L51.4,277.5L51.9,277.8L52.4,277.9L52.9,277.4L53.4,277.5L53.9,277.7L54.4,278.1L54.9,277.8L55.4,277.7L55.9,278.0L56.4,278.2L56.9,277.4L57.4,277.3L57.9,278.1L58.4,278.2L58.9,277.6L59.4,277.7L59.9,277.9L60.4,278.2L60.9,277.5L61.4,277.3L61.9,277.8L62.4,277.9L62.9,277.6L63.4,277.7L63.9,277.7L64.4,277.8L64.9,277.5L65.4,277.3L65.9,277.9L66.4,278.2L66.9,278.1L67.4,278.0L67.9,278.5L68.4,278.2L68.9,278.1L69.4,278.0L69.9,278.0L70.4,278.1L70.9,278.3L71.4,278.0L71.9,278.0L72.4,278.2L72.9,278.1L73.4,278.5L73.9,278.0L74.4,278.2L74.9,278.4L75.4,278.2L75.9,278.5L76.4,278.2L76.9,278.1L77.4,278.2L77.9,278.0L78.4,278.2L78.9,278.1L79.4,278.4L79.9,278.4L80.4,278.2L80.9,278.0L81.4,278.1L81.9,278.1L82.4,278.1L82.9,278.1L83.4,278.4L83.9,278.0L84.4,278.0L84.9,278.4L85.4,278.3L85.9,278.5L86.4,278.2L86.9,278.4L87.4,278.3L87.9,278.4L88.4,278.4L88.9,278.2L89.4,278.0L89.9,278.1L90.4,278.4L90.9,278.4L91.4,278.4L91.9,278.1L92.4,278.3L92.9,278.4L93.4,278.3L93.9,278.4L94.4,278.2L94.9,278.3L95.4,278.3L95.9,278.1L96.4,278.4L96.9,278.5L97.4,278.0L97.9,278.5L98.4,278.5L98.9,278.3L99.4,278.0L99.9,278.4L100.4,278.0L100.9,278.4L101.4,278.1L101.9,277.7L102.4,277.5L102.9,277.4L103.4,276.9L103.9,276.6L104.4,276.2L104.9,275.5L105.4,275.1L105.9,275.2L106.4,274.2L106.9,273.6L107.4,271.4L107.9,269.1L108.4,266.0L108.9,263.4L109.4,261.9L109.9,262.3L110.4,263.7L110.9,266.2L111.4,268.3L111.9,270.2L112.4,271.2L112.9,271.8L113.4,272.4L113.9,272.8L114.4,273.5L114.9,274.5L115.4,275.2L115.9,276.1L116.4,276.6L116.9,276.8L117.4,277.3L117.9,277.8L118.4,277.9L118.9,277.8L119.4,278.3L119.9,278.3L120.4,278.0L120.9,278.2L121.4,278.2L121.9,278.4L122.4,278.1L122.9,278.1L123.4,278.2L123.9,278.5L124.4,278.0L124.9,278.1L125.4,278.3L125.9,278.4L126.4,278.3L126.9,278.2L127.4,278.4L127.9,278.4L128.4,278.0L128.9,278.4L129.4,278.1L129.9,278.1L130.4,278.4L130.9,278.2L131.4,278.4L131.9,278.1L132.4,278.4L132.9,278.1L133.4,278.1L133.9,278.2L134.4,278.2L134.9,278.3L135.4,278.5L135.9,278.4L136.4,278.0L136.9,278.2L137.4,278.3L137.9,278.2L138.4,278.4L138.9,278.2L139.4,278.0L139.9,278.1L140.4,278.4L140.9,278.2L141.4,278.4L141.9,278.5L142.4,278.3L142.9,278.3L143.4,278.3L143.9,278.2L144.4,278.5L144.9,278.2L145.4,278.5L145.9,278.2L146.4,278.4L146.9,278.4L147.4,278.3L147.9,278.2L148.4,278.1L148.9,278.4L149.4,278.2L149.9,278.3L150.4,278.1L150.9,278.0L151.4,278.1L151.9,278.4L152.4,278.1L152.9,278.5L153.4,278.2L153.9,278.3L154.4,278.2L154.9,278.3L155.4,278.1L155.9,278.2L156.4,278.5L156.9,278.1L157.4,278.3L157.9,278.2L158.4,278.2L158.9,278.0L159.4,278.0L159.9,278.5L160.4,278.3L160.9,277.9L161.4,276.3L161.9,272.2L162.4,264.0L162.9,254.6L163.4,248.2L163.9,248.2L164.4,252.2L164.9,254.9L165.4,254.7L165.9,253.3L166.4,254.8L166.9,258.5L167.4,263.1L167.9,266.3L168.4,267.9L168.9,267.9L169.4,268.2L169.9,268.4L170.4,269.6L170.9,271.3L171.4,273.0L171.9,274.5L172.4,275.8L172.9,276.8L173.4,277.6L173.9,278.2L174.4,278.3L174.9,278.1L175.4,278.1L175.9,278.2L176.4,277.8L176.9,277.7L177.4,277.3L177.9,277.1L178.4,277.0L178.9,276.9L179.4,276.8L179.9,276.7L180.4,277.1L180.9,277.1L181.4,277.0L181.9,277.0L182.4,277.5L182.9,277.5L183.4,277.4L183.9,277.1L184.4,276.9L184.9,276.9L185.4,277.1L185.9,277.3L186.4,277.8L186.9,278.0L187.4,278.1L187.9,277.9L188.4,278.0L188.9,278.1L189.4,278.4L189.9,277.9L190.4,277.8L190.9,276.9L191.4,275.3L191.9,273.9L192.4,272.7L192.9,273.2L193.4,274.5L193.9,276.0L194.4,277.2L194.9,277.9L195.4,278.0L195.9,278.0L196.4,278.5L196.9,278.2L197.4,278.5L197.9,278.4L198.4,278.4L198.9,278.4L199.4,278.5L199.9,278.5L200.4,278.4L200.9,278.3L201.4,278.4L201.9,278.4L202.4,278.3L202.9,278.3L203.4,278.1L203.9,278.4L204.4,278.3L204.9,278.1L205.4,278.1L205.9,278.5L206.4,278.2L206.9,278.2L207.4,278.4L207.9,278.5L208.4,278.2L208.9,278.2L209.4,278.2L209.9,278.0L210.4,278.5L210.9,278.0L211.4,278.5L211.9,278.1L212.4,278.1L212.9,278.5L213.4,278.4L213.9,278.1L214.4,278.3L214.9,278.3L215.4,278.4L215.9,278.1L216.4,278.4L216.9,278.5L217.4,278.4L217.9,278.5L218.4,278.5L218.9,278.2L219.4,278.5L219.9,278.5L220.4,278.3L220.9,278.1L221.4,278.3L221.9,278.5L222.4,278.2L222.9,278.4L223.4,278.5L223.9,278.3L224.4,278.1L224.9,278.4L225.4,278.2L225.9,278.5L226.4,278.4L226.9,278.2L227.4,278.5L227.9,278.3L228.4,278.2L228.9,278.5L229.4,278.5L229.9,278.5L230.4,278.4L230.9,278.3L231.4,278.1L231.9,277.6L232.4,277.0L232.9,276.7L233.4,276.0L233.9,276.0L234.4,276.9L234.9,277.4L235.4,277.9L235.9,278.2L236.4,278.1L236.9,278.1L237.4,278.0L237.9,278.4L238.4,278.4L238.9,278.2L239.4,277.9L239.9,278.2L240.4,278.0L240.9,277.7L241.4,277.3L241.9,277.6L242.4,277.4L242.9,277.4L243.4,277.1L243.9,277.5L244.4,277.3L244.9,277.6L245.4,277.6L245.9,277.8L246.4,278.2L246.9,278.2L247.4,278.3L247.9,278.1L248.4,278.2L248.9,278.3L249.4,278.1L249.9,278.2L250.4,278.5L250.9,277.7L251.4,276.5L251.9,276.9L252.4,278.0L252.9,277.3L253.4,276.6L253.9,277.6L254.4,278.1L254.9,278.1L255.4,278.5L255.9,278.5L256.4,278.2L256.9,278.4L257.4,278.3L257.9,278.4L258.4,278.5L258.9,278.2L259.4,278.4L259.9,278.2L260.4,278.3" fill="none" stroke="#e8786a" stroke-width="0.9" stroke-linejoin="round"/>
<path d="M16.9,285.4L17.4,285.4L17.9,285.4L18.4,285.5L18.9,285.4L19.4,285.5L19.9,285.1L20.4,285.3L20.9,285.5L21.4,285.4L21.9,285.5L22.4,285.1L22.9,285.3L23.4,285.2L23.9,285.3L24.4,285.3L24.9,285.1L25.4,285.2L25.9,285.2L26.4,285.5L26.9,285.4L27.4,285.1L27.9,285.5L28.4,285.1L28.9,285.4L29.4,285.1L29.9,285.1L30.4,285.5L30.9,285.2L31.4,285.2L31.9,285.5L32.4,285.5L32.9,285.2L33.4,285.5L33.9,285.3L34.4,285.4L34.9,285.2L35.4,285.5L35.9,285.4L36.4,285.5L36.9,285.5L37.4,285.2L37.9,285.1L38.4,284.7L38.9,284.2L39.4,283.7L39.9,284.0L40.4,284.7L40.9,284.7L41.4,284.9L41.9,284.2L42.4,283.7L42.9,284.2L43.4,284.6L43.9,284.9L44.4,284.8L44.9,284.5L45.4,284.1L45.9,285.0L46.4,284.9L46.9,285.4L47.4,285.5L47.9,285.1L48.4,285.2L48.9,284.5L49.4,284.6L49.9,284.8L50.4,284.8L50.9,284.5L51.4,284.8L51.9,284.9L52.4,285.2L52.9,284.9L53.4,284.8L53.9,284.9L54.4,285.0L54.9,284.7L55.4,284.7L55.9,284.8L56.4,285.2L56.9,284.8L57.4,284.7L57.9,284.7L58.4,285.4L58.9,284.5L59.4,284.5L59.9,285.0L60.4,285.4L60.9,284.7L61.4,284.7L61.9,284.9L62.4,285.1L62.9,284.7L63.4,284.4L63.9,284.7L64.4,285.0L64.9,284.9L65.4,284.8L65.9,284.7L66.4,285.1L66.9,285.6L67.4,285.3L67.9,285.3L68.4,285.2L68.9,285.4L69.4,285.5L69.9,285.3L70.4,285.3L70.9,285.1L71.4,285.5L71.9,285.1L72.4,285.3L72.9,285.5L73.4,285.1L73.9,285.4L74.4,285.5L74.9,285.4L75.4,285.5L75.9,285.1L76.4,285.3L76.9,285.1L77.4,285.5L77.9,285.2L78.4,285.3L78.9,285.6L79.4,285.5L79.9,285.6L80.4,285.3L80.9,285.3L81.4,285.4L81.9,285.3L82.4,285.2L82.9,285.3L83.4,285.2L83.9,285.3L84.4,285.6L84.9,285.6L85.4,285.4L85.9,285.3L86.4,285.2L86.9,285.1L87.4,285.2L87.9,285.5L88.4,285.5L88.9,285.3L89.4,285.5L89.9,285.5L90.4,285.4L90.9,285.4L91.4,285.5L91.9,285.3L92.4,285.4L92.9,285.2L93.4,285.3L93.9,285.5L94.4,285.4L94.9,285.2L95.4,285.6L95.9,285.4L96.4,285.4L96.9,285.1L97.4,285.4L97.9,285.2L98.4,285.4L98.9,285.3L99.4,285.5L99.9,285.4L100.4,285.4L100.9,285.2L101.4,285.2L101.9,285.1L102.4,284.9L102.9,284.4L103.4,284.2L103.9,283.8L104.4,283.2L104.9,283.0L105.4,282.7L105.9,282.2L106.4,281.7L106.9,280.4L107.4,279.0L107.9,276.4L108.4,273.1L108.9,270.6L109.4,269.3L109.9,269.6L110.4,271.0L110.9,273.6L111.4,275.6L111.9,277.3L112.4,278.3L112.9,279.1L113.4,279.8L113.9,280.3L114.4,281.0L114.9,281.4L115.4,282.2L115.9,283.0L116.4,283.7L116.9,284.0L117.4,284.6L117.9,284.9L118.4,284.8L118.9,285.1L119.4,285.1L119.9,285.1L120.4,285.1L120.9,285.2L121.4,285.2L121.9,285.2L122.4,285.1L122.9,285.3L123.4,285.3L123.9,285.4L124.4,285.4L124.9,285.2L125.4,285.5L125.9,285.1L126.4,285.3L126.9,285.2L127.4,285.3L127.9,285.2L128.4,285.5L128.9,285.3L129.4,285.1L129.9,285.4L130.4,285.1L130.9,285.4L131.4,285.3L131.9,285.4L132.4,285.6L132.9,285.5L133.4,285.3L133.9,285.5L134.4,285.4L134.9,285.3L135.4,285.2L135.9,285.4L136.4,285.4L136.9,285.6L137.4,285.6L137.9,285.4L138.4,285.3L138.9,285.5L139.4,285.1L139.9,285.2L140.4,285.4L140.9,285.4L141.4,285.2L141.9,285.4L142.4,285.5L142.9,285.3L143.4,285.3L143.9,285.2L144.4,285.2L144.9,285.6L145.4,285.3L145.9,285.6L146.4,285.6L146.9,285.4L147.4,285.2L147.9,285.6L148.4,285.4L148.9,285.3L149.4,285.3L149.9,285.6L150.4,285.4L150.9,285.2L151.4,285.3L151.9,285.2L152.4,285.4L152.9,285.3L153.4,285.3L153.9,285.5L154.4,285.5L154.9,285.1L155.4,285.4L155.9,285.2L156.4,285.6L156.9,285.5L157.4,285.2L157.9,285.2L158.4,285.2L158.9,285.6L159.4,285.3L159.9,285.4L160.4,285.3L160.9,284.9L161.4,283.3L161.9,279.3L162.4,271.3L162.9,262.3L163.4,255.8L163.9,255.9L164.4,259.6L164.9,262.3L165.4,262.1L165.9,261.1L166.4,262.2L166.9,266.1L167.4,270.4L167.9,273.4L168.4,274.9L168.9,275.3L169.4,275.5L169.9,276.0L170.4,276.9L170.9,278.1L171.4,280.3L171.9,281.7L172.4,283.1L172.9,284.1L173.4,284.7L173.9,285.0L174.4,285.4L174.9,285.2L175.4,285.2L175.9,285.3L176.4,284.9L176.9,284.8L177.4,284.8L177.9,284.2L178.4,284.3L178.9,284.0L179.4,283.8L179.9,283.8L180.4,284.1L180.9,284.3L181.4,284.1L181.9,284.4L182.4,284.4L182.9,284.3L183.4,284.2L183.9,284.0L184.4,284.2L184.9,284.3L185.4,284.1L185.9,284.4L186.4,284.9L186.9,285.0L187.4,285.1L187.9,284.9L188.4,285.4L188.9,285.5L189.4,285.6L189.9,285.3L190.4,284.6L190.9,284.1L191.4,282.3L191.9,280.9L192.4,280.1L192.9,280.4L193.4,281.6L193.9,283.2L194.4,284.7L194.9,284.9L195.4,285.4L195.9,285.3L196.4,285.2L196.9,285.4L197.4,285.1L197.9,285.2L198.4,285.3L198.9,285.2L199.4,285.2L199.9,285.4L200.4,285.5L200.9,285.6L201.4,285.2L201.9,285.3L202.4,285.3L202.9,285.4L203.4,285.4L203.9,285.6L204.4,285.3L204.9,285.2L205.4,285.5L205.9,285.2L206.4,285.4L206.9,285.4L207.4,285.6L207.9,285.4L208.4,285.4L208.9,285.3L209.4,285.4L209.9,285.3L210.4,285.5L210.9,285.4L211.4,285.2L211.9,285.2L212.4,285.3L212.9,285.5L213.4,285.2L213.9,285.5L214.4,285.5L214.9,285.2L215.4,285.5L215.9,285.2L216.4,285.2L216.9,285.4L217.4,285.3L217.9,285.6L218.4,285.4L218.9,285.3L219.4,285.5L219.9,285.1L220.4,285.5L220.9,285.2L221.4,285.2L221.9,285.6L222.4,285.5L222.9,285.2L223.4,285.2L223.9,285.6L224.4,285.5L224.9,285.5L225.4,285.2L225.9,285.4L226.4,285.3L226.9,285.3L227.4,285.3L227.9,285.4L228.4,285.3L228.9,285.3L229.4,285.2L229.9,285.5L230.4,285.4L230.9,285.4L231.4,285.0L231.9,284.9L232.4,284.1L232.9,283.6L233.4,283.2L233.9,283.5L234.4,283.8L234.9,284.3L235.4,284.7L235.9,285.1L236.4,285.1L236.9,285.6L237.4,285.3L237.9,285.5L238.4,285.0L238.9,285.2L239.4,285.3L239.9,285.1L240.4,284.9L240.9,284.8L241.4,284.4L241.9,284.3L242.4,284.3L242.9,284.3L243.4,284.4L243.9,284.7L244.4,284.4L244.9,284.6L245.4,284.8L245.9,284.8L246.4,285.0L246.9,285.1L247.4,285.3L247.9,285.1L248.4,285.6L248.9,285.3L249.4,285.6L249.9,285.5L250.4,285.4L250.9,284.6L251.4,283.7L251.9,283.9L252.4,285.1L252.9,284.1L253.4,283.7L253.9,284.8L254.4,285.2L254.9,285.2L255.4,285.2L255.9,285.3L256.4,285.2L256.9,285.3L257.4,285.6L257.9,285.3L258.4,285.3L258.9,285.4L259.4,285.3L259.9,285.5L260.4,285.5" fill="none" stroke="#f2a592" stroke-width="0.9" stroke-linejoin="round"/>
<path d="M16.9,292.2L17.4,292.3L17.9,292.1L18.4,292.0L18.9,291.9L19.4,292.2L19.9,292.1L20.4,292.2L20.9,292.0L21.4,292.2L21.9,292.0L22.4,292.3L22.9,292.2L23.4,292.1L23.9,292.1L24.4,292.2L24.9,292.0L25.4,292.1L25.9,292.3L26.4,292.0L26.9,292.3L27.4,292.2L27.9,292.3L28.4,292.0L28.9,291.9L29.4,292.3L29.9,292.3L30.4,292.1L30.9,291.9L31.4,292.0L31.9,292.2L32.4,292.0L32.9,292.3L33.4,292.2L33.9,292.0L34.4,292.2L34.9,292.0L35.4,292.3L35.9,292.3L36.4,292.1L36.9,292.2L37.4,292.2L37.9,292.2L38.4,291.9L38.9,290.9L39.4,290.7L39.9,291.0L40.4,291.4L40.9,291.8L41.4,291.4L41.9,291.2L42.4,290.6L42.9,290.6L43.4,291.5L43.9,291.7L44.4,291.5L44.9,291.2L45.4,291.0L45.9,291.4L46.4,292.1L46.9,292.2L47.4,291.9L47.9,292.3L48.4,291.6L48.9,291.3L49.4,291.6L49.9,291.9L50.4,291.8L50.9,291.4L51.4,291.3L51.9,291.6L52.4,292.1L52.9,291.2L53.4,291.3L53.9,291.9L54.4,291.9L54.9,291.7L55.4,291.2L55.9,292.0L56.4,292.1L56.9,291.6L57.4,291.5L57.9,291.7L58.4,292.1L58.9,291.7L59.4,291.3L59.9,291.7L60.4,292.0L60.9,291.5L61.4,291.1L61.9,291.8L62.4,291.8L62.9,291.6L63.4,291.5L63.9,291.5L64.4,291.7L64.9,291.4L65.4,291.4L65.9,291.6L66.4,292.0L66.9,292.1L67.4,292.3L67.9,292.0L68.4,292.1L68.9,292.3L69.4,292.2L69.9,292.0L70.4,292.1L70.9,292.1L71.4,291.9L71.9,292.1L72.4,292.0L72.9,292.3L73.4,292.0L73.9,292.2L74.4,292.4L74.9,292.3L75.4,292.1L75.9,292.2L76.4,292.0L76.9,292.1L77.4,292.1L77.9,292.3L78.4,292.3L78.9,292.0L79.4,291.9L79.9,292.1L80.4,291.9L80.9,291.9L81.4,292.3L81.9,291.9L82.4,292.2L82.9,292.1L83.4,292.3L83.9,292.3L84.4,291.9L84.9,292.0L85.4,292.4L85.9,292.2L86.4,292.1L86.9,292.3L87.4,292.3L87.9,292.1L88.4,292.1L88.9,291.9L89.4,292.1L89.9,292.0L90.4,292.2L90.9,292.2L91.4,292.0L91.9,292.2L92.4,291.9L92.9,291.9L93.4,292.2L93.9,292.1L94.4,292.3L94.9,292.2L95.4,292.2L95.9,291.9L96.4,292.3L96.9,291.9L97.4,292.2L97.9,292.3L98.4,292.3L98.9,292.3L99.4,292.1L99.9,292.2L100.4,292.2L100.9,291.9L101.4,292.2L101.9,292.0L102.4,291.5L102.9,291.4L103.4,290.8L103.9,290.3L104.4,290.1L104.9,289.4L105.4,289.4L105.9,289.2L106.4,288.4L106.9,287.7L107.4,285.5L107.9,283.3L108.4,280.0L108.9,277.8L109.4,276.2L109.9,276.7L110.4,277.9L110.9,280.2L111.4,282.7L111.9,284.2L112.4,285.2L112.9,285.7L113.4,286.3L113.9,287.0L114.4,287.5L114.9,288.7L115.4,289.3L115.9,290.1L116.4,290.6L116.9,290.9L117.4,291.1L117.9,291.7L118.4,291.6L118.9,292.0L119.4,292.0L119.9,292.1L120.4,291.9L120.9,291.9L121.4,292.1L121.9,291.9L122.4,292.2L122.9,292.0L123.4,292.0L123.9,292.0L124.4,292.2L124.9,292.1L125.4,292.0L125.9,292.0L126.4,292.2L126.9,292.4L127.4,292.1L127.9,292.0L128.4,292.1L128.9,292.0L129.4,292.2L129.9,292.3L130.4,292.2L130.9,292.0L131.4,292.1L131.9,292.1L132.4,292.1L132.9,292.1L133.4,292.4L133.9,292.2L134.4,292.2L134.9,292.3L135.4,292.2L135.9,292.3L136.4,292.1L136.9,292.2L137.4,292.4L137.9,292.0L138.4,292.2L138.9,292.1L139.4,291.9L139.9,291.9L140.4,292.3L140.9,292.0L141.4,292.3L141.9,292.0L142.4,292.1L142.9,291.9L143.4,292.2L143.9,292.3L144.4,292.0L144.9,292.2L145.4,292.4L145.9,292.0L146.4,292.1L146.9,292.3L147.4,292.3L147.9,292.0L148.4,292.2L148.9,292.0L149.4,292.0L149.9,292.4L150.4,291.9L150.9,292.4L151.4,292.3L151.9,292.2L152.4,292.3L152.9,292.2L153.4,292.0L153.9,292.1L154.4,292.0L154.9,292.3L155.4,292.3L155.9,292.3L156.4,292.0L156.9,292.2L157.4,292.0L157.9,292.3L158.4,292.3L158.9,292.4L159.4,292.3L159.9,292.2L160.4,292.2L160.9,291.5L161.4,290.2L161.9,285.9L162.4,278.6L162.9,269.3L163.4,263.6L163.9,263.0L164.4,267.2L164.9,269.9L165.4,269.3L165.9,268.6L166.4,269.3L166.9,273.0L167.4,277.3L167.9,280.4L168.4,281.8L168.9,282.5L169.4,282.1L169.9,282.8L170.4,283.7L170.9,285.2L171.4,287.0L171.9,288.5L172.4,290.2L172.9,290.8L173.4,291.5L173.9,291.9L174.4,292.1L174.9,292.0L175.4,291.9L175.9,291.8L176.4,292.0L176.9,291.5L177.4,291.4L177.9,291.3L178.4,291.0L178.9,291.0L179.4,290.8L179.9,290.7L180.4,290.6L180.9,291.0L181.4,291.1L181.9,291.3L182.4,291.2L182.9,291.2L183.4,291.2L183.9,291.0L184.4,291.1L184.9,291.2L185.4,290.9L185.9,291.5L186.4,291.7L186.9,291.9L187.4,291.8L187.9,291.9L188.4,291.9L188.9,292.0L189.4,292.3L189.9,291.9L190.4,291.3L190.9,290.6L191.4,289.0L191.9,287.7L192.4,286.8L192.9,287.3L193.4,288.3L193.9,290.1L194.4,291.1L194.9,292.1L195.4,292.3L195.9,292.2L196.4,292.4L196.9,292.2L197.4,292.3L197.9,292.2L198.4,292.1L198.9,292.4L199.4,292.3L199.9,292.2L200.4,292.4L200.9,292.3L201.4,292.3L201.9,292.0L202.4,292.0L202.9,292.0L203.4,292.2L203.9,292.3L204.4,292.0L204.9,292.2L205.4,292.0L205.9,292.3L206.4,292.3L206.9,292.0L207.4,292.4L207.9,292.3L208.4,292.0L208.9,292.1L209.4,292.0L209.9,292.3L210.4,292.4L210.9,292.0L211.4,292.0L211.9,292.2L212.4,292.4L212.9,292.3L213.4,292.2L213.9,292.0L214.4,292.2L214.9,292.2L215.4,292.3L215.9,292.2L216.4,292.3L216.9,292.4L217.4,292.2L217.9,292.4L218.4,292.1L218.9,291.9L219.4,292.4L219.9,291.9L220.4,292.4L220.9,292.2L221.4,292.0L221.9,292.1L222.4,292.3L222.9,292.1L223.4,292.2L223.9,292.0L224.4,292.4L224.9,292.1L225.4,292.4L225.9,292.0L226.4,292.3L226.9,292.2L227.4,292.1L227.9,291.9L228.4,292.2L228.9,292.4L229.4,292.0L229.9,292.2L230.4,291.9L230.9,292.3L231.4,292.1L231.9,291.6L232.4,290.9L232.9,290.1L233.4,289.8L233.9,290.2L234.4,290.8L234.9,291.5L235.4,291.9L235.9,292.0L236.4,292.0L236.9,292.2L237.4,292.1L237.9,292.2L238.4,292.3L238.9,292.0L239.4,292.2L239.9,292.0L240.4,291.5L240.9,291.7L241.4,291.5L241.9,291.4L242.4,291.0L242.9,291.4L243.4,291.2L243.9,291.3L244.4,291.2L244.9,291.3L245.4,291.4L245.9,291.7L246.4,291.8L246.9,291.8L247.4,291.9L247.9,292.2L248.4,292.3L248.9,292.4L249.4,292.0L249.9,292.3L250.4,292.2L250.9,291.3L251.4,290.4L251.9,290.8L252.4,291.6L252.9,290.9L253.4,290.7L253.9,291.4L254.4,292.1L254.9,292.2L255.4,292.1L255.9,292.3L256.4,292.0L256.9,292.2L257.4,292.2L257.9,292.3L258.4,292.3L258.9,292.1L259.4,292.3L259.9,292.4L260.4,292.2" fill="none" stroke="#f6c0b2" stroke-width="0.9" stroke-linejoin="round"/>
<path d="M16.9,298.2L17.4,298.1L17.9,298.4L18.4,298.1L18.9,298.3L19.4,298.2L19.9,298.1L20.4,298.3L20.9,298.1L21.4,298.3L21.9,298.1L22.4,298.1L22.9,298.3L23.4,298.5L23.9,298.1L24.4,298.2L24.9,298.4L25.4,298.5L25.9,298.3L26.4,298.3L26.9,298.5L27.4,298.1L27.9,298.5L28.4,298.2L28.9,298.1L29.4,298.1L29.9,298.2L30.4,298.5L30.9,298.1L31.4,298.3L31.9,298.4L32.4,298.2L32.9,298.3L33.4,298.1L33.9,298.1L34.4,298.2L34.9,298.4L35.4,298.3L35.9,298.2L36.4,298.4L36.9,298.3L37.4,298.2L37.9,298.3L38.4,298.0L38.9,297.2L39.4,297.0L39.9,297.1L40.4,297.9L40.9,298.1L41.4,297.7L41.9,297.5L42.4,296.6L42.9,297.0L43.4,297.8L43.9,297.8L44.4,297.8L44.9,297.2L45.4,297.4L45.9,297.9L46.4,298.2L46.9,298.5L47.4,298.2L47.9,298.4L48.4,298.1L48.9,297.6L49.4,297.6L49.9,298.2L50.4,298.3L50.9,297.6L51.4,297.7L51.9,297.8L52.4,298.2L52.9,297.7L53.4,297.8L53.9,298.2L54.4,298.0L54.9,297.6L55.4,297.6L55.9,297.8L56.4,298.1L56.9,297.5L57.4,297.4L57.9,297.7L58.4,298.3L58.9,297.5L59.4,297.4L59.9,297.9L60.4,298.3L60.9,297.5L61.4,297.5L61.9,297.9L62.4,298.3L62.9,297.9L63.4,297.7L63.9,297.8L64.4,298.1L64.9,297.7L65.4,297.7L65.9,298.1L66.4,298.1L66.9,298.2L67.4,298.2L67.9,298.2L68.4,298.3L68.9,298.4L69.4,298.2L69.9,298.1L70.4,298.3L70.9,298.3L71.4,298.4L71.9,298.5L72.4,298.4L72.9,298.3L73.4,298.4L73.9,298.4L74.4,298.1L74.9,298.5L75.4,298.5L75.9,298.5L76.4,298.5L76.9,298.3L77.4,298.3L77.9,298.1L78.4,298.4L78.9,298.1L79.4,298.1L79.9,298.2L80.4,298.2L80.9,298.2L81.4,298.1L81.9,298.1L82.4,298.2L82.9,298.1L83.4,298.3L83.9,298.1L84.4,298.5L84.9,298.4L85.4,298.2L85.9,298.2L86.4,298.3L86.9,298.3L87.4,298.1L87.9,298.5L88.4,298.6L88.9,298.3L89.4,298.3L89.9,298.1L90.4,298.1L90.9,298.3L91.4,298.2L91.9,298.5L92.4,298.2L92.9,298.1L93.4,298.6L93.9,298.3L94.4,298.2L94.9,298.4L95.4,298.1L95.9,298.3L96.4,298.6L96.9,298.5L97.4,298.4L97.9,298.2L98.4,298.3L98.9,298.2L99.4,298.5L99.9,298.3L100.4,298.4L100.9,298.2L101.4,298.0L101.9,298.2L102.4,298.0L102.9,297.6L103.4,297.2L103.9,296.8L104.4,296.3L104.9,295.7L105.4,295.5L105.9,295.2L106.4,294.5L106.9,293.5L107.4,291.9L107.9,289.3L108.4,286.6L108.9,284.2L109.4,282.7L109.9,283.2L110.4,284.8L110.9,287.0L111.4,288.8L111.9,290.3L112.4,291.4L112.9,292.1L113.4,292.6L113.9,293.4L114.4,294.2L114.9,294.9L115.4,295.4L115.9,296.2L116.4,296.8L116.9,296.9L117.4,297.6L117.9,298.0L118.4,298.1L118.9,298.3L119.4,298.2L119.9,298.1L120.4,298.5L120.9,298.2L121.4,298.5L121.9,298.6L122.4,298.3L122.9,298.3L123.4,298.6L123.9,298.5L124.4,298.2L124.9,298.2L125.4,298.2L125.9,298.5L126.4,298.5L126.9,298.2L127.4,298.5L127.9,298.6L128.4,298.4L128.9,298.3L129.4,298.4L129.9,298.2L130.4,298.1L130.9,298.6L131.4,298.4L131.9,298.4L132.4,298.6L132.9,298.3L133.4,298.5L133.9,298.5L134.4,298.2L134.9,298.2L135.4,298.2L135.9,298.2L136.4,298.4L136.9,298.2L137.4,298.3L137.9,298.2L138.4,298.6L138.9,298.3L139.4,298.3L139.9,298.4L140.4,298.6L140.9,298.3L141.4,298.6L141.9,298.4L142.4,298.4L142.9,298.4L143.4,298.1L143.9,298.3L144.4,298.2L144.9,298.1L145.4,298.5L145.9,298.2L146.4,298.3L146.9,298.5L147.4,298.4L147.9,298.3L148.4,298.4L148.9,298.4L149.4,298.5L149.9,298.2L150.4,298.4L150.9,298.2L151.4,298.2L151.9,298.5L152.4,298.4L152.9,298.4L153.4,298.5L153.9,298.6L154.4,298.3L154.9,298.4L155.4,298.4L155.9,298.4L156.4,298.5L156.9,298.3L157.4,298.4L157.9,298.3L158.4,298.6L158.9,298.5L159.4,298.5L159.9,298.6L160.4,298.1L160.9,297.9L161.4,296.6L161.9,292.6L162.4,284.9L162.9,276.0L163.4,270.1L163.9,269.9L164.4,273.6L164.9,276.1L165.4,276.1L165.9,275.3L166.4,276.5L166.9,279.6L167.4,284.1L167.9,287.2L168.4,288.3L168.9,288.9L169.4,289.0L169.9,289.0L170.4,290.4L170.9,291.6L171.4,293.3L171.9,295.2L172.4,296.4L172.9,296.9L173.4,297.7L173.9,298.0L174.4,298.1L174.9,298.1L175.4,298.2L175.9,298.3L176.4,297.8L176.9,297.9L177.4,297.6L177.9,297.1L178.4,297.0L178.9,297.0L179.4,296.9L179.9,296.6L180.4,297.2L180.9,297.3L181.4,297.5L181.9,297.2L182.4,297.3L182.9,297.1L183.4,297.4L183.9,297.1L184.4,297.0L184.9,297.1L185.4,297.5L185.9,297.6L186.4,297.6L186.9,297.7L187.4,298.3L187.9,298.2L188.4,298.4L188.9,298.1L189.4,298.1L189.9,298.3L190.4,297.7L190.9,296.7L191.4,295.6L191.9,293.9L192.4,293.1L192.9,293.1L193.4,294.9L193.9,296.1L194.4,297.7L194.9,298.1L195.4,298.2L195.9,298.4L196.4,298.6L196.9,298.3L197.4,298.2L197.9,298.4L198.4,298.2L198.9,298.2L199.4,298.2L199.9,298.2L200.4,298.2L200.9,298.3L201.4,298.3L201.9,298.5L202.4,298.3L202.9,298.4L203.4,298.2L203.9,298.3L204.4,298.1L204.9,298.3L205.4,298.1L205.9,298.5L206.4,298.4L206.9,298.2L207.4,298.4L207.9,298.6L208.4,298.2L208.9,298.5L209.4,298.3L209.9,298.4L210.4,298.5L210.9,298.3L211.4,298.4L211.9,298.5L212.4,298.6L212.9,298.3L213.4,298.5L213.9,298.5L214.4,298.4L214.9,298.3L215.4,298.3L215.9,298.2L216.4,298.2L216.9,298.2L217.4,298.5L217.9,298.3L218.4,298.2L218.9,298.2L219.4,298.6L219.9,298.6L220.4,298.5L220.9,298.3L221.4,298.3L221.9,298.3L222.4,298.4L222.9,298.2L223.4,298.4L223.9,298.3L224.4,298.6L224.9,298.6L225.4,298.4L225.9,298.3L226.4,298.6L226.9,298.3L227.4,298.3L227.9,298.1L228.4,298.3L228.9,298.4L229.4,298.4L229.9,298.2L230.4,298.4L230.9,298.0L231.4,298.0L231.9,297.5L232.4,297.1L232.9,296.3L233.4,296.0L233.9,296.2L234.4,296.7L234.9,297.5L235.4,298.0L235.9,298.3L236.4,298.4L236.9,298.5L237.4,298.5L237.9,298.3L238.4,298.2L238.9,298.5L239.4,298.0L239.9,298.2L240.4,298.0L240.9,297.6L241.4,297.8L241.9,297.7L242.4,297.5L242.9,297.5L243.4,297.6L243.9,297.3L244.4,297.6L244.9,297.7L245.4,298.0L245.9,298.2L246.4,298.3L246.9,298.3L247.4,298.5L247.9,298.4L248.4,298.5L248.9,298.2L249.4,298.2L249.9,298.2L250.4,298.3L250.9,297.5L251.4,296.6L251.9,297.1L252.4,298.1L252.9,297.3L253.4,296.7L253.9,297.7L254.4,298.1L254.9,298.5L255.4,298.5L255.9,298.4L256.4,298.4L256.9,298.5L257.4,298.2L257.9,298.5L258.4,298.3L258.9,298.2L259.4,298.3L259.9,298.5L260.4,298.3" fill="none" stroke="#f07a44" stroke-width="0.9" stroke-linejoin="round"/>
<path d="M16.9,318.3L17.4,318.2L17.9,318.3L18.4,318.3L18.9,318.1L19.4,318.2L19.9,318.3L20.4,318.3L20.9,318.2L21.4,318.1L21.9,318.2L22.4,318.3L22.9,318.1L23.4,318.2L23.9,318.3L24.4,318.2L24.9,318.1L25.4,318.2L25.9,318.3L26.4,318.2L26.9,318.2L27.4,318.2L27.9,318.3L28.4,318.2L28.9,318.1L29.4,318.2L29.9,318.1L30.4,318.1L30.9,318.1L31.4,318.3L31.9,318.2L32.4,318.3L32.9,318.1L33.4,318.1L33.9,318.1L34.4,318.3L34.9,318.3L35.4,318.1L35.9,318.1L36.4,318.1L36.9,318.2L37.4,318.2L37.9,318.1L38.4,318.2L38.9,318.2L39.4,318.2L39.9,318.1L40.4,318.2L40.9,318.2L41.4,318.2L41.9,318.1L42.4,318.3L42.9,318.3L43.4,318.3L43.9,318.3L44.4,318.2L44.9,318.2L45.4,318.1L45.9,318.2L46.4,318.2L46.9,318.2L47.4,318.3L47.9,318.3L48.4,318.1L48.9,318.3L49.4,318.1L49.9,318.3L50.4,318.2L50.9,318.3L51.4,318.3L51.9,318.2L52.4,318.3L52.9,318.1L53.4,318.3L53.9,318.1L54.4,318.2L54.9,318.2L55.4,318.1L55.9,318.3L56.4,318.1L56.9,318.2L57.4,318.1L57.9,318.3L58.4,318.2L58.9,318.1L59.4,318.1L59.9,318.2L60.4,318.2L60.9,318.1L61.4,318.1L61.9,318.3L62.4,318.2L62.9,318.1L63.4,318.2L63.9,318.1L64.4,318.2L64.9,318.2L65.4,318.2L65.9,318.1L66.4,318.2L66.9,318.2L67.4,318.2L67.9,318.3L68.4,318.3L68.9,318.2L69.4,318.1L69.9,318.1L70.4,318.3L70.9,318.2L71.4,318.3L71.9,318.3L72.4,318.2L72.9,318.2L73.4,318.2L73.9,318.3L74.4,318.1L74.9,318.2L75.4,318.3L75.9,318.2L76.4,318.3L76.9,318.2L77.4,318.3L77.9,318.2L78.4,318.1L78.9,318.2L79.4,318.2L79.9,318.3L80.4,318.3L80.9,318.2L81.4,318.3L81.9,318.2L82.4,318.3L82.9,318.3L83.4,318.2L83.9,318.2L84.4,318.3L84.9,318.1L85.4,318.3L85.9,318.1L86.4,318.3L86.9,318.3L87.4,318.2L87.9,318.3L88.4,318.2L88.9,318.2L89.4,318.2L89.9,318.1L90.4,318.3L90.9,318.3L91.4,318.2L91.9,318.3L92.4,318.2L92.9,318.2L93.4,318.3L93.9,318.3L94.4,318.1L94.9,318.3L95.4,318.2L95.9,318.3L96.4,318.2L96.9,318.4L97.4,318.2L97.9,318.2L98.4,318.1L98.9,318.1L99.4,318.1L99.9,318.3L100.4,318.1L100.9,318.0L101.4,318.0L101.9,317.8L102.4,317.7L102.9,317.2L103.4,316.9L103.9,316.3L104.4,315.8L104.9,315.4L105.4,315.2L105.9,314.8L106.4,314.3L106.9,313.2L107.4,311.3L107.9,308.5L108.4,305.2L108.9,302.6L109.4,301.2L109.9,301.4L110.4,303.2L110.9,305.5L111.4,307.9L111.9,309.6L112.4,310.7L112.9,311.6L113.4,312.3L113.9,312.8L114.4,313.5L114.9,314.4L115.4,315.2L115.9,315.8L116.4,316.4L116.9,317.0L117.4,317.4L117.9,317.7L118.4,317.9L118.9,318.1L119.4,318.2L119.9,318.2L120.4,318.2L120.9,318.2L121.4,318.2L121.9,318.2L122.4,318.2L122.9,318.2L123.4,318.2L123.9,318.3L124.4,318.2L124.9,318.3L125.4,318.3L125.9,318.3L126.4,318.3L126.9,318.2L127.4,318.2L127.9,318.4L128.4,318.3L128.9,318.1L129.4,318.2L129.9,318.1L130.4,318.2L130.9,318.1L131.4,318.1L131.9,318.1L132.4,318.2L132.9,318.3L133.4,318.2L133.9,318.3L134.4,318.3L134.9,318.2L135.4,318.3L135.9,318.2L136.4,318.2L136.9,318.4L137.4,318.2L137.9,318.3L138.4,318.3L138.9,318.2L139.4,318.2L139.9,318.2L140.4,318.2L140.9,318.2L141.4,318.2L141.9,318.1L142.4,318.3L142.9,318.3L143.4,318.3L143.9,318.2L144.4,318.2L144.9,318.3L145.4,318.3L145.9,318.3L146.4,318.3L146.9,318.2L147.4,318.2L147.9,318.2L148.4,318.2L148.9,318.2L149.4,318.2L149.9,318.3L150.4,318.2L150.9,318.3L151.4,318.3L151.9,318.2L152.4,318.2L152.9,318.2L153.4,318.2L153.9,318.4L154.4,318.3L154.9,318.2L155.4,318.2L155.9,318.3L156.4,318.3L156.9,318.1L157.4,318.3L157.9,318.3L158.4,318.3L158.9,318.2L159.4,318.2L159.9,318.3L160.4,318.3L160.9,318.2L161.4,318.4L161.9,318.1L162.4,318.3L162.9,318.3L163.4,318.3L163.9,318.2L164.4,318.3L164.9,318.3L165.4,318.3L165.9,318.2L166.4,318.4L166.9,318.4L167.4,318.2L167.9,318.3L168.4,318.3L168.9,318.2L169.4,318.2L169.9,318.2L170.4,318.3L170.9,318.3L171.4,318.3L171.9,318.3L172.4,318.2L172.9,318.4L173.4,318.3L173.9,318.2L174.4,318.2L174.9,318.3L175.4,318.3L175.9,318.4L176.4,318.4L176.9,318.2L177.4,318.4L177.9,318.1L178.4,318.3L178.9,318.3L179.4,318.2L179.9,318.2L180.4,318.2L180.9,318.3L181.4,318.3L181.9,318.1L182.4,318.3L182.9,318.2L183.4,318.4L183.9,318.3L184.4,318.3L184.9,318.2L185.4,318.4L185.9,318.3L186.4,318.3L186.9,318.3L187.4,318.3L187.9,318.2L188.4,318.2L188.9,318.2L189.4,318.3L189.9,318.2L190.4,318.2L190.9,318.2L191.4,318.3L191.9,318.2L192.4,318.2L192.9,318.2L193.4,318.4L193.9,318.4L194.4,318.4L194.9,318.3L195.4,318.2L195.9,318.2L196.4,318.2L196.9,318.3L197.4,318.3L197.9,318.2L198.4,318.4L198.9,318.4L199.4,318.2L199.9,318.2L200.4,318.3L200.9,318.3L201.4,318.4L201.9,318.2L202.4,318.4L202.9,318.2L203.4,318.2L203.9,318.4L204.4,318.3L204.9,318.3L205.4,318.2L205.9,318.4L206.4,318.2L206.9,318.3L207.4,318.4L207.9,318.2L208.4,318.2L208.9,318.3L209.4,318.3L209.9,318.4L210.4,318.4L210.9,318.2L211.4,318.3L211.9,318.2L212.4,318.3L212.9,318.3L213.4,318.2L213.9,318.2L214.4,318.3L214.9,318.3L215.4,318.2L215.9,318.2L216.4,318.2L216.9,318.2L217.4,318.4L217.9,318.3L218.4,318.3L218.9,318.4L219.4,318.2L219.9,318.4L220.4,318.4L220.9,318.3L221.4,318.3L221.9,318.2L222.4,318.3L222.9,318.2L223.4,318.3L223.9,318.4L224.4,318.4L224.9,318.3L225.4,318.4L225.9,318.3L226.4,318.2L226.9,318.2L227.4,318.2L227.9,318.3L228.4,318.2L228.9,318.2L229.4,318.2L229.9,318.2L230.4,318.3L230.9,318.4L231.4,318.3L231.9,318.4L232.4,318.2L232.9,318.2L233.4,318.3L233.9,318.2L234.4,318.3L234.9,318.2L235.4,318.2L235.9,318.4L236.4,318.2L236.9,318.2L237.4,318.2L237.9,318.1L238.4,318.0L238.9,318.1L239.4,318.0L239.9,317.9L240.4,317.7L240.9,317.5L241.4,317.4L241.9,317.4L242.4,317.3L242.9,317.3L243.4,317.4L243.9,317.5L244.4,317.4L244.9,317.5L245.4,317.6L245.9,317.9L246.4,318.0L246.9,318.1L247.4,318.1L247.9,318.2L248.4,318.3L248.9,318.2L249.4,318.3L249.9,318.4L250.4,318.3L250.9,318.3L251.4,318.2L251.9,318.2L252.4,318.4L252.9,318.3L253.4,318.3L253.9,318.4L254.4,318.4L254.9,318.3L255.4,318.2L255.9,318.4L256.4,318.2L256.9,318.2L257.4,318.2L257.9,318.3L258.4,318.3L258.9,318.2L259.4,318.2L259.9,318.3L260.4,318.3" fill="none" stroke="#bcd2e6" stroke-width="0.8" stroke-linejoin="round"/>
<path d="M16.9,325.5L17.4,325.6L17.9,325.6L18.4,325.6L18.9,325.5L19.4,325.7L19.9,325.7L20.4,325.6L20.9,325.6L21.4,325.5L21.9,325.5L22.4,325.6L22.9,325.6L23.4,325.5L23.9,325.7L24.4,325.5L24.9,325.5L25.4,325.5L25.9,325.7L26.4,325.7L26.9,325.7L27.4,325.6L27.9,325.5L28.4,325.6L28.9,325.6L29.4,325.5L29.9,325.7L30.4,325.6L30.9,325.5L31.4,325.7L31.9,325.5L32.4,325.7L32.9,325.6L33.4,325.6L33.9,325.6L34.4,325.6L34.9,325.5L35.4,325.5L35.9,325.7L36.4,325.5L36.9,325.7L37.4,325.5L37.9,325.7L38.4,325.7L38.9,325.7L39.4,325.7L39.9,325.6L40.4,325.7L40.9,325.5L41.4,325.6L41.9,325.7L42.4,325.5L42.9,325.7L43.4,325.7L43.9,325.6L44.4,325.6L44.9,325.6L45.4,325.6L45.9,325.7L46.4,325.6L46.9,325.5L47.4,325.5L47.9,325.7L48.4,325.7L48.9,325.6L49.4,325.6L49.9,325.6L50.4,325.7L50.9,325.5L51.4,325.6L51.9,325.6L52.4,325.6L52.9,325.5L53.4,325.5L53.9,325.6L54.4,325.7L54.9,325.6L55.4,325.6L55.9,325.6L56.4,325.5L56.9,325.5L57.4,325.7L57.9,325.7L58.4,325.6L58.9,325.7L59.4,325.7L59.9,325.7L60.4,325.7L60.9,325.6L61.4,325.7L61.9,325.7L62.4,325.6L62.9,325.7L63.4,325.6L63.9,325.6L64.4,325.6L64.9,325.7L65.4,325.5L65.9,325.5L66.4,325.7L66.9,325.7L67.4,325.6L67.9,325.7L68.4,325.5L68.9,325.6L69.4,325.6L69.9,325.6L70.4,325.5L70.9,325.5L71.4,325.6L71.9,325.7L72.4,325.7L72.9,325.7L73.4,325.6L73.9,325.6L74.4,325.7L74.9,325.6L75.4,325.7L75.9,325.5L76.4,325.6L76.9,325.7L77.4,325.7L77.9,325.7L78.4,325.6L78.9,325.6L79.4,325.6L79.9,325.7L80.4,325.6L80.9,325.6L81.4,325.6L81.9,325.7L82.4,325.5L82.9,325.7L83.4,325.7L83.9,325.5L84.4,325.7L84.9,325.7L85.4,325.7L85.9,325.6L86.4,325.6L86.9,325.6L87.4,325.7L87.9,325.7L88.4,325.5L88.9,325.5L89.4,325.5L89.9,325.5L90.4,325.6L90.9,325.5L91.4,325.7L91.9,325.7L92.4,325.5L92.9,325.6L93.4,325.6L93.9,325.6L94.4,325.6L94.9,325.6L95.4,325.6L95.9,325.6L96.4,325.7L96.9,325.6L97.4,325.5L97.9,325.7L98.4,325.7L98.9,325.7L99.4,325.7L99.9,325.5L100.4,325.6L100.9,325.4L101.4,325.5L101.9,325.2L102.4,325.1L102.9,324.7L103.4,324.3L103.9,323.8L104.4,323.2L104.9,322.9L105.4,322.6L105.9,322.4L106.4,321.8L106.9,320.8L107.4,318.9L107.9,316.3L108.4,313.0L108.9,310.4L109.4,309.0L109.9,309.4L110.4,311.1L110.9,313.3L111.4,315.6L111.9,317.3L112.4,318.4L112.9,319.0L113.4,319.8L113.9,320.5L114.4,321.0L114.9,321.8L115.4,322.7L115.9,323.2L116.4,323.8L116.9,324.3L117.4,324.9L117.9,325.1L118.4,325.3L118.9,325.5L119.4,325.4L119.9,325.6L120.4,325.6L120.9,325.6L121.4,325.6L121.9,325.6L122.4,325.6L122.9,325.5L123.4,325.6L123.9,325.6L124.4,325.7L124.9,325.7L125.4,325.7L125.9,325.6L126.4,325.6L126.9,325.6L127.4,325.6L127.9,325.7L128.4,325.8L128.9,325.5L129.4,325.6L129.9,325.6L130.4,325.7L130.9,325.7L131.4,325.7L131.9,325.7L132.4,325.7L132.9,325.7L133.4,325.7L133.9,325.7L134.4,325.7L134.9,325.6L135.4,325.7L135.9,325.6L136.4,325.7L136.9,325.7L137.4,325.8L137.9,325.8L138.4,325.5L138.9,325.6L139.4,325.6L139.9,325.6L140.4,325.6L140.9,325.7L141.4,325.6L141.9,325.6L142.4,325.8L142.9,325.7L143.4,325.6L143.9,325.6L144.4,325.8L144.9,325.7L145.4,325.6L145.9,325.6L146.4,325.7L146.9,325.7L147.4,325.6L147.9,325.8L148.4,325.6L148.9,325.6L149.4,325.7L149.9,325.6L150.4,325.7L150.9,325.6L151.4,325.7L151.9,325.6L152.4,325.6L152.9,325.8L153.4,325.6L153.9,325.6L154.4,325.7L154.9,325.6L155.4,325.6L155.9,325.6L156.4,325.6L156.9,325.6L157.4,325.8L157.9,325.5L158.4,325.7L158.9,325.8L159.4,325.7L159.9,325.5L160.4,325.7L160.9,325.5L161.4,325.7L161.9,325.7L162.4,325.6L162.9,325.5L163.4,325.7L163.9,325.6L164.4,325.6L164.9,325.6L165.4,325.8L165.9,325.6L166.4,325.6L166.9,325.7L167.4,325.7L167.9,325.7L168.4,325.6L168.9,325.6L169.4,325.6L169.9,325.7L170.4,325.6L170.9,325.7L171.4,325.7L171.9,325.8L172.4,325.8L172.9,325.5L173.4,325.7L173.9,325.6L174.4,325.8L174.9,325.7L175.4,325.7L175.9,325.6L176.4,325.6L176.9,325.7L177.4,325.7L177.9,325.7L178.4,325.7L178.9,325.7L179.4,325.6L179.9,325.6L180.4,325.6L180.9,325.6L181.4,325.7L181.9,325.8L182.4,325.6L182.9,325.6L183.4,325.7L183.9,325.7L184.4,325.6L184.9,325.6L185.4,325.6L185.9,325.6L186.4,325.7L186.9,325.7L187.4,325.7L187.9,325.6L188.4,325.6L188.9,325.8L189.4,325.7L189.9,325.6L190.4,325.7L190.9,325.7L191.4,325.7L191.9,325.6L192.4,325.8L192.9,325.6L193.4,325.6L193.9,325.6L194.4,325.7L194.9,325.7L195.4,325.6L195.9,325.7L196.4,325.7L196.9,325.6L197.4,325.8L197.9,325.7L198.4,325.8L198.9,325.7L199.4,325.6L199.9,325.7L200.4,325.8L200.9,325.7L201.4,325.8L201.9,325.8L202.4,325.6L202.9,325.8L203.4,325.8L203.9,325.7L204.4,325.6L204.9,325.6L205.4,325.7L205.9,325.7L206.4,325.7L206.9,325.7L207.4,325.6L207.9,325.8L208.4,325.7L208.9,325.8L209.4,325.6L209.9,325.8L210.4,325.7L210.9,325.7L211.4,325.7L211.9,325.8L212.4,325.6L212.9,325.6L213.4,325.7L213.9,325.6L214.4,325.7L214.9,325.8L215.4,325.6L215.9,325.6L216.4,325.6L216.9,325.7L217.4,325.7L217.9,325.6L218.4,325.7L218.9,325.6L219.4,325.6L219.9,325.8L220.4,325.7L220.9,325.8L221.4,325.7L221.9,325.6L222.4,325.6L222.9,325.7L223.4,325.7L223.9,325.7L224.4,325.7L224.9,325.7L225.4,325.6L225.9,325.7L226.4,325.7L226.9,325.7L227.4,325.6L227.9,325.7L228.4,325.7L228.9,325.6L229.4,325.8L229.9,325.7L230.4,325.8L230.9,325.7L231.4,325.7L231.9,325.8L232.4,325.7L232.9,325.7L233.4,325.6L233.9,325.7L234.4,325.7L234.9,325.7L235.4,325.8L235.9,325.6L236.4,325.6L236.9,325.7L237.4,325.7L237.9,325.6L238.4,325.4L238.9,325.4L239.4,325.4L239.9,325.2L240.4,325.1L240.9,325.0L241.4,324.9L241.9,324.8L242.4,324.8L242.9,324.8L243.4,324.8L243.9,324.7L244.4,324.8L244.9,325.0L245.4,325.1L245.9,325.3L246.4,325.2L246.9,325.5L247.4,325.6L247.9,325.5L248.4,325.6L248.9,325.7L249.4,325.6L249.9,325.8L250.4,325.6L250.9,325.7L251.4,325.6L251.9,325.6L252.4,325.6L252.9,325.7L253.4,325.7L253.9,325.6L254.4,325.7L254.9,325.7L255.4,325.7L255.9,325.7L256.4,325.6L256.9,325.6L257.4,325.6L257.9,325.7L258.4,325.7L258.9,325.6L259.4,325.8L259.9,325.7L260.4,325.6" fill="none" stroke="#a8e2e2" stroke-width="0.8" stroke-linejoin="round"/>
<path d="M16.9,333.4L17.4,333.2L17.9,333.2L18.4,333.4L18.9,333.2L19.4,333.2L19.9,333.3L20.4,333.3L20.9,333.4L21.4,333.2L21.9,333.4L22.4,333.3L22.9,333.3L23.4,333.4L23.9,333.3L24.4,333.4L24.9,333.4L25.4,333.2L25.9,333.4L26.4,333.3L26.9,333.3L27.4,333.2L27.9,333.4L28.4,333.3L28.9,333.4L29.4,333.4L29.9,333.4L30.4,333.3L30.9,333.4L31.4,333.3L31.9,333.2L32.4,333.4L32.9,333.3L33.4,333.4L33.9,333.4L34.4,333.3L34.9,333.2L35.4,333.4L35.9,333.3L36.4,333.2L36.9,333.2L37.4,333.3L37.9,333.2L38.4,333.4L38.9,333.3L39.4,333.3L39.9,333.3L40.4,333.3L40.9,333.4L41.4,333.3L41.9,333.3L42.4,333.3L42.9,333.3L43.4,333.3L43.9,333.3L44.4,333.3L44.9,333.4L45.4,333.3L45.9,333.2L46.4,333.4L46.9,333.3L47.4,333.3L47.9,333.3L48.4,333.4L48.9,333.4L49.4,333.3L49.9,333.3L50.4,333.2L50.9,333.4L51.4,333.2L51.9,333.3L52.4,333.3L52.9,333.3L53.4,333.3L53.9,333.2L54.4,333.2L54.9,333.3L55.4,333.4L55.9,333.4L56.4,333.2L56.9,333.4L57.4,333.2L57.9,333.3L58.4,333.4L58.9,333.4L59.4,333.3L59.9,333.4L60.4,333.3L60.9,333.3L61.4,333.3L61.9,333.4L62.4,333.4L62.9,333.3L63.4,333.4L63.9,333.4L64.4,333.3L64.9,333.4L65.4,333.4L65.9,333.3L66.4,333.4L66.9,333.2L67.4,333.3L67.9,333.4L68.4,333.3L68.9,333.2L69.4,333.4L69.9,333.3L70.4,333.3L70.9,333.2L71.4,333.4L71.9,333.3L72.4,333.2L72.9,333.3L73.4,333.3L73.9,333.4L74.4,333.2L74.9,333.3L75.4,333.2L75.9,333.3L76.4,333.3L76.9,333.3L77.4,333.4L77.9,333.4L78.4,333.4L78.9,333.2L79.4,333.3L79.9,333.4L80.4,333.2L80.9,333.3L81.4,333.3L81.9,333.3L82.4,333.4L82.9,333.4L83.4,333.3L83.9,333.3L84.4,333.3L84.9,333.3L85.4,333.2L85.9,333.4L86.4,333.2L86.9,333.4L87.4,333.4L87.9,333.2L88.4,333.3L88.9,333.4L89.4,333.2L89.9,333.3L90.4,333.2L90.9,333.4L91.4,333.2L91.9,333.4L92.4,333.4L92.9,333.4L93.4,333.3L93.9,333.3L94.4,333.2L94.9,333.3L95.4,333.4L95.9,333.4L96.4,333.2L96.9,333.3L97.4,333.4L97.9,333.3L98.4,333.4L98.9,333.4L99.4,333.3L99.9,333.3L100.4,333.4L100.9,333.2L101.4,333.1L101.9,332.9L102.4,332.7L102.9,332.5L103.4,332.0L103.9,331.6L104.4,331.2L104.9,330.9L105.4,330.4L105.9,330.1L106.4,329.7L106.9,328.7L107.4,326.8L107.9,324.2L108.4,321.1L108.9,318.5L109.4,317.1L109.9,317.5L110.4,319.1L110.9,321.4L111.4,323.7L111.9,325.1L112.4,326.3L112.9,327.1L113.4,327.6L113.9,328.2L114.4,329.0L114.9,329.5L115.4,330.5L115.9,331.1L116.4,331.7L116.9,332.2L117.4,332.4L117.9,332.7L118.4,332.9L118.9,333.1L119.4,333.3L119.9,333.4L120.4,333.3L120.9,333.4L121.4,333.4L121.9,333.3L122.4,333.5L122.9,333.4L123.4,333.4L123.9,333.4L124.4,333.4L124.9,333.4L125.4,333.3L125.9,333.3L126.4,333.3L126.9,333.2L127.4,333.4L127.9,333.3L128.4,333.2L128.9,333.3L129.4,333.3L129.9,333.3L130.4,333.3L130.9,333.3L131.4,333.3L131.9,333.3L132.4,333.3L132.9,333.4L133.4,333.3L133.9,333.4L134.4,333.4L134.9,333.5L135.4,333.3L135.9,333.2L136.4,333.5L136.9,333.4L137.4,333.3L137.9,333.3L138.4,333.3L138.9,333.3L139.4,333.3L139.9,333.2L140.4,333.5L140.9,333.4L141.4,333.3L141.9,333.3L142.4,333.4L142.9,333.4L143.4,333.2L143.9,333.3L144.4,333.3L144.9,333.5L145.4,333.4L145.9,333.3L146.4,333.4L146.9,333.2L147.4,333.4L147.9,333.4L148.4,333.4L148.9,333.3L149.4,333.3L149.9,333.2L150.4,333.3L150.9,333.3L151.4,333.3L151.9,333.4L152.4,333.3L152.9,333.3L153.4,333.4L153.9,333.4L154.4,333.2L154.9,333.5L155.4,333.4L155.9,333.3L156.4,333.3L156.9,333.4L157.4,333.5L157.9,333.3L158.4,333.3L158.9,333.4L159.4,333.3L159.9,333.3L160.4,333.5L160.9,333.4L161.4,333.4L161.9,333.3L162.4,333.4L162.9,333.4L163.4,333.3L163.9,333.4L164.4,333.4L164.9,333.4L165.4,333.4L165.9,333.3L166.4,333.4L166.9,333.3L167.4,333.4L167.9,333.3L168.4,333.5L168.9,333.4L169.4,333.3L169.9,333.3L170.4,333.3L170.9,333.4L171.4,333.3L171.9,333.4L172.4,333.3L172.9,333.4L173.4,333.3L173.9,333.4L174.4,333.4L174.9,333.3L175.4,333.3L175.9,333.3L176.4,333.4L176.9,333.3L177.4,333.2L177.9,333.4L178.4,333.4L178.9,333.3L179.4,333.5L179.9,333.4L180.4,333.3L180.9,333.3L181.4,333.3L181.9,333.4L182.4,333.3L182.9,333.3L183.4,333.4L183.9,333.3L184.4,333.4L184.9,333.4L185.4,333.4L185.9,333.4L186.4,333.3L186.9,333.3L187.4,333.5L187.9,333.3L188.4,333.3L188.9,333.3L189.4,333.4L189.9,333.4L190.4,333.5L190.9,333.4L191.4,333.3L191.9,333.4L192.4,333.4L192.9,333.3L193.4,333.4L193.9,333.4L194.4,333.3L194.9,333.3L195.4,333.4L195.9,333.3L196.4,333.5L196.9,333.5L197.4,333.4L197.9,333.5L198.4,333.4L198.9,333.4L199.4,333.3L199.9,333.5L200.4,333.5L200.9,333.4L201.4,333.3L201.9,333.3L202.4,333.4L202.9,333.5L203.4,333.3L203.9,333.3L204.4,333.4L204.9,333.4L205.4,333.3L205.9,333.3L206.4,333.4L206.9,333.3L207.4,333.5L207.9,333.3L208.4,333.5L208.9,333.4L209.4,333.3L209.9,333.3L210.4,333.3L210.9,333.3L211.4,333.4L211.9,333.5L212.4,333.4L212.9,333.3L213.4,333.4L213.9,333.4L214.4,333.3L214.9,333.3L215.4,333.4L215.9,333.3L216.4,333.3L216.9,333.4L217.4,333.3L217.9,333.5L218.4,333.3L218.9,333.5L219.4,333.4L219.9,333.3L220.4,333.5L220.9,333.5L221.4,333.4L221.9,333.5L222.4,333.4L222.9,333.3L223.4,333.3L223.9,333.3L224.4,333.5L224.9,333.5L225.4,333.3L225.9,333.3L226.4,333.3L226.9,333.3L227.4,333.4L227.9,333.4L228.4,333.3L228.9,333.4L229.4,333.3L229.9,333.5L230.4,333.4L230.9,333.4L231.4,333.5L231.9,333.4L232.4,333.3L232.9,333.3L233.4,333.3L233.9,333.3L234.4,333.4L234.9,333.3L235.4,333.4L235.9,333.3L236.4,333.3L236.9,333.3L237.4,333.3L237.9,333.4L238.4,333.1L238.9,333.1L239.4,333.0L239.9,332.9L240.4,332.9L240.9,332.8L241.4,332.5L241.9,332.4L242.4,332.4L242.9,332.4L243.4,332.3L243.9,332.4L244.4,332.6L244.9,332.5L245.4,332.8L245.9,332.9L246.4,333.1L246.9,333.1L247.4,333.2L247.9,333.3L248.4,333.2L248.9,333.3L249.4,333.3L249.9,333.3L250.4,333.3L250.9,333.3L251.4,333.3L251.9,333.4L252.4,333.3L252.9,333.4L253.4,333.4L253.9,333.3L254.4,333.3L254.9,333.4L255.4,333.4L255.9,333.4L256.4,333.4L256.9,333.4L257.4,333.3L257.9,333.4L258.4,333.5L258.9,333.4L259.4,333.3L259.9,333.4L260.4,333.5" fill="none" stroke="#66c6b4" stroke-width="0.8" stroke-linejoin="round"/>
<path d="M16.9,340.6L17.4,340.6L17.9,340.6L18.4,340.4L18.9,340.5L19.4,340.5L19.9,340.5L20.4,340.4L20.9,340.4L21.4,340.5L21.9,340.4L22.4,340.5L22.9,340.4L23.4,340.4L23.9,340.6L24.4,340.5L24.9,340.5L25.4,340.6L25.9,340.5L26.4,340.4L26.9,340.6L27.4,340.5L27.9,340.5L28.4,340.5L28.9,340.6L29.4,340.5L29.9,340.6L30.4,340.5L30.9,340.5L31.4,340.5L31.9,340.5L32.4,340.4L32.9,340.5L33.4,340.6L33.9,340.5L34.4,340.5L34.9,340.5L35.4,340.4L35.9,340.4L36.4,340.5L36.9,340.6L37.4,340.4L37.9,340.4L38.4,340.4L38.9,340.4L39.4,340.5L39.9,340.5L40.4,340.6L40.9,340.5L41.4,340.5L41.9,340.5L42.4,340.5L42.9,340.6L43.4,340.5L43.9,340.5L44.4,340.4L44.9,340.6L45.4,340.6L45.9,340.6L46.4,340.4L46.9,340.5L47.4,340.6L47.9,340.5L48.4,340.6L48.9,340.4L49.4,340.6L49.9,340.4L50.4,340.5L50.9,340.4L51.4,340.6L51.9,340.6L52.4,340.6L52.9,340.6L53.4,340.6L53.9,340.5L54.4,340.6L54.9,340.6L55.4,340.5L55.9,340.6L56.4,340.5L56.9,340.4L57.4,340.4L57.9,340.5L58.4,340.4L58.9,340.6L59.4,340.6L59.9,340.4L60.4,340.4L60.9,340.5L61.4,340.4L61.9,340.5L62.4,340.6L62.9,340.5L63.4,340.5L63.9,340.6L64.4,340.5L64.9,340.5L65.4,340.6L65.9,340.6L66.4,340.6L66.9,340.6L67.4,340.5L67.9,340.6L68.4,340.6L68.9,340.6L69.4,340.5L69.9,340.5L70.4,340.5L70.9,340.6L71.4,340.5L71.9,340.5L72.4,340.6L72.9,340.4L73.4,340.6L73.9,340.5L74.4,340.5L74.9,340.6L75.4,340.5L75.9,340.6L76.4,340.4L76.9,340.5L77.4,340.5L77.9,340.5L78.4,340.5L78.9,340.5L79.4,340.5L79.9,340.6L80.4,340.4L80.9,340.5L81.4,340.6L81.9,340.4L82.4,340.6L82.9,340.5L83.4,340.6L83.9,340.4L84.4,340.5L84.9,340.5L85.4,340.4L85.9,340.6L86.4,340.5L86.9,340.6L87.4,340.5L87.9,340.5L88.4,340.5L88.9,340.5L89.4,340.6L89.9,340.4L90.4,340.6L90.9,340.6L91.4,340.5L91.9,340.6L92.4,340.6L92.9,340.6L93.4,340.5L93.9,340.5L94.4,340.5L94.9,340.5L95.4,340.6L95.9,340.5L96.4,340.5L96.9,340.5L97.4,340.6L97.9,340.5L98.4,340.5L98.9,340.5L99.4,340.5L99.9,340.4L100.4,340.4L100.9,340.4L101.4,340.4L101.9,340.2L102.4,339.9L102.9,339.7L103.4,339.2L103.9,338.8L104.4,338.4L104.9,338.1L105.4,337.7L105.9,337.5L106.4,336.9L106.9,336.1L107.4,334.2L107.9,331.5L108.4,328.8L108.9,326.1L109.4,324.9L109.9,325.1L110.4,326.8L110.9,328.9L111.4,331.1L111.9,332.7L112.4,333.8L112.9,334.4L113.4,334.9L113.9,335.7L114.4,336.3L114.9,336.9L115.4,337.8L115.9,338.4L116.4,338.8L116.9,339.2L117.4,339.8L117.9,339.9L118.4,340.3L118.9,340.3L119.4,340.5L119.9,340.5L120.4,340.6L120.9,340.6L121.4,340.6L121.9,340.6L122.4,340.5L122.9,340.5L123.4,340.4L123.9,340.6L124.4,340.5L124.9,340.5L125.4,340.5L125.9,340.6L126.4,340.6L126.9,340.6L127.4,340.5L127.9,340.5L128.4,340.6L128.9,340.6L129.4,340.6L129.9,340.5L130.4,340.6L130.9,340.7L131.4,340.7L131.9,340.5L132.4,340.5L132.9,340.6L133.4,340.6L133.9,340.4L134.4,340.5L134.9,340.6L135.4,340.6L135.9,340.6L136.4,340.5L136.9,340.5L137.4,340.4L137.9,340.5L138.4,340.5L138.9,340.6L139.4,340.6L139.9,340.5L140.4,340.5L140.9,340.5L141.4,340.6L141.9,340.5L142.4,340.5L142.9,340.6L143.4,340.6L143.9,340.7L144.4,340.6L144.9,340.6L145.4,340.5L145.9,340.6L146.4,340.7L146.9,340.7L147.4,340.6L147.9,340.5L148.4,340.4L148.9,340.6L149.4,340.5L149.9,340.5L150.4,340.4L150.9,340.4L151.4,340.5L151.9,340.7L152.4,340.6L152.9,340.6L153.4,340.6L153.9,340.5L154.4,340.5L154.9,340.6L155.4,340.5L155.9,340.6L156.4,340.6L156.9,340.6L157.4,340.5L157.9,340.5L158.4,340.6L158.9,340.5L159.4,340.6L159.9,340.5L160.4,340.6L160.9,340.6L161.4,340.6L161.9,340.6L162.4,340.5L162.9,340.5L163.4,340.7L163.9,340.5L164.4,340.5L164.9,340.6L165.4,340.6L165.9,340.6L166.4,340.5L166.9,340.7L167.4,340.4L167.9,340.6L168.4,340.6L168.9,340.7L169.4,340.5L169.9,340.6L170.4,340.7L170.9,340.6L171.4,340.5L171.9,340.7L172.4,340.7L172.9,340.5L173.4,340.6L173.9,340.5L174.4,340.5L174.9,340.6L175.4,340.6L175.9,340.7L176.4,340.6L176.9,340.6L177.4,340.5L177.9,340.6L178.4,340.7L178.9,340.6L179.4,340.7L179.9,340.5L180.4,340.6L180.9,340.6L181.4,340.5L181.9,340.6L182.4,340.5L182.9,340.5L183.4,340.5L183.9,340.6L184.4,340.5L184.9,340.7L185.4,340.4L185.9,340.6L186.4,340.6L186.9,340.6L187.4,340.6L187.9,340.6L188.4,340.6L188.9,340.5L189.4,340.6L189.9,340.5L190.4,340.6L190.9,340.6L191.4,340.7L191.9,340.6L192.4,340.7L192.9,340.5L193.4,340.5L193.9,340.6L194.4,340.6L194.9,340.7L195.4,340.5L195.9,340.6L196.4,340.6L196.9,340.5L197.4,340.5L197.9,340.6L198.4,340.7L198.9,340.6L199.4,340.6L199.9,340.6L200.4,340.6L200.9,340.6L201.4,340.6L201.9,340.6L202.4,340.7L202.9,340.6L203.4,340.7L203.9,340.5L204.4,340.6L204.9,340.7L205.4,340.6L205.9,340.7L206.4,340.7L206.9,340.5L207.4,340.6L207.9,340.5L208.4,340.5L208.9,340.6L209.4,340.7L209.9,340.6L210.4,340.5L210.9,340.5L211.4,340.5L211.9,340.7L212.4,340.6L212.9,340.5L213.4,340.6L213.9,340.5L214.4,340.5L214.9,340.6L215.4,340.7L215.9,340.6L216.4,340.6L216.9,340.5L217.4,340.6L217.9,340.6L218.4,340.6L218.9,340.6L219.4,340.5L219.9,340.7L220.4,340.5L220.9,340.6L221.4,340.6L221.9,340.7L222.4,340.5L222.9,340.5L223.4,340.6L223.9,340.6L224.4,340.7L224.9,340.6L225.4,340.6L225.9,340.6L226.4,340.6L226.9,340.5L227.4,340.7L227.9,340.7L228.4,340.5L228.9,340.7L229.4,340.7L229.9,340.6L230.4,340.5L230.9,340.6L231.4,340.7L231.9,340.6L232.4,340.7L232.9,340.7L233.4,340.6L233.9,340.7L234.4,340.5L234.9,340.5L235.4,340.6L235.9,340.6L236.4,340.7L236.9,340.6L237.4,340.5L237.9,340.5L238.4,340.5L238.9,340.3L239.4,340.3L239.9,340.2L240.4,340.0L240.9,339.9L241.4,339.7L241.9,339.6L242.4,339.6L242.9,339.5L243.4,339.5L243.9,339.7L244.4,339.7L244.9,340.0L245.4,340.0L245.9,340.1L246.4,340.3L246.9,340.3L247.4,340.3L247.9,340.5L248.4,340.4L248.9,340.7L249.4,340.5L249.9,340.7L250.4,340.5L250.9,340.5L251.4,340.6L251.9,340.6L252.4,340.5L252.9,340.7L253.4,340.7L253.9,340.6L254.4,340.7L254.9,340.7L255.4,340.5L255.9,340.7L256.4,340.7L256.9,340.7L257.4,340.6L257.9,340.6L258.4,340.6L258.9,340.7L259.4,340.5L259.9,340.6L260.4,340.6" fill="none" stroke="#4cc0b8" stroke-width="0.8" stroke-linejoin="round"/>
<path d="M16.9,348.2L17.4,348.2L17.9,348.0L18.4,348.2L18.9,348.0L19.4,348.1L19.9,348.0L20.4,348.2L20.9,348.0L21.4,348.2L21.9,348.2L22.4,348.2L22.9,348.1L23.4,348.2L23.9,348.2L24.4,348.0L24.9,348.1L25.4,348.2L25.9,348.2L26.4,348.1L26.9,348.1L27.4,348.2L27.9,348.0L28.4,348.2L28.9,348.2L29.4,348.0L29.9,348.1L30.4,348.1L30.9,348.1L31.4,348.1L31.9,348.2L32.4,348.2L32.9,348.1L33.4,348.2L33.9,348.0L34.4,348.0L34.9,348.1L35.4,348.2L35.9,348.2L36.4,348.2L36.9,348.2L37.4,348.1L37.9,348.2L38.4,348.2L38.9,348.0L39.4,348.1L39.9,348.0L40.4,348.0L40.9,348.1L41.4,348.2L41.9,348.2L42.4,348.0L42.9,348.1L43.4,348.2L43.9,348.2L44.4,348.1L44.9,348.0L45.4,348.1L45.9,348.1L46.4,348.1L46.9,348.1L47.4,348.1L47.9,348.2L48.4,348.1L48.9,348.1L49.4,348.2L49.9,348.1L50.4,348.0L50.9,348.1L51.4,348.1L51.9,348.2L52.4,348.1L52.9,348.1L53.4,348.0L53.9,348.1L54.4,348.1L54.9,348.1L55.4,348.2L55.9,348.0L56.4,348.2L56.9,348.2L57.4,348.2L57.9,348.1L58.4,348.1L58.9,348.1L59.4,348.1L59.9,348.1L60.4,348.1L60.9,348.1L61.4,348.1L61.9,348.2L62.4,348.2L62.9,348.2L63.4,348.0L63.9,348.1L64.4,348.1L64.9,348.2L65.4,348.1L65.9,348.2L66.4,348.2L66.9,348.1L67.4,348.1L67.9,348.2L68.4,348.1L68.9,348.2L69.4,348.1L69.9,348.0L70.4,348.1L70.9,348.0L71.4,348.2L71.9,348.2L72.4,348.1L72.9,348.2L73.4,348.1L73.9,348.1L74.4,348.0L74.9,348.0L75.4,348.2L75.9,348.0L76.4,348.2L76.9,348.1L77.4,348.2L77.9,348.0L78.4,348.2L78.9,348.2L79.4,348.0L79.9,348.0L80.4,348.0L80.9,348.1L81.4,348.0L81.9,348.2L82.4,348.1L82.9,348.2L83.4,348.1L83.9,348.2L84.4,348.1L84.9,348.2L85.4,348.1L85.9,348.2L86.4,348.2L86.9,348.2L87.4,348.1L87.9,348.1L88.4,348.0L88.9,348.0L89.4,348.2L89.9,348.1L90.4,348.2L90.9,348.1L91.4,348.2L91.9,348.1L92.4,348.1L92.9,348.2L93.4,348.2L93.9,348.2L94.4,348.1L94.9,348.1L95.4,348.0L95.9,348.1L96.4,348.2L96.9,348.1L97.4,348.1L97.9,348.1L98.4,348.2L98.9,348.2L99.4,348.0L99.9,348.0L100.4,348.0L100.9,348.1L101.4,348.0L101.9,347.8L102.4,347.5L102.9,347.2L103.4,346.9L103.9,346.5L104.4,346.0L104.9,345.7L105.4,345.4L105.9,345.3L106.4,344.7L106.9,343.8L107.4,341.9L107.9,339.5L108.4,336.7L108.9,334.3L109.4,332.9L109.9,333.2L110.4,334.9L110.9,337.0L111.4,339.0L111.9,340.5L112.4,341.4L112.9,342.2L113.4,342.9L113.9,343.3L114.4,344.0L114.9,344.7L115.4,345.3L115.9,345.9L116.4,346.5L116.9,347.1L117.4,347.4L117.9,347.6L118.4,347.9L118.9,348.0L119.4,348.0L119.9,348.0L120.4,348.0L120.9,348.2L121.4,348.2L121.9,348.1L122.4,348.1L122.9,348.1L123.4,348.2L123.9,348.2L124.4,348.1L124.9,348.2L125.4,348.2L125.9,348.1L126.4,348.1L126.9,348.1L127.4,348.2L127.9,348.1L128.4,348.2L128.9,348.1L129.4,348.2L129.9,348.2L130.4,348.0L130.9,348.1L131.4,348.0L131.9,348.1L132.4,348.1L132.9,348.3L133.4,348.1L133.9,348.2L134.4,348.2L134.9,348.2L135.4,348.1L135.9,348.1L136.4,348.2L136.9,348.1L137.4,348.2L137.9,348.1L138.4,348.2L138.9,348.2L139.4,348.3L139.9,348.1L140.4,348.1L140.9,348.1L141.4,348.3L141.9,348.1L142.4,348.1L142.9,348.1L143.4,348.0L143.9,348.2L144.4,348.1L144.9,348.1L145.4,348.2L145.9,348.2L146.4,348.1L146.9,348.2L147.4,348.2L147.9,348.2L148.4,348.0L148.9,348.1L149.4,348.2L149.9,348.2L150.4,348.2L150.9,348.2L151.4,348.2L151.9,348.2L152.4,348.2L152.9,348.2L153.4,348.3L153.9,348.2L154.4,348.1L154.9,348.1L155.4,348.2L155.9,348.2L156.4,348.2L156.9,348.1L157.4,348.1L157.9,348.2L158.4,348.1L158.9,348.1L159.4,348.3L159.9,348.1L160.4,348.3L160.9,348.2L161.4,348.3L161.9,348.2L162.4,348.1L162.9,348.1L163.4,348.2L163.9,348.1L164.4,348.2L164.9,348.2L165.4,348.2L165.9,348.2L166.4,348.2L166.9,348.1L167.4,348.2L167.9,348.1L168.4,348.2L168.9,348.2L169.4,348.1L169.9,348.0L170.4,348.3L170.9,348.1L171.4,348.2L171.9,348.1L172.4,348.1L172.9,348.1L173.4,348.1L173.9,348.2L174.4,348.2L174.9,348.2L175.4,348.1L175.9,348.1L176.4,348.1L176.9,348.2L177.4,348.3L177.9,348.3L178.4,348.2L178.9,348.2L179.4,348.2L179.9,348.1L180.4,348.1L180.9,348.2L181.4,348.3L181.9,348.3L182.4,348.1L182.9,348.2L183.4,348.3L183.9,348.1L184.4,348.2L184.9,348.2L185.4,348.2L185.9,348.1L186.4,348.1L186.9,348.1L187.4,348.1L187.9,348.3L188.4,348.2L188.9,348.1L189.4,348.2L189.9,348.1L190.4,348.2L190.9,348.3L191.4,348.3L191.9,348.3L192.4,348.3L192.9,348.2L193.4,348.1L193.9,348.1L194.4,348.2L194.9,348.2L195.4,348.3L195.9,348.1L196.4,348.3L196.9,348.2L197.4,348.2L197.9,348.1L198.4,348.1L198.9,348.2L199.4,348.2L199.9,348.2L200.4,348.2L200.9,348.2L201.4,348.1L201.9,348.1L202.4,348.3L202.9,348.2L203.4,348.2L203.9,348.3L204.4,348.3L204.9,348.2L205.4,348.3L205.9,348.1L206.4,348.3L206.9,348.2L207.4,348.2L207.9,348.2L208.4,348.1L208.9,348.3L209.4,348.3L209.9,348.1L210.4,348.3L210.9,348.1L211.4,348.2L211.9,348.3L212.4,348.2L212.9,348.1L213.4,348.2L213.9,348.1L214.4,348.2L214.9,348.2L215.4,348.2L215.9,348.2L216.4,348.1L216.9,348.3L217.4,348.2L217.9,348.3L218.4,348.1L218.9,348.1L219.4,348.2L219.9,348.3L220.4,348.2L220.9,348.1L221.4,348.2L221.9,348.1L222.4,348.2L222.9,348.3L223.4,348.2L223.9,348.1L224.4,348.3L224.9,348.3L225.4,348.2L225.9,348.1L226.4,348.2L226.9,348.1L227.4,348.1L227.9,348.3L228.4,348.2L228.9,348.1L229.4,348.1L229.9,348.3L230.4,348.2L230.9,348.2L231.4,348.1L231.9,348.1L232.4,348.1L232.9,348.1L233.4,348.2L233.9,348.2L234.4,348.2L234.9,348.3L235.4,348.3L235.9,348.1L236.4,348.2L236.9,348.1L237.4,348.1L237.9,348.0L238.4,348.0L238.9,348.0L239.4,347.8L239.9,347.7L240.4,347.6L240.9,347.4L241.4,347.5L241.9,347.2L242.4,347.1L242.9,347.1L243.4,347.2L243.9,347.3L244.4,347.2L244.9,347.5L245.4,347.7L245.9,347.6L246.4,347.9L246.9,348.0L247.4,348.1L247.9,348.1L248.4,348.1L248.9,348.1L249.4,348.1L249.9,348.1L250.4,348.1L250.9,348.2L251.4,348.1L251.9,348.1L252.4,348.2L252.9,348.1L253.4,348.2L253.9,348.3L254.4,348.2L254.9,348.1L255.4,348.1L255.9,348.2L256.4,348.3L256.9,348.3L257.4,348.2L257.9,348.2L258.4,348.1L258.9,348.3L259.4,348.1L259.9,348.1L260.4,348.3" fill="none" stroke="#2f5fe0" stroke-width="0.8" stroke-linejoin="round"/>
<path d="M16.9,354.4L17.4,354.5L17.9,354.5L18.4,354.3L18.9,354.5L19.4,354.4L19.9,354.3L20.4,354.5L20.9,354.3L21.4,354.4L21.9,354.4L22.4,354.4L22.9,354.3L23.4,354.4L23.9,354.5L24.4,354.4L24.9,354.5L25.4,354.4L25.9,354.5L26.4,354.3L26.9,354.4L27.4,354.4L27.9,354.3L28.4,354.5L28.9,354.4L29.4,354.3L29.9,354.4L30.4,354.4L30.9,354.3L31.4,354.3L31.9,354.4L32.4,354.3L32.9,354.4L33.4,354.4L33.9,354.3L34.4,354.5L34.9,354.3L35.4,354.3L35.9,354.5L36.4,354.3L36.9,354.4L37.4,354.4L37.9,354.4L38.4,354.4L38.9,354.4L39.4,354.4L39.9,354.3L40.4,354.5L40.9,354.4L41.4,354.3L41.9,354.4L42.4,354.5L42.9,354.4L43.4,354.4L43.9,354.4L44.4,354.3L44.9,354.4L45.4,354.4L45.9,354.3L46.4,354.3L46.9,354.3L47.4,354.5L47.9,354.5L48.4,354.5L48.9,354.3L49.4,354.3L49.9,354.5L50.4,354.4L50.9,354.3L51.4,354.4L51.9,354.4L52.4,354.4L52.9,354.4L53.4,354.4L53.9,354.4L54.4,354.4L54.9,354.5L55.4,354.4L55.9,354.4L56.4,354.5L56.9,354.3L57.4,354.5L57.9,354.4L58.4,354.5L58.9,354.5L59.4,354.4L59.9,354.4L60.4,354.4L60.9,354.3L61.4,354.5L61.9,354.4L62.4,354.3L62.9,354.5L63.4,354.4L63.9,354.3L64.4,354.4L64.9,354.3L65.4,354.5L65.9,354.4L66.4,354.5L66.9,354.4L67.4,354.3L67.9,354.4L68.4,354.5L68.9,354.5L69.4,354.3L69.9,354.4L70.4,354.4L70.9,354.3L71.4,354.4L71.9,354.5L72.4,354.4L72.9,354.4L73.4,354.5L73.9,354.5L74.4,354.3L74.9,354.3L75.4,354.5L75.9,354.4L76.4,354.3L76.9,354.5L77.4,354.4L77.9,354.5L78.4,354.5L78.9,354.4L79.4,354.4L79.9,354.4L80.4,354.5L80.9,354.4L81.4,354.4L81.9,354.5L82.4,354.4L82.9,354.4L83.4,354.4L83.9,354.3L84.4,354.4L84.9,354.5L85.4,354.5L85.9,354.4L86.4,354.4L86.9,354.3L87.4,354.4L87.9,354.4L88.4,354.4L88.9,354.4L89.4,354.4L89.9,354.5L90.4,354.5L90.9,354.4L91.4,354.3L91.9,354.3L92.4,354.3L92.9,354.3L93.4,354.5L93.9,354.4L94.4,354.3L94.9,354.5L95.4,354.5L95.9,354.5L96.4,354.5L96.9,354.4L97.4,354.5L97.9,354.5L98.4,354.5L98.9,354.3L99.4,354.5L99.9,354.5L100.4,354.3L100.9,354.4L101.4,354.3L101.9,354.0L102.4,354.0L102.9,353.7L103.4,353.3L103.9,352.7L104.4,352.5L104.9,352.0L105.4,351.7L105.9,351.6L106.4,351.1L106.9,350.1L107.4,348.5L107.9,346.1L108.4,343.3L108.9,341.1L109.4,339.8L109.9,340.0L110.4,341.5L110.9,343.5L111.4,345.7L111.9,347.0L112.4,348.2L112.9,348.7L113.4,349.3L113.9,349.7L114.4,350.4L114.9,351.0L115.4,351.7L115.9,352.4L116.4,353.0L116.9,353.3L117.4,353.6L117.9,354.0L118.4,354.0L118.9,354.2L119.4,354.3L119.9,354.4L120.4,354.5L120.9,354.3L121.4,354.5L121.9,354.4L122.4,354.4L122.9,354.4L123.4,354.5L123.9,354.4L124.4,354.4L124.9,354.3L125.4,354.4L125.9,354.5L126.4,354.5L126.9,354.4L127.4,354.4L127.9,354.5L128.4,354.5L128.9,354.4L129.4,354.3L129.9,354.6L130.4,354.4L130.9,354.4L131.4,354.3L131.9,354.3L132.4,354.4L132.9,354.5L133.4,354.4L133.9,354.5L134.4,354.4L134.9,354.5L135.4,354.3L135.9,354.4L136.4,354.6L136.9,354.4L137.4,354.4L137.9,354.3L138.4,354.5L138.9,354.4L139.4,354.4L139.9,354.5L140.4,354.4L140.9,354.5L141.4,354.4L141.9,354.3L142.4,354.4L142.9,354.3L143.4,354.5L143.9,354.4L144.4,354.4L144.9,354.5L145.4,354.4L145.9,354.5L146.4,354.5L146.9,354.6L147.4,354.6L147.9,354.6L148.4,354.5L148.9,354.5L149.4,354.4L149.9,354.4L150.4,354.5L150.9,354.6L151.4,354.5L151.9,354.5L152.4,354.4L152.9,354.4L153.4,354.4L153.9,354.6L154.4,354.4L154.9,354.5L155.4,354.4L155.9,354.5L156.4,354.5L156.9,354.6L157.4,354.3L157.9,354.4L158.4,354.6L158.9,354.4L159.4,354.4L159.9,354.5L160.4,354.4L160.9,354.6L161.4,354.5L161.9,354.4L162.4,354.4L162.9,354.5L163.4,354.6L163.9,354.4L164.4,354.6L164.9,354.5L165.4,354.5L165.9,354.5L166.4,354.5L166.9,354.3L167.4,354.4L167.9,354.4L168.4,354.6L168.9,354.4L169.4,354.5L169.9,354.5L170.4,354.4L170.9,354.5L171.4,354.5L171.9,354.5L172.4,354.4L172.9,354.6L173.4,354.5L173.9,354.4L174.4,354.6L174.9,354.5L175.4,354.6L175.9,354.4L176.4,354.5L176.9,354.5L177.4,354.4L177.9,354.4L178.4,354.5L178.9,354.6L179.4,354.5L179.9,354.5L180.4,354.5L180.9,354.5L181.4,354.5L181.9,354.5L182.4,354.4L182.9,354.6L183.4,354.6L183.9,354.5L184.4,354.5L184.9,354.6L185.4,354.5L185.9,354.6L186.4,354.5L186.9,354.5L187.4,354.6L187.9,354.6L188.4,354.5L188.9,354.5L189.4,354.5L189.9,354.5L190.4,354.4L190.9,354.4L191.4,354.4L191.9,354.4L192.4,354.6L192.9,354.4L193.4,354.6L193.9,354.5L194.4,354.6L194.9,354.5L195.4,354.4L195.9,354.5L196.4,354.4L196.9,354.4L197.4,354.4L197.9,354.4L198.4,354.4L198.9,354.4L199.4,354.6L199.9,354.5L200.4,354.4L200.9,354.6L201.4,354.4L201.9,354.5L202.4,354.5L202.9,354.6L203.4,354.6L203.9,354.5L204.4,354.6L204.9,354.5L205.4,354.4L205.9,354.4L206.4,354.4L206.9,354.5L207.4,354.5L207.9,354.4L208.4,354.5L208.9,354.6L209.4,354.5L209.9,354.6L210.4,354.4L210.9,354.5L211.4,354.5L211.9,354.4L212.4,354.6L212.9,354.4L213.4,354.4L213.9,354.6L214.4,354.4L214.9,354.5L215.4,354.6L215.9,354.4L216.4,354.5L216.9,354.5L217.4,354.4L217.9,354.4L218.4,354.6L218.9,354.6L219.4,354.5L219.9,354.5L220.4,354.5L220.9,354.6L221.4,354.4L221.9,354.4L222.4,354.4L222.9,354.5L223.4,354.6L223.9,354.4L224.4,354.4L224.9,354.4L225.4,354.6L225.9,354.5L226.4,354.4L226.9,354.5L227.4,354.5L227.9,354.4L228.4,354.4L228.9,354.6L229.4,354.6L229.9,354.5L230.4,354.6L230.9,354.6L231.4,354.4L231.9,354.4L232.4,354.4L232.9,354.4L233.4,354.5L233.9,354.6L234.4,354.4L234.9,354.4L235.4,354.5L235.9,354.5L236.4,354.4L236.9,354.5L237.4,354.4L237.9,354.4L238.4,354.3L238.9,354.2L239.4,354.2L239.9,354.0L240.4,353.9L240.9,353.9L241.4,353.8L241.9,353.7L242.4,353.4L242.9,353.5L243.4,353.5L243.9,353.6L244.4,353.6L244.9,353.7L245.4,353.8L245.9,353.9L246.4,354.1L246.9,354.3L247.4,354.3L247.9,354.3L248.4,354.3L248.9,354.4L249.4,354.5L249.9,354.4L250.4,354.4L250.9,354.6L251.4,354.5L251.9,354.4L252.4,354.5L252.9,354.4L253.4,354.5L253.9,354.6L254.4,354.4L254.9,354.5L255.4,354.6L255.9,354.5L256.4,354.4L256.9,354.6L257.4,354.4L257.9,354.4L258.4,354.5L258.9,354.6L259.4,354.5L259.9,354.5L260.4,354.5" fill="none" stroke="#5f88ea" stroke-width="0.8" stroke-linejoin="round"/>
<path d="M16.9,361.4L17.4,361.2L17.9,361.2L18.4,361.3L18.9,361.2L19.4,361.4L19.9,361.4L20.4,361.2L20.9,361.3L21.4,361.3L21.9,361.3L22.4,361.4L22.9,361.4L23.4,361.3L23.9,361.4L24.4,361.4L24.9,361.4L25.4,361.2L25.9,361.4L26.4,361.2L26.9,361.2L27.4,361.3L27.9,361.4L28.4,361.4L28.9,361.3L29.4,361.4L29.9,361.2L30.4,361.4L30.9,361.3L31.4,361.3L31.9,361.2L32.4,361.2L32.9,361.2L33.4,361.3L33.9,361.3L34.4,361.4L34.9,361.4L35.4,361.3L35.9,361.4L36.4,361.2L36.9,361.4L37.4,361.2L37.9,361.4L38.4,361.3L38.9,361.3L39.4,361.3L39.9,361.2L40.4,361.2L40.9,361.3L41.4,361.4L41.9,361.2L42.4,361.3L42.9,361.3L43.4,361.4L43.9,361.4L44.4,361.2L44.9,361.3L45.4,361.2L45.9,361.4L46.4,361.4L46.9,361.4L47.4,361.3L47.9,361.2L48.4,361.2L48.9,361.3L49.4,361.2L49.9,361.2L50.4,361.4L50.9,361.3L51.4,361.4L51.9,361.4L52.4,361.4L52.9,361.4L53.4,361.4L53.9,361.3L54.4,361.3L54.9,361.3L55.4,361.2L55.9,361.2L56.4,361.3L56.9,361.3L57.4,361.4L57.9,361.3L58.4,361.4L58.9,361.3L59.4,361.3L59.9,361.4L60.4,361.2L60.9,361.2L61.4,361.3L61.9,361.3L62.4,361.3L62.9,361.2L63.4,361.2L63.9,361.2L64.4,361.3L64.9,361.2L65.4,361.2L65.9,361.4L66.4,361.3L66.9,361.2L67.4,361.4L67.9,361.3L68.4,361.4L68.9,361.4L69.4,361.3L69.9,361.3L70.4,361.2L70.9,361.4L71.4,361.3L71.9,361.3L72.4,361.2L72.9,361.3L73.4,361.4L73.9,361.3L74.4,361.4L74.9,361.4L75.4,361.3L75.9,361.4L76.4,361.4L76.9,361.4L77.4,361.2L77.9,361.2L78.4,361.3L78.9,361.2L79.4,361.3L79.9,361.3L80.4,361.3L80.9,361.3L81.4,361.2L81.9,361.4L82.4,361.4L82.9,361.2L83.4,361.3L83.9,361.4L84.4,361.2L84.9,361.4L85.4,361.2L85.9,361.4L86.4,361.4L86.9,361.3L87.4,361.4L87.9,361.4L88.4,361.4L88.9,361.2L89.4,361.3L89.9,361.2L90.4,361.4L90.9,361.3L91.4,361.3L91.9,361.2L92.4,361.2L92.9,361.3L93.4,361.3L93.9,361.3L94.4,361.4L94.9,361.4L95.4,361.3L95.9,361.3L96.4,361.4L96.9,361.3L97.4,361.4L97.9,361.4L98.4,361.4L98.9,361.3L99.4,361.2L99.9,361.3L100.4,361.4L100.9,361.1L101.4,361.1L101.9,361.1L102.4,360.8L102.9,360.6L103.4,360.1L103.9,359.7L104.4,359.3L104.9,359.1L105.4,358.8L105.9,358.4L106.4,358.1L106.9,357.2L107.4,355.6L107.9,353.2L108.4,350.5L108.9,348.5L109.4,347.1L109.9,347.3L110.4,348.7L110.9,351.0L111.4,352.9L111.9,354.3L112.4,355.3L112.9,355.9L113.4,356.2L113.9,356.8L114.4,357.5L114.9,358.1L115.4,358.8L115.9,359.4L116.4,359.7L116.9,360.2L117.4,360.7L117.9,360.9L118.4,361.0L118.9,361.1L119.4,361.3L119.9,361.2L120.4,361.2L120.9,361.4L121.4,361.4L121.9,361.3L122.4,361.3L122.9,361.3L123.4,361.4L123.9,361.3L124.4,361.4L124.9,361.4L125.4,361.4L125.9,361.3L126.4,361.3L126.9,361.3L127.4,361.2L127.9,361.4L128.4,361.3L128.9,361.3L129.4,361.3L129.9,361.4L130.4,361.3L130.9,361.3L131.4,361.3L131.9,361.2L132.4,361.2L132.9,361.3L133.4,361.4L133.9,361.4L134.4,361.3L134.9,361.2L135.4,361.3L135.9,361.4L136.4,361.3L136.9,361.3L137.4,361.3L137.9,361.4L138.4,361.4L138.9,361.3L139.4,361.5L139.9,361.4L140.4,361.3L140.9,361.4L141.4,361.5L141.9,361.4L142.4,361.5L142.9,361.4L143.4,361.3L143.9,361.4L144.4,361.2L144.9,361.5L145.4,361.4L145.9,361.2L146.4,361.3L146.9,361.4L147.4,361.4L147.9,361.5L148.4,361.3L148.9,361.4L149.4,361.4L149.9,361.4L150.4,361.4L150.9,361.4L151.4,361.4L151.9,361.2L152.4,361.3L152.9,361.4L153.4,361.3L153.9,361.2L154.4,361.4L154.9,361.3L155.4,361.4L155.9,361.3L156.4,361.3L156.9,361.4L157.4,361.4L157.9,361.5L158.4,361.4L158.9,361.3L159.4,361.4L159.9,361.4L160.4,361.4L160.9,361.2L161.4,361.4L161.9,361.5L162.4,361.4L162.9,361.3L163.4,361.3L163.9,361.4L164.4,361.4L164.9,361.4L165.4,361.3L165.9,361.3L166.4,361.3L166.9,361.4L167.4,361.4L167.9,361.3L168.4,361.3L168.9,361.4L169.4,361.3L169.9,361.4L170.4,361.3L170.9,361.3L171.4,361.5L171.9,361.2L172.4,361.3L172.9,361.4L173.4,361.3L173.9,361.3L174.4,361.5L174.9,361.4L175.4,361.3L175.9,361.3L176.4,361.3L176.9,361.4L177.4,361.3L177.9,361.4L178.4,361.5L178.9,361.3L179.4,361.4L179.9,361.4L180.4,361.4L180.9,361.5L181.4,361.3L181.9,361.4L182.4,361.3L182.9,361.3L183.4,361.5L183.9,361.3L184.4,361.3L184.9,361.5L185.4,361.3L185.9,361.4L186.4,361.5L186.9,361.3L187.4,361.3L187.9,361.4L188.4,361.3L188.9,361.4L189.4,361.5L189.9,361.5L190.4,361.5L190.9,361.4L191.4,361.4L191.9,361.5L192.4,361.4L192.9,361.3L193.4,361.4L193.9,361.4L194.4,361.4L194.9,361.3L195.4,361.5L195.9,361.4L196.4,361.3L196.9,361.3L197.4,361.3L197.9,361.4L198.4,361.4L198.9,361.3L199.4,361.3L199.9,361.3L200.4,361.4L200.9,361.3L201.4,361.3L201.9,361.4L202.4,361.5L202.9,361.4L203.4,361.3L203.9,361.4L204.4,361.3L204.9,361.4L205.4,361.3L205.9,361.3L206.4,361.5L206.9,361.3L207.4,361.4L207.9,361.5L208.4,361.4L208.9,361.3L209.4,361.3L209.9,361.3L210.4,361.5L210.9,361.5L211.4,361.4L211.9,361.4L212.4,361.3L212.9,361.3L213.4,361.3L213.9,361.3L214.4,361.4L214.9,361.4L215.4,361.5L215.9,361.4L216.4,361.4L216.9,361.3L217.4,361.4L217.9,361.5L218.4,361.3L218.9,361.4L219.4,361.4L219.9,361.3L220.4,361.3L220.9,361.3L221.4,361.5L221.9,361.5L222.4,361.5L222.9,361.5L223.4,361.3L223.9,361.3L224.4,361.3L224.9,361.3L225.4,361.4L225.9,361.4L226.4,361.3L226.9,361.5L227.4,361.3L227.9,361.3L228.4,361.3L228.9,361.3L229.4,361.3L229.9,361.4L230.4,361.5L230.9,361.4L231.4,361.3L231.9,361.4L232.4,361.4L232.9,361.3L233.4,361.4L233.9,361.5L234.4,361.4L234.9,361.3L235.4,361.4L235.9,361.5L236.4,361.4L236.9,361.3L237.4,361.3L237.9,361.3L238.4,361.2L238.9,361.3L239.4,361.2L239.9,361.0L240.4,360.7L240.9,360.7L241.4,360.6L241.9,360.4L242.4,360.3L242.9,360.4L243.4,360.4L243.9,360.4L244.4,360.6L244.9,360.7L245.4,360.7L245.9,361.0L246.4,361.0L246.9,361.1L247.4,361.2L247.9,361.2L248.4,361.2L248.9,361.4L249.4,361.4L249.9,361.3L250.4,361.4L250.9,361.4L251.4,361.3L251.9,361.4L252.4,361.3L252.9,361.5L253.4,361.3L253.9,361.4L254.4,361.4L254.9,361.3L255.4,361.3L255.9,361.5L256.4,361.5L256.9,361.5L257.4,361.5L257.9,361.5L258.4,361.4L258.9,361.3L259.4,361.3L259.9,361.4L260.4,361.3" fill="none" stroke="#a8bdf0" stroke-width="0.8" stroke-linejoin="round"/>
<path d="M16.9,367.9L17.4,367.9L17.9,368.0L18.4,367.8L18.9,367.8L19.4,368.0L19.9,367.9L20.4,367.9L20.9,368.0L21.4,367.8L21.9,368.0L22.4,367.9L22.9,367.8L23.4,368.0L23.9,367.9L24.4,367.8L24.9,368.0L25.4,368.0L25.9,368.0L26.4,367.9L26.9,368.0L27.4,367.8L27.9,368.0L28.4,367.9L28.9,367.8L29.4,367.9L29.9,367.9L30.4,367.9L30.9,368.0L31.4,367.9L31.9,367.8L32.4,367.9L32.9,367.9L33.4,368.0L33.9,368.0L34.4,368.0L34.9,367.9L35.4,367.8L35.9,368.0L36.4,367.9L36.9,368.0L37.4,367.8L37.9,368.0L38.4,367.8L38.9,368.0L39.4,367.9L39.9,367.9L40.4,367.9L40.9,367.9L41.4,367.9L41.9,368.0L42.4,367.9L42.9,367.9L43.4,368.0L43.9,367.8L44.4,367.9L44.9,367.9L45.4,367.9L45.9,367.8L46.4,368.0L46.9,367.9L47.4,367.8L47.9,367.9L48.4,367.8L48.9,367.9L49.4,367.8L49.9,367.9L50.4,367.9L50.9,368.0L51.4,367.9L51.9,367.9L52.4,367.9L52.9,367.9L53.4,368.0L53.9,367.8L54.4,368.0L54.9,367.9L55.4,368.0L55.9,368.0L56.4,367.8L56.9,367.8L57.4,368.0L57.9,367.9L58.4,367.9L58.9,367.8L59.4,367.9L59.9,367.9L60.4,367.9L60.9,367.8L61.4,368.0L61.9,368.0L62.4,368.0L62.9,367.9L63.4,367.9L63.9,367.8L64.4,368.0L64.9,367.9L65.4,367.9L65.9,368.0L66.4,367.9L66.9,368.0L67.4,367.8L67.9,368.0L68.4,367.9L68.9,367.8L69.4,367.9L69.9,368.0L70.4,367.8L70.9,367.9L71.4,368.0L71.9,367.8L72.4,367.9L72.9,367.9L73.4,367.9L73.9,368.0L74.4,367.9L74.9,367.9L75.4,367.9L75.9,368.0L76.4,367.8L76.9,368.0L77.4,368.0L77.9,368.0L78.4,368.0L78.9,367.8L79.4,368.0L79.9,368.0L80.4,367.8L80.9,367.9L81.4,367.9L81.9,367.8L82.4,367.9L82.9,367.8L83.4,368.0L83.9,367.8L84.4,367.9L84.9,368.0L85.4,367.8L85.9,368.0L86.4,368.0L86.9,367.9L87.4,367.9L87.9,368.0L88.4,368.0L88.9,367.9L89.4,368.0L89.9,367.9L90.4,367.9L90.9,367.9L91.4,368.0L91.9,367.9L92.4,368.0L92.9,367.9L93.4,368.0L93.9,367.9L94.4,367.9L94.9,367.9L95.4,368.0L95.9,368.0L96.4,368.0L96.9,367.9L97.4,367.8L97.9,368.0L98.4,368.0L98.9,368.0L99.4,367.8L99.9,368.0L100.4,367.8L100.9,368.0L101.4,368.0L101.9,367.9L102.4,367.9L102.9,367.9L103.4,367.8L103.9,367.9L104.4,367.9L104.9,367.9L105.4,367.9L105.9,367.8L106.4,367.9L106.9,367.7L107.4,367.6L107.9,367.6L108.4,367.3L108.9,367.2L109.4,367.3L109.9,367.3L110.4,367.4L110.9,367.3L111.4,367.6L111.9,367.5L112.4,367.6L112.9,367.7L113.4,367.8L113.9,367.6L114.4,367.7L114.9,367.7L115.4,367.8L115.9,367.8L116.4,367.8L116.9,367.8L117.4,367.8L117.9,368.0L118.4,367.8L118.9,367.9L119.4,367.8L119.9,367.8L120.4,368.0L120.9,368.0L121.4,368.0L121.9,367.8L122.4,368.0L122.9,367.9L123.4,368.0L123.9,368.0L124.4,367.9L124.9,368.0L125.4,367.9L125.9,368.0L126.4,368.0L126.9,368.0L127.4,368.0L127.9,368.1L128.4,367.9L128.9,368.0L129.4,368.1L129.9,368.0L130.4,367.9L130.9,368.0L131.4,367.9L131.9,368.0L132.4,368.0L132.9,367.8L133.4,368.0L133.9,367.9L134.4,368.0L134.9,367.9L135.4,367.8L135.9,367.8L136.4,367.9L136.9,367.9L137.4,367.9L137.9,368.0L138.4,368.0L138.9,367.9L139.4,368.0L139.9,367.9L140.4,368.0L140.9,368.1L141.4,367.9L141.9,368.0L142.4,367.9L142.9,367.9L143.4,367.9L143.9,368.1L144.4,368.0L144.9,367.9L145.4,367.9L145.9,367.9L146.4,367.9L146.9,367.9L147.4,367.9L147.9,367.9L148.4,368.1L148.9,367.9L149.4,368.0L149.9,368.1L150.4,367.9L150.9,367.9L151.4,367.9L151.9,367.9L152.4,367.9L152.9,367.9L153.4,368.0L153.9,368.0L154.4,368.0L154.9,367.9L155.4,367.9L155.9,368.1L156.4,368.0L156.9,367.9L157.4,368.0L157.9,367.9L158.4,367.9L158.9,368.1L159.4,368.0L159.9,368.0L160.4,367.9L160.9,368.1L161.4,368.0L161.9,368.1L162.4,367.8L162.9,368.0L163.4,367.9L163.9,368.0L164.4,368.1L164.9,367.8L165.4,368.0L165.9,368.0L166.4,368.0L166.9,367.9L167.4,368.0L167.9,368.0L168.4,368.0L168.9,368.0L169.4,367.9L169.9,367.9L170.4,367.9L170.9,368.0L171.4,367.8L171.9,368.0L172.4,368.0L172.9,368.0L173.4,367.9L173.9,368.0L174.4,368.0L174.9,367.9L175.4,368.0L175.9,368.1L176.4,368.1L176.9,368.1L177.4,367.9L177.9,368.0L178.4,367.9L178.9,368.0L179.4,367.9L179.9,368.0L180.4,368.1L180.9,367.9L181.4,368.0L181.9,368.1L182.4,368.0L182.9,368.0L183.4,367.9L183.9,368.1L184.4,367.9L184.9,368.0L185.4,368.0L185.9,367.9L186.4,368.1L186.9,368.1L187.4,368.0L187.9,368.0L188.4,368.0L188.9,368.0L189.4,368.0L189.9,368.1L190.4,367.9L190.9,367.9L191.4,368.0L191.9,368.0L192.4,368.0L192.9,368.1L193.4,368.1L193.9,367.9L194.4,368.0L194.9,368.0L195.4,368.1L195.9,367.9L196.4,367.9L196.9,367.9L197.4,368.0L197.9,368.0L198.4,368.0L198.9,368.0L199.4,368.0L199.9,368.1L200.4,367.9L200.9,368.0L201.4,367.9L201.9,368.0L202.4,368.0L202.9,368.1L203.4,368.0L203.9,368.0L204.4,368.0L204.9,368.0L205.4,367.9L205.9,367.9L206.4,368.0L206.9,368.0L207.4,368.0L207.9,368.1L208.4,368.0L208.9,368.0L209.4,368.0L209.9,368.0L210.4,368.1L210.9,368.0L211.4,368.0L211.9,368.1L212.4,368.0L212.9,368.0L213.4,367.9L213.9,368.1L214.4,368.1L214.9,368.0L215.4,368.0L215.9,368.0L216.4,368.0L216.9,368.0L217.4,368.0L217.9,368.1L218.4,367.9L218.9,368.0L219.4,368.1L219.9,368.0L220.4,368.1L220.9,368.1L221.4,367.9L221.9,368.0L222.4,368.1L222.9,368.1L223.4,367.9L223.9,367.9L224.4,367.9L224.9,368.1L225.4,367.9L225.9,368.1L226.4,368.0L226.9,368.0L227.4,367.9L227.9,368.0L228.4,368.1L228.9,367.9L229.4,368.0L229.9,368.1L230.4,367.9L230.9,368.0L231.4,368.0L231.9,368.0L232.4,368.0L232.9,368.1L233.4,367.9L233.9,368.0L234.4,368.0L234.9,367.9L235.4,368.0L235.9,368.0L236.4,368.0L236.9,368.0L237.4,367.8L237.9,367.8L238.4,367.9L238.9,367.7L239.4,367.7L239.9,367.5L240.4,367.4L240.9,367.4L241.4,367.1L241.9,367.0L242.4,367.1L242.9,367.0L243.4,367.1L243.9,367.0L244.4,367.2L244.9,367.3L245.4,367.4L245.9,367.5L246.4,367.7L246.9,367.6L247.4,367.8L247.9,367.9L248.4,368.0L248.9,368.0L249.4,368.0L249.9,368.0L250.4,367.9L250.9,368.0L251.4,367.9L251.9,367.9L252.4,367.9L252.9,367.9L253.4,368.0L253.9,367.9L254.4,367.9L254.9,368.0L255.4,368.0L255.9,367.9L256.4,367.9L256.9,368.1L257.4,368.0L257.9,367.9L258.4,367.9L258.9,367.9L259.4,368.1L259.9,368.1L260.4,368.0" fill="none" stroke="#1a1a1a" stroke-width="0.8" stroke-linejoin="round"/>
<text x="128.00" y="249.10" font-size="5.0" fill="#b8202f" font-weight="bold" textLength="13.0" lengthAdjust="spacingAndGlyphs">90 min</text>
<text x="128.00" y="256.50" font-size="5.0" fill="#d5303f" font-weight="bold" textLength="13.0" lengthAdjust="spacingAndGlyphs">50 min</text>
<text x="128.00" y="263.90" font-size="5.0" fill="#ea7a88" font-weight="bold" textLength="13.0" lengthAdjust="spacingAndGlyphs">46 min</text>
<text x="128.00" y="270.40" font-size="5.0" fill="#d8404f" font-weight="bold" textLength="13.0" lengthAdjust="spacingAndGlyphs">42 min</text>
<text x="128.00" y="277.30" font-size="5.0" fill="#e8786a" font-weight="bold" textLength="13.0" lengthAdjust="spacingAndGlyphs">40 min</text>
<text x="128.00" y="283.80" font-size="5.0" fill="#f2a592" font-weight="bold" textLength="13.0" lengthAdjust="spacingAndGlyphs">38 min</text>
<text x="128.00" y="292.40" font-size="5.0" fill="#f6c0b2" font-weight="bold" textLength="13.0" lengthAdjust="spacingAndGlyphs">36 min</text>
<text x="128.00" y="298.30" font-size="5.0" fill="#f07a44" font-weight="bold" textLength="13.0" lengthAdjust="spacingAndGlyphs">34 min</text>
<text x="127.60" y="317.10" font-size="5.0" fill="#b8c8d8" font-weight="bold" textLength="13.5" lengthAdjust="spacingAndGlyphs">22 min</text>
<text x="127.60" y="325.30" font-size="5.0" fill="#b0e0e0" font-weight="bold" textLength="13.5" lengthAdjust="spacingAndGlyphs">16 min</text>
<text x="127.60" y="333.40" font-size="5.0" fill="#40a890" font-weight="bold" textLength="13.5" lengthAdjust="spacingAndGlyphs">12 min</text>
<text x="129.70" y="339.70" font-size="5.0" fill="#60c8a8" font-weight="bold" textLength="11.3" lengthAdjust="spacingAndGlyphs">8 min</text>
<text x="129.70" y="347.60" font-size="5.0" fill="#3050e0" font-weight="bold" textLength="11.3" lengthAdjust="spacingAndGlyphs">6 min</text>
<text x="129.70" y="353.50" font-size="5.0" fill="#6080e0" font-weight="bold" textLength="11.3" lengthAdjust="spacingAndGlyphs">4 min</text>
<text x="129.70" y="360.90" font-size="5.0" fill="#b0c0e0" font-weight="bold" textLength="11.3" lengthAdjust="spacingAndGlyphs">2 min</text>
<text x="129.70" y="366.90" font-size="5.0" fill="#111" font-weight="bold" textLength="11.3" lengthAdjust="spacingAndGlyphs">0 min</text>
<line x1="16.30" y1="309.50" x2="260.70" y2="309.50" stroke="#111" stroke-width="1.0" stroke-dasharray="2.5,1.8"/>
<rect x="220.50" y="202.60" width="40.60" height="109.30" fill="none" stroke="#f03535" stroke-width="0.9" />
<line x1="261.10" y1="202.60" x2="299.40" y2="197.30" stroke="#f03535" stroke-width="0.8" />
<line x1="261.10" y1="311.90" x2="299.40" y2="371.30" stroke="#f03535" stroke-width="0.8" />
<rect x="16.30" y="198.20" width="244.40" height="172.80" fill="none" stroke="#222" stroke-width="1.2" />
<line x1="16.30" y1="198.20" x2="260.70" y2="198.20" stroke="#444" stroke-width="1.6" />
<line x1="16.40" y1="371.00" x2="16.40" y2="373.50" stroke="#111" stroke-width="1" />
<text x="16.40" y="384.40" font-size="10.4" fill="#000" font-weight="bold" text-anchor="middle" textLength="23" lengthAdjust="spacingAndGlyphs">4000</text>
<line x1="61.40" y1="371.00" x2="61.40" y2="373.50" stroke="#111" stroke-width="1" />
<text x="61.40" y="384.40" font-size="10.4" fill="#000" font-weight="bold" text-anchor="middle" textLength="23" lengthAdjust="spacingAndGlyphs">3500</text>
<line x1="106.40" y1="371.00" x2="106.40" y2="373.50" stroke="#111" stroke-width="1" />
<text x="106.40" y="384.40" font-size="10.4" fill="#000" font-weight="bold" text-anchor="middle" textLength="23" lengthAdjust="spacingAndGlyphs">3000</text>
<line x1="151.40" y1="371.00" x2="151.40" y2="373.50" stroke="#111" stroke-width="1" />
<text x="151.40" y="384.40" font-size="10.4" fill="#000" font-weight="bold" text-anchor="middle" textLength="23" lengthAdjust="spacingAndGlyphs">2500</text>
<line x1="196.40" y1="371.00" x2="196.40" y2="373.50" stroke="#111" stroke-width="1" />
<text x="196.40" y="384.40" font-size="10.4" fill="#000" font-weight="bold" text-anchor="middle" textLength="23" lengthAdjust="spacingAndGlyphs">2000</text>
<line x1="241.40" y1="371.00" x2="241.40" y2="373.50" stroke="#111" stroke-width="1" />
<text x="241.40" y="384.40" font-size="10.4" fill="#000" font-weight="bold" text-anchor="middle" textLength="23" lengthAdjust="spacingAndGlyphs">1500</text>
<text x="138.50" y="403.00" font-size="11.6" fill="#000" font-weight="bold" text-anchor="middle" textLength="98" lengthAdjust="spacingAndGlyphs">Wavenumber (cm<tspan font-size="8" dy="-4.8">-1</tspan><tspan dy="4.8">)</tspan></text>
<text x="10.10" y="284.50" font-size="10.4" fill="#000" font-weight="bold" text-anchor="middle" textLength="88" lengthAdjust="spacingAndGlyphs" transform="rotate(-90 10.10 284.50)">Absorbance (a.u.)</text>
<path d="M101.2,297.2 L101.2,304.0 L98.6,304.0" fill="none" stroke="#333" stroke-width="0.8"/>
<path d="M90.0,312.8 L92.4,312.8 L92.4,319.4" fill="none" stroke="#333" stroke-width="0.8"/>
<text x="57.00" y="306.60" font-size="6.8" fill="#222" font-weight="bold" textLength="30.5" lengthAdjust="spacingAndGlyphs">CO<tspan font-size="5.2" dy="1.50">2</tspan><tspan dy="-1.5">-PDH</tspan></text>
<text x="68.00" y="316.20" font-size="6.8" fill="#222" font-weight="bold" textLength="15.3" lengthAdjust="spacingAndGlyphs">PDH</text>
<text x="18.00" y="207.00" font-size="8.8" fill="#f2b596" font-weight="bold" textLength="23.5" lengthAdjust="spacingAndGlyphs">Al-OH</text>
<text x="54.00" y="217.00" font-size="8.8" fill="#5566f0" font-weight="bold" textLength="29.0" lengthAdjust="spacingAndGlyphs">H<tspan font-size="6" dy="1.80">2</tspan><tspan dy="-1.8">O (g)</tspan></text>
<text x="32.70" y="232.20" font-size="8.6" fill="#4a3f8a" font-weight="bold" textLength="28.3" lengthAdjust="spacingAndGlyphs">Ce-OH*</text>
<text x="39.50" y="242.00" font-size="8.6" fill="#4a3f8a" font-weight="bold" textLength="18.2" lengthAdjust="spacingAndGlyphs">3625</text>
<text x="96.80" y="206.60" font-size="8.8" fill="#5a8ec2" font-weight="bold" textLength="31" lengthAdjust="spacingAndGlyphs">C<tspan font-size="6" dy="1.80">3</tspan><tspan dy="-1.8">H</tspan><tspan font-size="6" dy="1.80">8</tspan><tspan dy="-1.8"> (g)</tspan></text>
<text x="141.50" y="206.60" font-size="8.8" fill="#3a9e78" font-weight="bold" textLength="28" lengthAdjust="spacingAndGlyphs">CO<tspan font-size="6" dy="1.80">2</tspan><tspan dy="-1.8"> (g)</tspan></text>
<text x="170.50" y="217.00" font-size="8.8" fill="#b03a2a" font-weight="bold" textLength="25.5" lengthAdjust="spacingAndGlyphs">CO (g)</text>
<text x="173.00" y="225.20" font-size="8.6" fill="#b03a2a" font-weight="bold" textLength="18" lengthAdjust="spacingAndGlyphs">2174</text>
<text x="182.40" y="233.00" font-size="8.6" fill="#3a9a2a" font-weight="bold" textLength="25.6" lengthAdjust="spacingAndGlyphs">Pt-CO*</text>
<text x="183.50" y="241.20" font-size="8.6" fill="#3a9a2a" font-weight="bold" textLength="17.5" lengthAdjust="spacingAndGlyphs">2045</text>
<text x="221.40" y="215.00" font-size="8.6" fill="#f02828" font-weight="bold" textLength="27.3" lengthAdjust="spacingAndGlyphs">HCOO*</text>
<text x="231.20" y="237.00" font-size="7.6" fill="#f02828" font-weight="bold" textLength="17.5" lengthAdjust="spacingAndGlyphs" transform="rotate(-90 231.20 237.00)">1590</text>
<text x="243.90" y="237.00" font-size="7.6" fill="#f02828" font-weight="bold" textLength="17.5" lengthAdjust="spacingAndGlyphs" transform="rotate(-90 243.90 237.00)">1395</text>
<text x="254.10" y="237.00" font-size="7.6" fill="#f02828" font-weight="bold" textLength="17.5" lengthAdjust="spacingAndGlyphs" transform="rotate(-90 254.10 237.00)">1375</text>
<line x1="327.61" y1="232.00" x2="327.61" y2="370.00" stroke="#f02828" stroke-width="1.0" stroke-dasharray="3.2,2.6"/>
<line x1="361.44" y1="232.00" x2="361.44" y2="370.00" stroke="#f02828" stroke-width="1.0" stroke-dasharray="3.2,2.6"/>
<line x1="364.91" y1="232.00" x2="364.91" y2="370.00" stroke="#f02828" stroke-width="1.0" stroke-dasharray="3.2,2.6"/>
<path d="M300.0,239.5L300.7,239.5L301.4,239.5L302.1,239.5L302.8,239.4L303.5,239.4L304.2,239.3L304.9,239.2L305.6,239.7L306.3,239.1L307.0,238.8L307.7,239.0L308.4,238.5L309.1,238.6L309.8,238.7L310.5,238.6L311.2,239.1L311.9,238.4L312.6,238.3L313.3,238.2L314.0,238.3L314.7,237.4L315.4,238.1L316.1,237.7L316.8,237.9L317.5,237.4L318.2,237.2L318.9,237.1L319.6,236.9L320.3,236.8L321.0,236.6L321.7,236.5L322.4,236.3L323.1,236.2L323.8,236.0L324.5,236.0L325.2,235.6L325.9,235.6L326.6,234.2L327.3,233.2L328.0,233.2L328.7,234.0L329.4,234.7L330.1,235.3L330.8,234.8L331.5,234.8L332.2,234.7L332.9,234.7L333.6,234.6L334.3,234.6L335.0,234.8L335.7,234.5L336.4,233.4L337.1,234.2L337.8,234.1L338.5,234.7L339.2,234.5L339.9,234.7L340.6,234.8L341.3,234.8L342.0,234.9L342.7,234.3L343.4,234.6L344.1,235.1L344.8,235.1L345.5,235.1L346.2,235.3L346.9,235.3L347.6,234.7L348.3,234.6L349.0,235.5L349.7,235.7L350.4,235.8L351.1,235.9L351.8,236.4L352.5,236.1L353.2,235.8L353.9,235.8L354.6,236.6L355.3,236.0L356.0,236.6L356.7,236.7L357.4,236.8L358.1,236.9L358.8,237.0L359.5,237.2L360.2,236.7L360.9,236.1L361.6,235.5L362.3,237.1L363.0,237.6L363.7,237.6L364.4,237.0L365.1,236.8L365.8,237.4L366.5,237.8L367.2,238.2L367.9,238.2L368.6,238.3L369.3,237.8L370.0,238.2L370.7,238.5L371.4,238.6L372.1,238.7L372.8,238.7L373.5,239.0L374.2,238.9L374.9,238.9L375.6,239.5L376.3,239.2" fill="none" stroke="#b8202f" stroke-width="1.3" stroke-linejoin="round"/>
<text x="301.60" y="234.80" font-size="7.2" fill="#b8202f" font-weight="bold" textLength="21.7" lengthAdjust="spacingAndGlyphs">90 min</text>
<path d="M300.0,260.4L300.7,260.9L301.4,260.3L302.1,260.3L302.8,260.2L303.5,259.8L304.2,260.3L304.9,260.6L305.6,259.6L306.3,260.3L307.0,259.8L307.7,260.0L308.4,259.7L309.1,259.5L309.8,259.1L310.5,259.4L311.2,259.3L311.9,259.2L312.6,259.1L313.3,258.9L314.0,258.9L314.7,258.7L315.4,258.6L316.1,258.4L316.8,258.3L317.5,257.6L318.2,258.0L318.9,258.0L319.6,257.2L320.3,257.0L321.0,257.6L321.7,257.3L322.4,257.3L323.1,257.0L323.8,256.8L324.5,256.6L325.2,256.9L325.9,256.0L326.6,255.0L327.3,253.5L328.0,253.8L328.7,254.8L329.4,255.5L330.1,255.6L330.8,255.9L331.5,255.6L332.2,255.5L332.9,255.5L333.6,255.0L334.3,255.4L335.0,255.4L335.7,255.3L336.4,253.9L337.1,255.0L337.8,256.0L338.5,255.5L339.2,255.0L339.9,255.5L340.6,255.6L341.3,255.1L342.0,256.1L342.7,256.3L343.4,255.4L344.1,256.4L344.8,255.9L345.5,255.5L346.2,256.1L346.9,256.1L347.6,255.6L348.3,255.4L349.0,256.3L349.7,256.5L350.4,256.6L351.1,256.4L351.8,256.8L352.5,256.9L353.2,257.0L353.9,257.6L354.6,257.4L355.3,257.3L356.0,257.4L356.7,257.2L357.4,257.2L358.1,257.5L358.8,257.8L359.5,257.9L360.2,257.9L360.9,257.0L361.6,256.5L362.3,257.9L363.0,258.5L363.7,258.6L364.4,257.6L365.1,256.9L365.8,258.4L366.5,258.3L367.2,259.5L367.9,259.0L368.6,259.1L369.3,259.2L370.0,259.5L370.7,259.3L371.4,259.4L372.1,259.5L372.8,259.5L373.5,259.6L374.2,259.6L374.9,259.7L375.6,259.9L376.3,260.1" fill="none" stroke="#d83040" stroke-width="1.3" stroke-linejoin="round"/>
<text x="301.60" y="255.60" font-size="7.2" fill="#d83040" font-weight="bold" textLength="21.7" lengthAdjust="spacingAndGlyphs">50 min</text>
<path d="M300.0,278.3L300.7,278.4L301.4,278.1L302.1,278.2L302.8,278.0L303.5,278.0L304.2,277.9L304.9,277.9L305.6,277.8L306.3,277.7L307.0,277.3L307.7,278.0L308.4,277.5L309.1,277.4L309.8,277.3L310.5,277.2L311.2,277.2L311.9,277.2L312.6,276.9L313.3,276.8L314.0,276.2L314.7,276.8L315.4,276.4L316.1,276.3L316.8,276.1L317.5,276.5L318.2,275.5L318.9,275.7L319.6,275.5L320.3,275.4L321.0,275.2L321.7,275.1L322.4,274.9L323.1,274.8L323.8,274.6L324.5,274.4L325.2,274.2L325.9,273.8L326.6,272.8L327.3,271.8L328.0,271.8L328.7,272.6L329.4,273.6L330.1,273.4L330.8,273.4L331.5,273.4L332.2,273.3L332.9,273.3L333.6,273.2L334.3,273.7L335.0,273.2L335.7,272.6L336.4,271.7L337.1,272.8L337.8,272.9L338.5,273.3L339.2,273.3L339.9,273.3L340.6,273.4L341.3,273.3L342.0,273.5L342.7,273.0L343.4,273.2L344.1,273.2L344.8,273.7L345.5,274.1L346.2,273.9L346.9,273.5L347.6,273.6L348.3,273.2L349.0,274.1L349.7,274.3L350.4,274.4L351.1,274.5L351.8,274.6L352.5,274.2L353.2,275.1L353.9,275.3L354.6,275.0L355.3,275.1L356.0,275.2L356.7,275.1L357.4,275.6L358.1,275.5L358.8,275.6L359.5,275.7L360.2,275.7L360.9,274.8L361.6,274.1L362.3,275.7L363.0,276.5L363.7,276.2L364.4,275.4L365.1,274.5L365.8,276.2L366.5,276.6L367.2,276.8L367.9,276.8L368.6,276.9L369.3,277.0L370.0,276.6L370.7,277.1L371.4,277.2L372.1,276.8L372.8,277.4L373.5,277.5L374.2,277.5L374.9,277.5L375.6,277.6L376.3,277.9" fill="none" stroke="#ea7a88" stroke-width="1.3" stroke-linejoin="round"/>
<text x="301.60" y="273.40" font-size="7.2" fill="#ea7a88" font-weight="bold" textLength="21.7" lengthAdjust="spacingAndGlyphs">46 min</text>
<path d="M300.0,294.0L300.7,293.9L301.4,293.9L302.1,293.9L302.8,293.3L303.5,293.8L304.2,293.6L304.9,293.7L305.6,293.6L306.3,293.0L307.0,293.9L307.7,293.1L308.4,292.9L309.1,293.2L309.8,293.0L310.5,293.0L311.2,292.9L311.9,292.8L312.6,292.7L313.3,292.6L314.0,292.5L314.7,292.2L315.4,292.2L316.1,292.1L316.8,291.9L317.5,291.8L318.2,291.4L318.9,292.1L319.6,291.3L320.3,291.2L321.0,291.0L321.7,290.9L322.4,290.7L323.1,290.5L323.8,289.9L324.5,290.2L325.2,290.4L325.9,289.6L326.6,288.6L327.3,287.6L328.0,287.6L328.7,288.4L329.4,289.1L330.1,289.2L330.8,289.3L331.5,289.2L332.2,289.5L332.9,289.1L333.6,289.0L334.3,288.9L335.0,289.2L335.7,288.9L336.4,287.5L337.1,288.6L337.8,289.0L338.5,288.9L339.2,289.1L339.9,289.1L340.6,289.2L341.3,289.3L342.0,289.3L342.7,289.6L343.4,289.4L344.1,289.5L344.8,289.5L345.5,290.1L346.2,289.5L346.9,289.7L347.6,289.2L348.3,289.0L349.0,289.9L349.7,290.1L350.4,290.0L351.1,290.3L351.8,289.8L352.5,290.5L353.2,290.6L353.9,290.6L354.6,291.2L355.3,291.2L356.0,291.0L356.7,290.8L357.4,291.2L358.1,291.4L358.8,291.8L359.5,291.5L360.2,291.9L360.9,290.6L361.6,289.9L362.3,291.5L363.0,292.0L363.7,292.0L364.4,291.1L365.1,290.4L365.8,292.0L366.5,292.5L367.2,292.6L367.9,292.1L368.6,292.7L369.3,292.8L370.0,292.9L370.7,292.4L371.4,293.0L372.1,293.1L372.8,293.1L373.5,293.2L374.2,293.3L374.9,293.3L375.6,293.1L376.3,293.4" fill="none" stroke="#d8404f" stroke-width="1.3" stroke-linejoin="round"/>
<text x="301.60" y="289.20" font-size="7.2" fill="#d8404f" font-weight="bold" textLength="21.7" lengthAdjust="spacingAndGlyphs">42 min</text>
<path d="M300.0,311.8L300.7,311.7L301.4,311.7L302.1,311.4L302.8,311.6L303.5,311.6L304.2,311.1L304.9,311.5L305.6,311.6L306.3,311.5L307.0,311.3L307.7,311.2L308.4,310.9L309.1,311.0L309.8,310.9L310.5,310.8L311.2,310.7L311.9,310.6L312.6,310.1L313.3,310.4L314.0,310.4L314.7,310.1L315.4,310.0L316.1,309.8L316.8,309.7L317.5,310.2L318.2,309.8L318.9,309.5L319.6,309.1L320.3,309.0L321.0,308.8L321.7,308.7L322.4,308.5L323.1,308.4L323.8,308.1L324.5,307.6L325.2,307.8L325.9,307.0L326.6,306.8L327.3,304.9L328.0,305.4L328.7,306.2L329.4,306.9L330.1,307.0L330.8,307.0L331.5,307.0L332.2,307.3L332.9,306.9L333.6,306.8L334.3,306.8L335.0,306.8L335.7,306.7L336.4,305.3L337.1,306.4L337.8,306.8L338.5,307.4L339.2,306.9L339.9,306.9L340.6,307.1L341.3,307.0L342.0,307.1L342.7,307.1L343.4,307.3L344.1,307.3L344.8,307.3L345.5,307.4L346.2,307.7L346.9,307.1L347.6,306.5L348.3,306.4L349.0,307.4L349.7,307.9L350.4,307.6L351.1,308.1L351.8,308.2L352.5,307.9L353.2,308.4L353.9,309.0L354.6,308.6L355.3,308.8L356.0,308.8L356.7,308.9L357.4,308.7L358.1,309.5L358.8,309.2L359.5,309.8L360.2,309.2L360.9,308.4L361.6,307.7L362.3,309.3L363.0,309.9L363.7,309.8L364.4,308.8L365.1,308.4L365.8,309.4L366.5,310.6L367.2,310.6L367.9,310.4L368.6,310.4L369.3,311.0L370.0,310.7L370.7,311.1L371.4,310.8L372.1,310.4L372.8,310.7L373.5,311.0L374.2,311.1L374.9,311.1L375.6,311.2L376.3,311.2" fill="none" stroke="#e8786a" stroke-width="1.3" stroke-linejoin="round"/>
<text x="301.60" y="307.00" font-size="7.2" fill="#e8786a" font-weight="bold" textLength="21.7" lengthAdjust="spacingAndGlyphs">40 min</text>
<path d="M300.0,331.7L300.7,332.0L301.4,331.6L302.1,331.9L302.8,331.1L303.5,331.8L304.2,331.6L304.9,331.0L305.6,331.3L306.3,331.2L307.0,331.2L307.7,331.1L308.4,331.6L309.1,330.9L309.8,330.8L310.5,330.7L311.2,330.6L311.9,331.0L312.6,330.4L313.3,330.3L314.0,330.6L314.7,330.0L315.4,329.9L316.1,329.8L316.8,329.6L317.5,329.5L318.2,329.4L318.9,329.2L319.6,329.0L320.3,328.9L321.0,328.7L321.7,328.6L322.4,328.4L323.1,328.3L323.8,328.1L324.5,327.9L325.2,327.7L325.9,327.2L326.6,326.1L327.3,324.9L328.0,325.3L328.7,326.1L329.4,326.8L330.1,326.9L330.8,326.9L331.5,326.5L332.2,327.2L332.9,327.0L333.6,326.7L334.3,326.7L335.0,326.7L335.7,326.6L336.4,325.3L337.1,326.9L337.8,326.4L338.5,326.8L339.2,326.8L339.9,327.2L340.6,326.9L341.3,326.9L342.0,327.4L342.7,326.7L343.4,327.5L344.1,326.7L344.8,327.5L345.5,327.3L346.2,327.5L346.9,327.8L347.6,326.8L348.3,326.7L349.0,327.6L349.7,327.8L350.4,327.9L351.1,327.6L351.8,328.1L352.5,328.2L353.2,328.3L353.9,328.7L354.6,328.5L355.3,328.6L356.0,328.7L356.7,328.8L357.4,328.8L358.1,329.2L358.8,329.5L359.5,328.9L360.2,329.0L360.9,328.3L361.6,327.6L362.3,329.2L363.0,329.9L363.7,329.7L364.4,329.4L365.1,328.3L365.8,330.1L366.5,330.2L367.2,330.3L367.9,330.3L368.6,330.4L369.3,330.9L370.0,330.5L370.7,330.7L371.4,330.1L372.1,331.2L372.8,330.8L373.5,330.9L374.2,330.9L374.9,331.0L375.6,331.1L376.3,331.1" fill="none" stroke="#f2a592" stroke-width="1.3" stroke-linejoin="round"/>
<text x="301.60" y="326.90" font-size="7.2" fill="#f2a592" font-weight="bold" textLength="21.7" lengthAdjust="spacingAndGlyphs">38 min</text>
<path d="M300.0,350.9L300.7,350.8L301.4,351.3L302.1,350.8L302.8,351.1L303.5,350.7L304.2,351.2L304.9,350.5L305.6,350.5L306.3,350.4L307.0,350.4L307.7,350.3L308.4,349.9L309.1,350.1L309.8,349.9L310.5,349.9L311.2,349.8L311.9,350.0L312.6,349.2L313.3,349.5L314.0,349.4L314.7,349.2L315.4,349.1L316.1,349.0L316.8,348.8L317.5,348.3L318.2,348.2L318.9,348.9L319.6,347.8L320.3,347.6L321.0,347.9L321.7,347.8L322.4,347.6L323.1,347.5L323.8,347.3L324.5,347.1L325.2,347.1L325.9,346.5L326.6,345.7L327.3,344.5L328.0,344.5L328.7,345.4L329.4,346.0L330.1,346.1L330.8,345.6L331.5,346.1L332.2,346.0L332.9,346.0L333.6,345.9L334.3,345.9L335.0,345.9L335.7,346.2L336.4,344.4L337.1,345.2L337.8,346.3L338.5,346.0L339.2,346.3L339.9,346.5L340.6,345.6L341.3,346.1L342.0,346.2L342.7,346.2L343.4,346.0L344.1,346.9L344.8,346.4L345.5,346.1L346.2,346.6L346.9,346.2L347.6,346.0L348.3,345.9L349.0,346.8L349.7,347.0L350.4,347.4L351.1,347.2L351.8,347.3L352.5,347.4L353.2,347.5L353.9,347.2L354.6,347.7L355.3,347.8L356.0,347.9L356.7,348.0L357.4,347.9L358.1,348.4L358.8,348.6L359.5,348.4L360.2,348.6L360.9,347.5L361.6,346.3L362.3,348.4L363.0,349.4L363.7,348.9L364.4,348.1L365.1,347.5L365.8,349.4L366.5,349.7L367.2,349.5L367.9,349.5L368.6,350.2L369.3,349.7L370.0,349.6L370.7,350.0L371.4,349.9L372.1,350.0L372.8,350.0L373.5,350.1L374.2,350.3L374.9,350.3L375.6,350.3L376.3,350.3" fill="none" stroke="#f6c0b2" stroke-width="1.3" stroke-linejoin="round"/>
<text x="301.60" y="346.10" font-size="7.2" fill="#f6c0b2" font-weight="bold" textLength="21.7" lengthAdjust="spacingAndGlyphs">36 min</text>
<path d="M300.0,366.8L300.7,366.6L301.4,366.6L302.1,366.6L302.8,366.1L303.5,366.5L304.2,366.4L304.9,366.5L305.6,366.3L306.3,366.2L307.0,365.9L307.7,366.2L308.4,366.0L309.1,365.9L309.8,365.7L310.5,365.3L311.2,365.6L311.9,365.3L312.6,365.3L313.3,365.3L314.0,365.3L314.7,365.0L315.4,364.7L316.1,364.8L316.8,364.6L317.5,364.5L318.2,364.3L318.9,364.2L319.6,363.7L320.3,363.9L321.0,363.7L321.7,363.6L322.4,363.4L323.1,363.3L323.8,363.1L324.5,362.9L325.2,362.7L325.9,362.3L326.6,361.3L327.3,360.3L328.0,360.3L328.7,361.1L329.4,361.6L330.1,361.9L330.8,361.9L331.5,361.9L332.2,362.1L332.9,361.8L333.6,361.7L334.3,361.7L335.0,361.6L335.7,361.6L336.4,360.2L337.1,361.3L337.8,361.6L338.5,361.8L339.2,361.8L339.9,361.8L340.6,361.9L341.3,361.9L342.0,362.0L342.7,362.0L343.4,362.1L344.1,362.2L344.8,362.2L345.5,362.3L346.2,362.4L346.9,362.4L347.6,361.8L348.3,361.7L349.0,362.6L349.7,362.4L350.4,362.5L351.1,362.9L351.8,363.6L352.5,362.7L353.2,363.3L353.9,363.4L354.6,363.5L355.3,363.6L356.0,363.6L356.7,363.3L357.4,363.9L358.1,364.0L358.8,364.1L359.5,364.4L360.2,364.5L360.9,363.5L361.6,363.2L362.3,364.2L363.0,364.7L363.7,364.7L364.4,363.9L365.1,363.8L365.8,364.7L366.5,365.4L367.2,364.7L367.9,365.3L368.6,365.8L369.3,365.5L370.0,365.5L370.7,365.5L371.4,365.7L372.1,365.8L372.8,365.8L373.5,365.9L374.2,366.0L374.9,366.0L375.6,366.1L376.3,366.1" fill="none" stroke="#f07a44" stroke-width="1.3" stroke-linejoin="round"/>
<text x="301.60" y="361.90" font-size="7.2" fill="#f07a44" font-weight="bold" textLength="21.7" lengthAdjust="spacingAndGlyphs">34 min</text>
<rect x="299.40" y="197.30" width="77.80" height="174.10" fill="none" stroke="#111" stroke-width="1.1" />
<text x="332.90" y="208.30" font-size="8.3" fill="#f02828" font-weight="bold" textLength="27.5" lengthAdjust="spacingAndGlyphs">HCOO*</text>
<text x="330.30" y="229.30" font-size="8.2" fill="#f02828" font-weight="bold" textLength="16.4" lengthAdjust="spacingAndGlyphs" transform="rotate(-90 330.30 229.30)">1590</text>
<text x="361.70" y="229.30" font-size="8.2" fill="#f02828" font-weight="bold" textLength="16.4" lengthAdjust="spacingAndGlyphs" transform="rotate(-90 361.70 229.30)">1395</text>
<text x="370.60" y="229.30" font-size="8.2" fill="#f02828" font-weight="bold" textLength="16.4" lengthAdjust="spacingAndGlyphs" transform="rotate(-90 370.60 229.30)">1375</text>
<line x1="317.20" y1="371.40" x2="317.20" y2="373.80" stroke="#111" stroke-width="1" />
<text x="317.20" y="384.80" font-size="7.9" fill="#000" font-weight="bold" text-anchor="middle" textLength="17.9" lengthAdjust="spacingAndGlyphs">1650</text>
<line x1="343.22" y1="371.40" x2="343.22" y2="373.80" stroke="#111" stroke-width="1" />
<text x="343.22" y="384.80" font-size="7.9" fill="#000" font-weight="bold" text-anchor="middle" textLength="17.9" lengthAdjust="spacingAndGlyphs">1500</text>
<line x1="369.25" y1="371.40" x2="369.25" y2="373.80" stroke="#111" stroke-width="1" />
<text x="369.25" y="384.80" font-size="7.9" fill="#000" font-weight="bold" text-anchor="middle" textLength="17.9" lengthAdjust="spacingAndGlyphs">1350</text>
<text x="338.60" y="402.20" font-size="10.2" fill="#000" font-weight="bold" text-anchor="middle" textLength="85" lengthAdjust="spacingAndGlyphs">Wavenumber (cm<tspan font-size="6.5" dy="-4">-1</tspan><tspan dy="4">)</tspan></text>
<text x="290.10" y="284.35" font-size="11.3" fill="#000" font-weight="bold" text-anchor="middle" textLength="94.7" lengthAdjust="spacingAndGlyphs" transform="rotate(-90 290.10 284.35)">Absorbance (a.u.)</text>
<text x="422.40" y="210.60" font-size="16.5" fill="#000" font-weight="bold">f</text>
<defs>
<radialGradient id="gW" cx="0.38" cy="0.32" r="0.72"><stop offset="0" stop-color="#ffffff"/><stop offset="0.45" stop-color="#e4e4e4"/><stop offset="1" stop-color="#9a9a9a"/></radialGradient>
<radialGradient id="gR" cx="0.38" cy="0.32" r="0.72"><stop offset="0" stop-color="#ff9a9a"/><stop offset="0.4" stop-color="#e82020"/><stop offset="1" stop-color="#a00808"/></radialGradient>
<radialGradient id="gG" cx="0.38" cy="0.32" r="0.72"><stop offset="0" stop-color="#d0d0d0"/><stop offset="0.45" stop-color="#9c9c9c"/><stop offset="1" stop-color="#5e5e5e"/></radialGradient>
<radialGradient id="gD" cx="0.38" cy="0.32" r="0.72"><stop offset="0" stop-color="#9a9a9a"/><stop offset="0.45" stop-color="#505050"/><stop offset="1" stop-color="#222"/></radialGradient>
<radialGradient id="gB" cx="0.38" cy="0.32" r="0.72"><stop offset="0" stop-color="#b8e0ff"/><stop offset="0.45" stop-color="#4c9ce4"/><stop offset="1" stop-color="#1d5fa8"/></radialGradient>
<radialGradient id="gLB" cx="0.38" cy="0.32" r="0.72"><stop offset="0" stop-color="#e8f6ff"/><stop offset="0.45" stop-color="#a8d8f4"/><stop offset="1" stop-color="#6aa6cc"/></radialGradient>
<radialGradient id="gY" cx="0.4" cy="0.3" r="0.78"><stop offset="0" stop-color="#fbeab8"/><stop offset="0.4" stop-color="#ecc060"/><stop offset="0.8" stop-color="#d8a244"/><stop offset="1" stop-color="#b68a3a"/></radialGradient>
<radialGradient id="gH" cx="0.38" cy="0.32" r="0.72"><stop offset="0" stop-color="#ffffff"/><stop offset="0.5" stop-color="#c4e4ea"/><stop offset="1" stop-color="#80aebb"/></radialGradient>
<linearGradient id="fadeL" x1="0" x2="1" y1="0" y2="0"><stop offset="0" stop-color="#fff" stop-opacity="1"/><stop offset="0.55" stop-color="#fff" stop-opacity="0.75"/><stop offset="1" stop-color="#fff" stop-opacity="0"/></linearGradient>
<linearGradient id="fadeTop" x1="0" x2="1" y1="0" y2="0"><stop offset="0" stop-color="#fff" stop-opacity="0.9"/><stop offset="0.3" stop-color="#fff" stop-opacity="0.6"/><stop offset="1" stop-color="#fff" stop-opacity="0"/></linearGradient>
<linearGradient id="fadeR" x1="0" x2="1" y1="0" y2="0"><stop offset="0" stop-color="#fff" stop-opacity="0"/><stop offset="1" stop-color="#fff" stop-opacity="1"/></linearGradient>
<linearGradient id="shadow" x1="0" x2="0" y1="0" y2="1"><stop offset="0" stop-color="#9a9a9a" stop-opacity="0.55"/><stop offset="1" stop-color="#fff" stop-opacity="0"/></linearGradient>
<linearGradient id="cyanA" x1="0" x2="1" y1="0" y2="0"><stop offset="0" stop-color="#c8f4fa"/><stop offset="0.5" stop-color="#5fe0ee"/><stop offset="1" stop-color="#3fd6e8"/></linearGradient>
</defs>
<path d="M420,360 L680,360 L682,373 L425,373 Z" fill="url(#shadow)"/>
<path d="M452,292 L681,292 L684,321 L430,321 Z" fill="#e2e2e2"/>
<path d="M442,320 L684,320 L684,362 L420,362 Z" fill="#a9a9a9"/>
<rect x="420" y="359" width="264" height="5" fill="#cfcfcf"/>
<circle cx="455.96" cy="293.00" r="4.00" fill="url(#gW)"/>
<circle cx="462.76" cy="293.00" r="4.00" fill="url(#gG)"/>
<circle cx="470.96" cy="294.20" r="3.80" fill="url(#gW)"/>
<circle cx="478.56" cy="293.00" r="4.00" fill="url(#gG)"/>
<circle cx="485.36" cy="293.00" r="4.00" fill="url(#gW)"/>
<circle cx="492.16" cy="293.00" r="4.00" fill="url(#gG)"/>
<circle cx="500.36" cy="294.20" r="3.80" fill="url(#gW)"/>
<circle cx="507.96" cy="293.00" r="4.00" fill="url(#gD)"/>
<circle cx="514.76" cy="293.00" r="4.00" fill="url(#gW)"/>
<circle cx="521.56" cy="293.00" r="4.00" fill="url(#gR)"/>
<circle cx="529.76" cy="294.20" r="3.80" fill="url(#gW)"/>
<circle cx="537.36" cy="293.00" r="4.00" fill="url(#gR)"/>
<circle cx="544.16" cy="293.00" r="4.00" fill="url(#gB)"/>
<circle cx="550.96" cy="293.00" r="4.00" fill="url(#gR)"/>
<circle cx="559.16" cy="294.20" r="3.80" fill="url(#gW)"/>
<circle cx="566.76" cy="293.00" r="4.00" fill="url(#gR)"/>
<circle cx="573.56" cy="293.00" r="4.00" fill="url(#gW)"/>
<circle cx="580.36" cy="293.00" r="4.00" fill="url(#gD)"/>
<circle cx="588.56" cy="294.20" r="3.80" fill="url(#gW)"/>
<circle cx="596.16" cy="293.00" r="4.00" fill="url(#gG)"/>
<circle cx="602.96" cy="293.00" r="4.00" fill="url(#gB)"/>
<circle cx="609.76" cy="293.00" r="4.00" fill="url(#gR)"/>
<circle cx="617.96" cy="294.20" r="3.80" fill="url(#gW)"/>
<circle cx="625.56" cy="293.00" r="4.00" fill="url(#gG)"/>
<circle cx="632.36" cy="293.00" r="4.00" fill="url(#gW)"/>
<circle cx="639.16" cy="293.00" r="4.00" fill="url(#gR)"/>
<circle cx="647.36" cy="294.20" r="3.80" fill="url(#gW)"/>
<circle cx="654.96" cy="293.00" r="4.00" fill="url(#gR)"/>
<circle cx="661.76" cy="293.00" r="4.00" fill="url(#gB)"/>
<circle cx="668.56" cy="293.00" r="4.00" fill="url(#gR)"/>
<circle cx="676.76" cy="294.20" r="3.80" fill="url(#gW)"/>
<circle cx="684.36" cy="293.00" r="4.00" fill="url(#gR)"/>
<circle cx="691.16" cy="293.00" r="4.00" fill="url(#gB)"/>
<circle cx="697.96" cy="293.00" r="4.00" fill="url(#gR)"/>
<circle cx="706.16" cy="294.20" r="3.80" fill="url(#gW)"/>
<circle cx="713.76" cy="293.00" r="4.00" fill="url(#gR)"/>
<circle cx="720.56" cy="293.00" r="4.00" fill="url(#gW)"/>
<circle cx="727.36" cy="293.00" r="4.00" fill="url(#gR)"/>
<circle cx="735.56" cy="294.20" r="3.80" fill="url(#gW)"/>
<circle cx="743.16" cy="293.00" r="4.00" fill="url(#gR)"/>
<circle cx="749.96" cy="293.00" r="4.00" fill="url(#gW)"/>
<circle cx="756.76" cy="293.00" r="4.00" fill="url(#gR)"/>
<circle cx="764.96" cy="294.20" r="3.80" fill="url(#gW)"/>
<circle cx="772.56" cy="293.00" r="4.00" fill="url(#gR)"/>
<circle cx="779.36" cy="293.00" r="4.00" fill="url(#gW)"/>
<circle cx="786.16" cy="293.00" r="4.00" fill="url(#gR)"/>
<circle cx="794.36" cy="294.20" r="3.80" fill="url(#gW)"/>
<circle cx="801.96" cy="293.00" r="4.00" fill="url(#gD)"/>
<circle cx="808.76" cy="293.00" r="4.00" fill="url(#gW)"/>
<circle cx="815.56" cy="293.00" r="4.00" fill="url(#gR)"/>
<circle cx="448.58" cy="297.80" r="4.20" fill="url(#gR)"/>
<circle cx="455.38" cy="297.80" r="4.20" fill="url(#gLB)"/>
<circle cx="462.18" cy="297.80" r="4.20" fill="url(#gR)"/>
<circle cx="470.38" cy="299.00" r="3.99" fill="url(#gW)"/>
<circle cx="477.98" cy="297.80" r="4.20" fill="url(#gD)"/>
<circle cx="484.78" cy="297.80" r="4.20" fill="url(#gLB)"/>
<circle cx="491.58" cy="297.80" r="4.20" fill="url(#gR)"/>
<circle cx="499.78" cy="299.00" r="3.99" fill="url(#gW)"/>
<circle cx="507.38" cy="297.80" r="4.20" fill="url(#gR)"/>
<circle cx="514.18" cy="297.80" r="4.20" fill="url(#gLB)"/>
<circle cx="520.98" cy="297.80" r="4.20" fill="url(#gR)"/>
<circle cx="529.18" cy="299.00" r="3.99" fill="url(#gW)"/>
<circle cx="536.78" cy="297.80" r="4.20" fill="url(#gD)"/>
<circle cx="543.58" cy="297.80" r="4.20" fill="url(#gLB)"/>
<circle cx="550.38" cy="297.80" r="4.20" fill="url(#gR)"/>
<circle cx="558.58" cy="299.00" r="3.99" fill="url(#gW)"/>
<circle cx="566.18" cy="297.80" r="4.20" fill="url(#gR)"/>
<circle cx="572.98" cy="297.80" r="4.20" fill="url(#gLB)"/>
<circle cx="579.78" cy="297.80" r="4.20" fill="url(#gG)"/>
<circle cx="587.98" cy="299.00" r="3.99" fill="url(#gW)"/>
<circle cx="595.58" cy="297.80" r="4.20" fill="url(#gR)"/>
<circle cx="602.38" cy="297.80" r="4.20" fill="url(#gLB)"/>
<circle cx="609.18" cy="297.80" r="4.20" fill="url(#gR)"/>
<circle cx="617.38" cy="299.00" r="3.99" fill="url(#gW)"/>
<circle cx="624.98" cy="297.80" r="4.20" fill="url(#gD)"/>
<circle cx="631.78" cy="297.80" r="4.20" fill="url(#gLB)"/>
<circle cx="638.58" cy="297.80" r="4.20" fill="url(#gR)"/>
<circle cx="646.78" cy="299.00" r="3.99" fill="url(#gW)"/>
<circle cx="654.38" cy="297.80" r="4.20" fill="url(#gR)"/>
<circle cx="661.18" cy="297.80" r="4.20" fill="url(#gLB)"/>
<circle cx="667.98" cy="297.80" r="4.20" fill="url(#gR)"/>
<circle cx="676.18" cy="299.00" r="3.99" fill="url(#gW)"/>
<circle cx="683.78" cy="297.80" r="4.20" fill="url(#gR)"/>
<circle cx="690.58" cy="297.80" r="4.20" fill="url(#gW)"/>
<circle cx="697.38" cy="297.80" r="4.20" fill="url(#gR)"/>
<circle cx="705.58" cy="299.00" r="3.99" fill="url(#gW)"/>
<circle cx="713.18" cy="297.80" r="4.20" fill="url(#gR)"/>
<circle cx="719.98" cy="297.80" r="4.20" fill="url(#gLB)"/>
<circle cx="726.78" cy="297.80" r="4.20" fill="url(#gR)"/>
<circle cx="734.98" cy="299.00" r="3.99" fill="url(#gW)"/>
<circle cx="742.58" cy="297.80" r="4.20" fill="url(#gR)"/>
<circle cx="749.38" cy="297.80" r="4.20" fill="url(#gLB)"/>
<circle cx="756.18" cy="297.80" r="4.20" fill="url(#gR)"/>
<circle cx="764.38" cy="299.00" r="3.99" fill="url(#gW)"/>
<circle cx="771.98" cy="297.80" r="4.20" fill="url(#gR)"/>
<circle cx="778.78" cy="297.80" r="4.20" fill="url(#gLB)"/>
<circle cx="785.58" cy="297.80" r="4.20" fill="url(#gD)"/>
<circle cx="793.78" cy="299.00" r="3.99" fill="url(#gW)"/>
<circle cx="801.38" cy="297.80" r="4.20" fill="url(#gR)"/>
<circle cx="808.18" cy="297.80" r="4.20" fill="url(#gLB)"/>
<circle cx="814.98" cy="297.80" r="4.20" fill="url(#gR)"/>
<circle cx="448.01" cy="302.60" r="4.39" fill="url(#gR)"/>
<circle cx="454.81" cy="302.60" r="4.39" fill="url(#gW)"/>
<circle cx="461.61" cy="302.60" r="4.39" fill="url(#gR)"/>
<circle cx="469.81" cy="303.80" r="4.17" fill="url(#gW)"/>
<circle cx="477.41" cy="302.60" r="4.39" fill="url(#gR)"/>
<circle cx="484.21" cy="302.60" r="4.39" fill="url(#gW)"/>
<circle cx="491.01" cy="302.60" r="4.39" fill="url(#gR)"/>
<circle cx="499.21" cy="303.80" r="4.17" fill="url(#gW)"/>
<circle cx="506.81" cy="302.60" r="4.39" fill="url(#gG)"/>
<circle cx="513.61" cy="302.60" r="4.39" fill="url(#gW)"/>
<circle cx="520.41" cy="302.60" r="4.39" fill="url(#gR)"/>
<circle cx="528.61" cy="303.80" r="4.17" fill="url(#gW)"/>
<circle cx="536.21" cy="302.60" r="4.39" fill="url(#gG)"/>
<circle cx="543.01" cy="302.60" r="4.39" fill="url(#gW)"/>
<circle cx="549.81" cy="302.60" r="4.39" fill="url(#gD)"/>
<circle cx="558.01" cy="303.80" r="4.17" fill="url(#gW)"/>
<circle cx="565.61" cy="302.60" r="4.39" fill="url(#gR)"/>
<circle cx="572.41" cy="302.60" r="4.39" fill="url(#gW)"/>
<circle cx="579.21" cy="302.60" r="4.39" fill="url(#gR)"/>
<circle cx="587.41" cy="303.80" r="4.17" fill="url(#gW)"/>
<circle cx="595.01" cy="302.60" r="4.39" fill="url(#gG)"/>
<circle cx="601.81" cy="302.60" r="4.39" fill="url(#gW)"/>
<circle cx="608.61" cy="302.60" r="4.39" fill="url(#gR)"/>
<circle cx="616.81" cy="303.80" r="4.17" fill="url(#gW)"/>
<circle cx="624.41" cy="302.60" r="4.39" fill="url(#gR)"/>
<circle cx="631.21" cy="302.60" r="4.39" fill="url(#gW)"/>
<circle cx="638.01" cy="302.60" r="4.39" fill="url(#gR)"/>
<circle cx="646.21" cy="303.80" r="4.17" fill="url(#gW)"/>
<circle cx="653.81" cy="302.60" r="4.39" fill="url(#gR)"/>
<circle cx="660.61" cy="302.60" r="4.39" fill="url(#gW)"/>
<circle cx="667.41" cy="302.60" r="4.39" fill="url(#gR)"/>
<circle cx="675.61" cy="303.80" r="4.17" fill="url(#gW)"/>
<circle cx="683.21" cy="302.60" r="4.39" fill="url(#gR)"/>
<circle cx="690.01" cy="302.60" r="4.39" fill="url(#gW)"/>
<circle cx="696.81" cy="302.60" r="4.39" fill="url(#gR)"/>
<circle cx="705.01" cy="303.80" r="4.17" fill="url(#gW)"/>
<circle cx="712.61" cy="302.60" r="4.39" fill="url(#gR)"/>
<circle cx="719.41" cy="302.60" r="4.39" fill="url(#gB)"/>
<circle cx="726.21" cy="302.60" r="4.39" fill="url(#gG)"/>
<circle cx="734.41" cy="303.80" r="4.17" fill="url(#gW)"/>
<circle cx="742.01" cy="302.60" r="4.39" fill="url(#gR)"/>
<circle cx="748.81" cy="302.60" r="4.39" fill="url(#gW)"/>
<circle cx="755.61" cy="302.60" r="4.39" fill="url(#gR)"/>
<circle cx="763.81" cy="303.80" r="4.17" fill="url(#gW)"/>
<circle cx="771.41" cy="302.60" r="4.39" fill="url(#gG)"/>
<circle cx="778.21" cy="302.60" r="4.39" fill="url(#gW)"/>
<circle cx="785.01" cy="302.60" r="4.39" fill="url(#gD)"/>
<circle cx="793.21" cy="303.80" r="4.17" fill="url(#gW)"/>
<circle cx="800.81" cy="302.60" r="4.39" fill="url(#gR)"/>
<circle cx="807.61" cy="302.60" r="4.39" fill="url(#gW)"/>
<circle cx="814.41" cy="302.60" r="4.39" fill="url(#gR)"/>
<circle cx="447.42" cy="307.50" r="4.59" fill="url(#gD)"/>
<circle cx="454.22" cy="307.50" r="4.59" fill="url(#gLB)"/>
<circle cx="461.02" cy="307.50" r="4.59" fill="url(#gR)"/>
<circle cx="469.22" cy="308.70" r="4.36" fill="url(#gW)"/>
<circle cx="476.82" cy="307.50" r="4.59" fill="url(#gR)"/>
<circle cx="483.62" cy="307.50" r="4.59" fill="url(#gB)"/>
<circle cx="490.42" cy="307.50" r="4.59" fill="url(#gR)"/>
<circle cx="498.62" cy="308.70" r="4.36" fill="url(#gW)"/>
<circle cx="506.22" cy="307.50" r="4.59" fill="url(#gR)"/>
<circle cx="513.02" cy="307.50" r="4.59" fill="url(#gLB)"/>
<circle cx="519.82" cy="307.50" r="4.59" fill="url(#gR)"/>
<circle cx="528.02" cy="308.70" r="4.36" fill="url(#gW)"/>
<circle cx="535.62" cy="307.50" r="4.59" fill="url(#gR)"/>
<circle cx="542.42" cy="307.50" r="4.59" fill="url(#gLB)"/>
<circle cx="549.22" cy="307.50" r="4.59" fill="url(#gR)"/>
<circle cx="557.42" cy="308.70" r="4.36" fill="url(#gW)"/>
<circle cx="565.02" cy="307.50" r="4.59" fill="url(#gR)"/>
<circle cx="571.82" cy="307.50" r="4.59" fill="url(#gLB)"/>
<circle cx="578.62" cy="307.50" r="4.59" fill="url(#gR)"/>
<circle cx="586.82" cy="308.70" r="4.36" fill="url(#gW)"/>
<circle cx="594.42" cy="307.50" r="4.59" fill="url(#gR)"/>
<circle cx="601.22" cy="307.50" r="4.59" fill="url(#gLB)"/>
<circle cx="608.02" cy="307.50" r="4.59" fill="url(#gR)"/>
<circle cx="616.22" cy="308.70" r="4.36" fill="url(#gW)"/>
<circle cx="623.82" cy="307.50" r="4.59" fill="url(#gD)"/>
<circle cx="630.62" cy="307.50" r="4.59" fill="url(#gLB)"/>
<circle cx="637.42" cy="307.50" r="4.59" fill="url(#gR)"/>
<circle cx="645.62" cy="308.70" r="4.36" fill="url(#gW)"/>
<circle cx="653.22" cy="307.50" r="4.59" fill="url(#gR)"/>
<circle cx="660.02" cy="307.50" r="4.59" fill="url(#gLB)"/>
<circle cx="666.82" cy="307.50" r="4.59" fill="url(#gR)"/>
<circle cx="675.02" cy="308.70" r="4.36" fill="url(#gW)"/>
<circle cx="682.62" cy="307.50" r="4.59" fill="url(#gR)"/>
<circle cx="689.42" cy="307.50" r="4.59" fill="url(#gLB)"/>
<circle cx="696.22" cy="307.50" r="4.59" fill="url(#gR)"/>
<circle cx="704.42" cy="308.70" r="4.36" fill="url(#gW)"/>
<circle cx="712.02" cy="307.50" r="4.59" fill="url(#gR)"/>
<circle cx="718.82" cy="307.50" r="4.59" fill="url(#gLB)"/>
<circle cx="725.62" cy="307.50" r="4.59" fill="url(#gG)"/>
<circle cx="733.82" cy="308.70" r="4.36" fill="url(#gW)"/>
<circle cx="741.42" cy="307.50" r="4.59" fill="url(#gR)"/>
<circle cx="748.22" cy="307.50" r="4.59" fill="url(#gLB)"/>
<circle cx="755.02" cy="307.50" r="4.59" fill="url(#gR)"/>
<circle cx="763.22" cy="308.70" r="4.36" fill="url(#gW)"/>
<circle cx="770.82" cy="307.50" r="4.59" fill="url(#gR)"/>
<circle cx="777.62" cy="307.50" r="4.59" fill="url(#gLB)"/>
<circle cx="784.42" cy="307.50" r="4.59" fill="url(#gG)"/>
<circle cx="792.62" cy="308.70" r="4.36" fill="url(#gW)"/>
<circle cx="800.22" cy="307.50" r="4.59" fill="url(#gR)"/>
<circle cx="807.02" cy="307.50" r="4.59" fill="url(#gLB)"/>
<circle cx="813.82" cy="307.50" r="4.59" fill="url(#gD)"/>
<circle cx="439.23" cy="313.60" r="4.56" fill="url(#gW)"/>
<circle cx="446.83" cy="312.40" r="4.80" fill="url(#gR)"/>
<circle cx="453.63" cy="312.40" r="4.80" fill="url(#gW)"/>
<circle cx="460.43" cy="312.40" r="4.80" fill="url(#gR)"/>
<circle cx="468.63" cy="313.60" r="4.56" fill="url(#gW)"/>
<circle cx="476.23" cy="312.40" r="4.80" fill="url(#gR)"/>
<circle cx="483.03" cy="312.40" r="4.80" fill="url(#gW)"/>
<circle cx="489.83" cy="312.40" r="4.80" fill="url(#gR)"/>
<circle cx="498.03" cy="313.60" r="4.56" fill="url(#gW)"/>
<circle cx="505.63" cy="312.40" r="4.80" fill="url(#gR)"/>
<circle cx="512.43" cy="312.40" r="4.80" fill="url(#gW)"/>
<circle cx="519.23" cy="312.40" r="4.80" fill="url(#gR)"/>
<circle cx="527.43" cy="313.60" r="4.56" fill="url(#gW)"/>
<circle cx="535.03" cy="312.40" r="4.80" fill="url(#gR)"/>
<circle cx="541.83" cy="312.40" r="4.80" fill="url(#gW)"/>
<circle cx="548.63" cy="312.40" r="4.80" fill="url(#gR)"/>
<circle cx="556.83" cy="313.60" r="4.56" fill="url(#gW)"/>
<circle cx="564.43" cy="312.40" r="4.80" fill="url(#gR)"/>
<circle cx="571.23" cy="312.40" r="4.80" fill="url(#gW)"/>
<circle cx="578.03" cy="312.40" r="4.80" fill="url(#gR)"/>
<circle cx="586.23" cy="313.60" r="4.56" fill="url(#gW)"/>
<circle cx="593.83" cy="312.40" r="4.80" fill="url(#gG)"/>
<circle cx="600.63" cy="312.40" r="4.80" fill="url(#gW)"/>
<circle cx="607.43" cy="312.40" r="4.80" fill="url(#gR)"/>
<circle cx="615.63" cy="313.60" r="4.56" fill="url(#gW)"/>
<circle cx="623.23" cy="312.40" r="4.80" fill="url(#gR)"/>
<circle cx="630.03" cy="312.40" r="4.80" fill="url(#gW)"/>
<circle cx="636.83" cy="312.40" r="4.80" fill="url(#gD)"/>
<circle cx="645.03" cy="313.60" r="4.56" fill="url(#gW)"/>
<circle cx="652.63" cy="312.40" r="4.80" fill="url(#gD)"/>
<circle cx="659.43" cy="312.40" r="4.80" fill="url(#gW)"/>
<circle cx="666.23" cy="312.40" r="4.80" fill="url(#gR)"/>
<circle cx="674.43" cy="313.60" r="4.56" fill="url(#gW)"/>
<circle cx="682.03" cy="312.40" r="4.80" fill="url(#gG)"/>
<circle cx="688.83" cy="312.40" r="4.80" fill="url(#gW)"/>
<circle cx="695.63" cy="312.40" r="4.80" fill="url(#gG)"/>
<circle cx="703.83" cy="313.60" r="4.56" fill="url(#gW)"/>
<circle cx="711.43" cy="312.40" r="4.80" fill="url(#gR)"/>
<circle cx="718.23" cy="312.40" r="4.80" fill="url(#gW)"/>
<circle cx="725.03" cy="312.40" r="4.80" fill="url(#gR)"/>
<circle cx="733.23" cy="313.60" r="4.56" fill="url(#gW)"/>
<circle cx="740.83" cy="312.40" r="4.80" fill="url(#gR)"/>
<circle cx="747.63" cy="312.40" r="4.80" fill="url(#gW)"/>
<circle cx="754.43" cy="312.40" r="4.80" fill="url(#gR)"/>
<circle cx="762.63" cy="313.60" r="4.56" fill="url(#gW)"/>
<circle cx="770.23" cy="312.40" r="4.80" fill="url(#gR)"/>
<circle cx="777.03" cy="312.40" r="4.80" fill="url(#gW)"/>
<circle cx="783.83" cy="312.40" r="4.80" fill="url(#gR)"/>
<circle cx="792.03" cy="313.60" r="4.56" fill="url(#gW)"/>
<circle cx="799.63" cy="312.40" r="4.80" fill="url(#gG)"/>
<circle cx="806.43" cy="312.40" r="4.80" fill="url(#gW)"/>
<circle cx="813.23" cy="312.40" r="4.80" fill="url(#gR)"/>
<circle cx="438.63" cy="318.60" r="4.75" fill="url(#gW)"/>
<circle cx="446.23" cy="317.40" r="5.00" fill="url(#gR)"/>
<circle cx="453.03" cy="317.40" r="5.00" fill="url(#gLB)"/>
<circle cx="459.83" cy="317.40" r="5.00" fill="url(#gR)"/>
<circle cx="468.03" cy="318.60" r="4.75" fill="url(#gW)"/>
<circle cx="475.63" cy="317.40" r="5.00" fill="url(#gR)"/>
<circle cx="482.43" cy="317.40" r="5.00" fill="url(#gLB)"/>
<circle cx="489.23" cy="317.40" r="5.00" fill="url(#gR)"/>
<circle cx="497.43" cy="318.60" r="4.75" fill="url(#gW)"/>
<circle cx="505.03" cy="317.40" r="5.00" fill="url(#gR)"/>
<circle cx="511.83" cy="317.40" r="5.00" fill="url(#gLB)"/>
<circle cx="518.63" cy="317.40" r="5.00" fill="url(#gR)"/>
<circle cx="526.83" cy="318.60" r="4.75" fill="url(#gW)"/>
<circle cx="534.43" cy="317.40" r="5.00" fill="url(#gR)"/>
<circle cx="541.23" cy="317.40" r="5.00" fill="url(#gW)"/>
<circle cx="548.03" cy="317.40" r="5.00" fill="url(#gR)"/>
<circle cx="556.23" cy="318.60" r="4.75" fill="url(#gW)"/>
<circle cx="563.83" cy="317.40" r="5.00" fill="url(#gR)"/>
<circle cx="570.63" cy="317.40" r="5.00" fill="url(#gLB)"/>
<circle cx="577.43" cy="317.40" r="5.00" fill="url(#gR)"/>
<circle cx="585.63" cy="318.60" r="4.75" fill="url(#gW)"/>
<circle cx="593.23" cy="317.40" r="5.00" fill="url(#gR)"/>
<circle cx="600.03" cy="317.40" r="5.00" fill="url(#gLB)"/>
<circle cx="606.83" cy="317.40" r="5.00" fill="url(#gG)"/>
<circle cx="615.03" cy="318.60" r="4.75" fill="url(#gW)"/>
<circle cx="622.63" cy="317.40" r="5.00" fill="url(#gR)"/>
<circle cx="629.43" cy="317.40" r="5.00" fill="url(#gW)"/>
<circle cx="636.23" cy="317.40" r="5.00" fill="url(#gR)"/>
<circle cx="644.43" cy="318.60" r="4.75" fill="url(#gW)"/>
<circle cx="652.03" cy="317.40" r="5.00" fill="url(#gR)"/>
<circle cx="658.83" cy="317.40" r="5.00" fill="url(#gLB)"/>
<circle cx="665.63" cy="317.40" r="5.00" fill="url(#gG)"/>
<circle cx="673.83" cy="318.60" r="4.75" fill="url(#gW)"/>
<circle cx="681.43" cy="317.40" r="5.00" fill="url(#gR)"/>
<circle cx="688.23" cy="317.40" r="5.00" fill="url(#gLB)"/>
<circle cx="695.03" cy="317.40" r="5.00" fill="url(#gR)"/>
<circle cx="703.23" cy="318.60" r="4.75" fill="url(#gW)"/>
<circle cx="710.83" cy="317.40" r="5.00" fill="url(#gR)"/>
<circle cx="717.63" cy="317.40" r="5.00" fill="url(#gLB)"/>
<circle cx="724.43" cy="317.40" r="5.00" fill="url(#gR)"/>
<circle cx="732.63" cy="318.60" r="4.75" fill="url(#gW)"/>
<circle cx="740.23" cy="317.40" r="5.00" fill="url(#gR)"/>
<circle cx="747.03" cy="317.40" r="5.00" fill="url(#gB)"/>
<circle cx="753.83" cy="317.40" r="5.00" fill="url(#gR)"/>
<circle cx="762.03" cy="318.60" r="4.75" fill="url(#gW)"/>
<circle cx="769.63" cy="317.40" r="5.00" fill="url(#gR)"/>
<circle cx="776.43" cy="317.40" r="5.00" fill="url(#gLB)"/>
<circle cx="783.23" cy="317.40" r="5.00" fill="url(#gR)"/>
<circle cx="791.43" cy="318.60" r="4.75" fill="url(#gW)"/>
<circle cx="799.03" cy="317.40" r="5.00" fill="url(#gR)"/>
<circle cx="805.83" cy="317.40" r="5.00" fill="url(#gLB)"/>
<circle cx="812.63" cy="317.40" r="5.00" fill="url(#gR)"/>
<path d="M440,286 L540,286 L540,322 L418,322 Z" fill="url(#fadeTop)"/>
<circle cx="453.60" cy="324.20" r="5.30" fill="url(#gG)"/>
<circle cx="470.80" cy="324.20" r="5.30" fill="url(#gW)"/>
<circle cx="488.00" cy="324.20" r="5.30" fill="url(#gD)"/>
<circle cx="505.20" cy="324.20" r="5.30" fill="url(#gW)"/>
<circle cx="522.40" cy="324.20" r="5.30" fill="url(#gW)"/>
<circle cx="539.60" cy="324.20" r="5.30" fill="url(#gB)"/>
<circle cx="556.80" cy="324.20" r="5.30" fill="url(#gW)"/>
<circle cx="574.00" cy="324.20" r="5.30" fill="url(#gW)"/>
<circle cx="591.20" cy="324.20" r="5.30" fill="url(#gG)"/>
<circle cx="608.40" cy="324.20" r="5.30" fill="url(#gW)"/>
<circle cx="625.60" cy="324.20" r="5.30" fill="url(#gW)"/>
<circle cx="642.80" cy="324.20" r="5.30" fill="url(#gD)"/>
<circle cx="660.00" cy="324.20" r="5.30" fill="url(#gW)"/>
<circle cx="677.20" cy="324.20" r="5.30" fill="url(#gW)"/>
<circle cx="445.00" cy="327.20" r="5.00" fill="url(#gR)"/>
<circle cx="462.20" cy="327.20" r="5.00" fill="url(#gR)"/>
<circle cx="479.40" cy="327.20" r="5.00" fill="url(#gR)"/>
<circle cx="496.60" cy="327.20" r="5.00" fill="url(#gD)"/>
<circle cx="513.80" cy="327.20" r="5.00" fill="url(#gB)"/>
<circle cx="531.00" cy="327.20" r="5.00" fill="url(#gR)"/>
<circle cx="548.20" cy="327.20" r="5.00" fill="url(#gR)"/>
<circle cx="565.40" cy="327.20" r="5.00" fill="url(#gR)"/>
<circle cx="582.60" cy="327.20" r="5.00" fill="url(#gR)"/>
<circle cx="599.80" cy="327.20" r="5.00" fill="url(#gB)"/>
<circle cx="617.00" cy="327.20" r="5.00" fill="url(#gR)"/>
<circle cx="634.20" cy="327.20" r="5.00" fill="url(#gD)"/>
<circle cx="651.40" cy="327.20" r="5.00" fill="url(#gR)"/>
<circle cx="668.60" cy="327.20" r="5.00" fill="url(#gR)"/>
<circle cx="685.80" cy="327.20" r="5.00" fill="url(#gR)"/>
<circle cx="436.40" cy="335.40" r="5.00" fill="url(#gR)"/>
<circle cx="453.60" cy="335.40" r="5.00" fill="url(#gR)"/>
<circle cx="470.80" cy="335.40" r="5.00" fill="url(#gR)"/>
<circle cx="488.00" cy="335.40" r="5.00" fill="url(#gR)"/>
<circle cx="505.20" cy="335.40" r="5.00" fill="url(#gR)"/>
<circle cx="522.40" cy="335.40" r="5.00" fill="url(#gR)"/>
<circle cx="539.60" cy="335.40" r="5.00" fill="url(#gR)"/>
<circle cx="556.80" cy="335.40" r="5.00" fill="url(#gR)"/>
<circle cx="574.00" cy="335.40" r="5.00" fill="url(#gR)"/>
<circle cx="591.20" cy="335.40" r="5.00" fill="url(#gR)"/>
<circle cx="608.40" cy="335.40" r="5.00" fill="url(#gR)"/>
<circle cx="625.60" cy="335.40" r="5.00" fill="url(#gR)"/>
<circle cx="642.80" cy="335.40" r="5.00" fill="url(#gR)"/>
<circle cx="660.00" cy="335.40" r="5.00" fill="url(#gR)"/>
<circle cx="677.20" cy="335.40" r="5.00" fill="url(#gR)"/>
<circle cx="445.00" cy="339.40" r="7.20" fill="url(#gW)"/>
<circle cx="462.20" cy="339.40" r="7.20" fill="url(#gW)"/>
<circle cx="479.40" cy="339.40" r="7.20" fill="url(#gW)"/>
<circle cx="496.60" cy="339.40" r="7.20" fill="url(#gW)"/>
<circle cx="513.80" cy="339.40" r="7.20" fill="url(#gB)"/>
<circle cx="531.00" cy="339.40" r="7.20" fill="url(#gW)"/>
<circle cx="548.20" cy="339.40" r="7.20" fill="url(#gW)"/>
<circle cx="565.40" cy="339.40" r="7.20" fill="url(#gW)"/>
<circle cx="582.60" cy="339.40" r="7.20" fill="url(#gW)"/>
<circle cx="599.80" cy="339.40" r="7.20" fill="url(#gW)"/>
<circle cx="617.00" cy="339.40" r="7.20" fill="url(#gW)"/>
<circle cx="634.20" cy="339.40" r="7.20" fill="url(#gW)"/>
<circle cx="651.40" cy="339.40" r="7.20" fill="url(#gW)"/>
<circle cx="668.60" cy="339.40" r="7.20" fill="url(#gW)"/>
<circle cx="685.80" cy="339.40" r="7.20" fill="url(#gW)"/>
<circle cx="436.40" cy="348.60" r="5.30" fill="url(#gD)"/>
<circle cx="453.60" cy="348.60" r="5.30" fill="url(#gG)"/>
<circle cx="470.80" cy="348.60" r="5.30" fill="url(#gG)"/>
<circle cx="488.00" cy="348.60" r="5.30" fill="url(#gG)"/>
<circle cx="505.20" cy="348.60" r="5.30" fill="url(#gG)"/>
<circle cx="522.40" cy="348.60" r="5.30" fill="url(#gD)"/>
<circle cx="539.60" cy="348.60" r="5.30" fill="url(#gG)"/>
<circle cx="556.80" cy="348.60" r="5.30" fill="url(#gG)"/>
<circle cx="574.00" cy="348.60" r="5.30" fill="url(#gD)"/>
<circle cx="591.20" cy="348.60" r="5.30" fill="url(#gG)"/>
<circle cx="608.40" cy="348.60" r="5.30" fill="url(#gG)"/>
<circle cx="625.60" cy="348.60" r="5.30" fill="url(#gG)"/>
<circle cx="642.80" cy="348.60" r="5.30" fill="url(#gG)"/>
<circle cx="660.00" cy="348.60" r="5.30" fill="url(#gD)"/>
<circle cx="677.20" cy="348.60" r="5.30" fill="url(#gG)"/>
<circle cx="427.80" cy="350.40" r="5.00" fill="url(#gR)"/>
<circle cx="445.00" cy="350.40" r="5.00" fill="url(#gR)"/>
<circle cx="462.20" cy="350.40" r="5.00" fill="url(#gR)"/>
<circle cx="479.40" cy="350.40" r="5.00" fill="url(#gR)"/>
<circle cx="496.60" cy="350.40" r="5.00" fill="url(#gR)"/>
<circle cx="513.80" cy="350.40" r="5.00" fill="url(#gR)"/>
<circle cx="531.00" cy="350.40" r="5.00" fill="url(#gR)"/>
<circle cx="548.20" cy="350.40" r="5.00" fill="url(#gR)"/>
<circle cx="565.40" cy="350.40" r="5.00" fill="url(#gR)"/>
<circle cx="582.60" cy="350.40" r="5.00" fill="url(#gR)"/>
<circle cx="599.80" cy="350.40" r="5.00" fill="url(#gR)"/>
<circle cx="617.00" cy="350.40" r="5.00" fill="url(#gR)"/>
<circle cx="634.20" cy="350.40" r="5.00" fill="url(#gR)"/>
<circle cx="651.40" cy="350.40" r="5.00" fill="url(#gR)"/>
<circle cx="668.60" cy="350.40" r="5.00" fill="url(#gR)"/>
<circle cx="685.80" cy="350.40" r="5.00" fill="url(#gR)"/>
<circle cx="427.80" cy="356.40" r="5.00" fill="url(#gG)"/>
<circle cx="445.00" cy="356.40" r="5.00" fill="url(#gD)"/>
<circle cx="462.20" cy="356.40" r="5.00" fill="url(#gG)"/>
<circle cx="479.40" cy="356.40" r="5.00" fill="url(#gG)"/>
<circle cx="496.60" cy="356.40" r="5.00" fill="url(#gG)"/>
<circle cx="513.80" cy="356.40" r="5.00" fill="url(#gD)"/>
<circle cx="531.00" cy="356.40" r="5.00" fill="url(#gG)"/>
<circle cx="548.20" cy="356.40" r="5.00" fill="url(#gG)"/>
<circle cx="565.40" cy="356.40" r="5.00" fill="url(#gG)"/>
<circle cx="582.60" cy="356.40" r="5.00" fill="url(#gD)"/>
<circle cx="599.80" cy="356.40" r="5.00" fill="url(#gG)"/>
<circle cx="617.00" cy="356.40" r="5.00" fill="url(#gG)"/>
<circle cx="634.20" cy="356.40" r="5.00" fill="url(#gG)"/>
<circle cx="651.40" cy="356.40" r="5.00" fill="url(#gD)"/>
<circle cx="668.60" cy="356.40" r="5.00" fill="url(#gG)"/>
<circle cx="685.80" cy="356.40" r="5.00" fill="url(#gG)"/>
<circle cx="436.40" cy="357.00" r="6.60" fill="url(#gW)"/>
<circle cx="470.80" cy="357.00" r="6.60" fill="url(#gW)"/>
<circle cx="505.20" cy="357.00" r="6.60" fill="url(#gW)"/>
<circle cx="539.60" cy="357.00" r="6.60" fill="url(#gB)"/>
<circle cx="574.00" cy="357.00" r="6.60" fill="url(#gW)"/>
<circle cx="608.40" cy="357.00" r="6.60" fill="url(#gB)"/>
<circle cx="642.80" cy="357.00" r="6.60" fill="url(#gB)"/>
<circle cx="677.20" cy="357.00" r="6.60" fill="url(#gW)"/>
<circle cx="419.20" cy="358.40" r="4.60" fill="url(#gR)"/>
<circle cx="453.60" cy="358.40" r="4.60" fill="url(#gR)"/>
<circle cx="488.00" cy="358.40" r="4.60" fill="url(#gR)"/>
<circle cx="522.40" cy="358.40" r="4.60" fill="url(#gR)"/>
<circle cx="556.80" cy="358.40" r="4.60" fill="url(#gR)"/>
<circle cx="591.20" cy="358.40" r="4.60" fill="url(#gR)"/>
<circle cx="625.60" cy="358.40" r="4.60" fill="url(#gR)"/>
<circle cx="660.00" cy="358.40" r="4.60" fill="url(#gR)"/>
<rect x="404" y="318" width="34" height="57" fill="url(#fadeL)"/>
<path d="M398,282 L462,282 L440,322 L398,322 Z" fill="#fff" opacity="0.7"/>
<rect x="640" y="285" width="45" height="90" fill="url(#fadeR)"/>
<circle cx="482.00" cy="274.00" r="10.00" fill="url(#gY)"/>
<circle cx="498.40" cy="273.10" r="10.00" fill="url(#gY)"/>
<circle cx="510.40" cy="283.50" r="9.40" fill="url(#gY)"/>
<circle cx="519.00" cy="296.50" r="9.40" fill="url(#gY)"/>
<circle cx="470.70" cy="295.60" r="10.00" fill="url(#gY)"/>
<circle cx="487.10" cy="296.50" r="10.00" fill="url(#gY)"/>
<circle cx="504.00" cy="293.00" r="9.80" fill="url(#gY)"/>
<circle cx="463.00" cy="310.30" r="10.00" fill="url(#gY)"/>
<circle cx="479.40" cy="310.50" r="10.00" fill="url(#gY)"/>
<circle cx="495.80" cy="310.50" r="10.00" fill="url(#gY)"/>
<circle cx="514.00" cy="309.40" r="9.80" fill="url(#gY)"/>
<path d="M492,290 C500,300 506,306 510,318" fill="none" stroke="#8fa4ac" stroke-width="3.2" stroke-linecap="round"/>
<path d="M492,290 C500,300 506,306 510,318" fill="none" stroke="#f4f8fa" stroke-width="1.8" stroke-linecap="round"/>
<path d="M496,286 C506,298 514,306 518,318" fill="none" stroke="#8fa4ac" stroke-width="3.2" stroke-linecap="round"/>
<path d="M496,286 C506,298 514,306 518,318" fill="none" stroke="#f4f8fa" stroke-width="1.8" stroke-linecap="round"/>
<path d="M508,276 C518,292 540,306 556,316" fill="none" stroke="#8fa4ac" stroke-width="3.2" stroke-linecap="round"/>
<path d="M508,276 C518,292 540,306 556,316" fill="none" stroke="#f4f8fa" stroke-width="1.8" stroke-linecap="round"/>
<path d="M512,274 C524,292 546,304 562,314" fill="none" stroke="#8fa4ac" stroke-width="3.2" stroke-linecap="round"/>
<path d="M512,274 C524,292 546,304 562,314" fill="none" stroke="#f4f8fa" stroke-width="1.8" stroke-linecap="round"/>
<path d="M507,316 L513,322 L516,314 Z" fill="#8fa4ac"/>
<path d="M553,312 L561,318 L561,309 Z" fill="#8fa4ac"/>
<circle cx="484.0" cy="285.5" r="3.2" fill="#f4f4f4" stroke="#666" stroke-width="0.5"/>
<text x="484.00" y="287.40" font-size="5.2" fill="#111" font-weight="bold" text-anchor="middle">H</text>
<circle cx="483.5" cy="304.0" r="3.2" fill="#f4f4f4" stroke="#666" stroke-width="0.5"/>
<text x="483.50" y="305.90" font-size="5.2" fill="#111" font-weight="bold" text-anchor="middle">H</text>
<circle cx="497.0" cy="311.5" r="3.2" fill="#f4f4f4" stroke="#666" stroke-width="0.5"/>
<text x="497.00" y="313.40" font-size="5.2" fill="#111" font-weight="bold" text-anchor="middle">H</text>
<circle cx="520.0" cy="286.0" r="3.2" fill="#f4f4f4" stroke="#666" stroke-width="0.5"/>
<text x="520.00" y="287.90" font-size="5.2" fill="#111" font-weight="bold" text-anchor="middle">H</text>
<circle cx="532.0" cy="309.0" r="3.2" fill="#f4f4f4" stroke="#666" stroke-width="0.5"/>
<text x="532.00" y="310.90" font-size="5.2" fill="#111" font-weight="bold" text-anchor="middle">H</text>
<text x="502.00" y="284.50" font-size="6.4" fill="#111" font-weight="bold" textLength="28" lengthAdjust="spacingAndGlyphs" transform="rotate(60 502.00 284.50)">Spillover</text>
<text x="563.00" y="334.00" font-size="6.0" fill="#111" font-weight="bold" textLength="8" lengthAdjust="spacingAndGlyphs">Ov</text>
<path d="M455,268 C470,284 500,288 520,262" fill="none" stroke="url(#cyanA)" stroke-width="7" stroke-linecap="round"/>
<path d="M512,262 L528,250.5 L525,267.5 Z" fill="#3fd6e8"/>
<path d="M549.8,312 C549,296 553,274 566,260.5" fill="none" stroke="#66e3ee" stroke-width="2.4" stroke-linecap="round"/>
<path d="M562.5,259.5 L571.5,254.8 L569.5,264.5 Z" fill="#4fdaea"/>
<path d="M615,273.7 C600,275 588,279 583,291 C578,304 574,315 561,319.5" fill="none" stroke="#66e3ee" stroke-width="2.4" stroke-linecap="round"/>
<path d="M554.0,321.2 L561.5,314.8 L563.0,323.0 Z" fill="#4fdaea"/>
<circle cx="424.70" cy="258.00" r="2.50" fill="url(#gH)"/>
<circle cx="426.00" cy="264.70" r="2.50" fill="url(#gH)"/>
<circle cx="432.00" cy="254.80" r="2.50" fill="url(#gH)"/>
<circle cx="443.20" cy="256.30" r="2.50" fill="url(#gH)"/>
<circle cx="448.00" cy="256.80" r="2.50" fill="url(#gH)"/>
<circle cx="429.60" cy="259.30" r="4.90" fill="url(#gG)"/>
<circle cx="445.70" cy="259.30" r="4.90" fill="url(#gG)"/>
<circle cx="437.00" cy="266.20" r="4.90" fill="url(#gG)"/>
<circle cx="435.80" cy="271.60" r="2.50" fill="url(#gH)"/>
<circle cx="450.60" cy="264.70" r="2.50" fill="url(#gH)"/>
<text x="428.40" y="249.40" font-size="6.6" fill="#000" font-weight="bold" textLength="16.0" lengthAdjust="spacingAndGlyphs">C<tspan font-size="4.4" dy="1.40">3</tspan><tspan dy="-1.4">H</tspan><tspan font-size="4.4" dy="1.40">8</tspan></text>
<circle cx="523.50" cy="229.00" r="2.50" fill="url(#gH)"/>
<circle cx="522.00" cy="239.50" r="2.50" fill="url(#gH)"/>
<circle cx="539.50" cy="227.70" r="2.50" fill="url(#gH)"/>
<circle cx="526.00" cy="234.60" r="5.00" fill="url(#gG)"/>
<circle cx="534.60" cy="234.60" r="5.00" fill="url(#gG)"/>
<circle cx="542.00" cy="243.20" r="5.00" fill="url(#gG)"/>
<circle cx="537.00" cy="249.40" r="2.50" fill="url(#gH)"/>
<circle cx="547.00" cy="244.40" r="2.50" fill="url(#gH)"/>
<text x="501.20" y="238.30" font-size="6.6" fill="#000" font-weight="bold" textLength="15.0" lengthAdjust="spacingAndGlyphs">C<tspan font-size="4.4" dy="1.40">3</tspan><tspan dy="-1.4">H</tspan><tspan font-size="4.4" dy="1.40">6</tspan></text>
<circle cx="564.00" cy="240.80" r="3.90" fill="url(#gR)"/>
<circle cx="572.60" cy="240.00" r="5.00" fill="url(#gG)"/>
<text x="562.20" y="232.60" font-size="7.0" fill="#000" font-weight="bold" textLength="11.2" lengthAdjust="spacingAndGlyphs">CO</text>
<circle cx="591.50" cy="249.50" r="1.80" fill="url(#gH)"/>
<circle cx="595.50" cy="255.00" r="1.80" fill="url(#gH)"/>
<circle cx="589.40" cy="253.90" r="3.80" fill="url(#gR)"/>
<text x="593.60" y="248.00" font-size="6.6" fill="#000" font-weight="bold" textLength="13.1" lengthAdjust="spacingAndGlyphs">H<tspan font-size="4.6" dy="1.40">2</tspan><tspan dy="-1.4">O</tspan></text>
<circle cx="618.60" cy="267.20" r="3.90" fill="url(#gR)"/>
<circle cx="624.50" cy="272.10" r="5.00" fill="url(#gG)"/>
<circle cx="630.20" cy="277.10" r="3.90" fill="url(#gR)"/>
<text x="630.00" y="270.20" font-size="6.8" fill="#000" font-weight="bold" textLength="13.8" lengthAdjust="spacingAndGlyphs">CO<tspan font-size="4.6" dy="1.40">2</tspan></text>
<circle cx="435.50" cy="387.50" r="2.30" fill="url(#gH)"/>
<text x="440.00" y="390.20" font-size="7.4" fill="#000" font-weight="bold">H</text>
<circle cx="465.60" cy="387.50" r="3.60" fill="url(#gG)"/>
<text x="471.50" y="390.20" font-size="7.4" fill="#000" font-weight="bold">C</text>
<circle cx="496.60" cy="387.50" r="3.60" fill="url(#gR)"/>
<text x="502.20" y="390.20" font-size="7.4" fill="#000" font-weight="bold">O</text>
<circle cx="528.30" cy="387.50" r="4.10" fill="url(#gD)"/>
<text x="534.00" y="390.20" font-size="7.4" fill="#000" font-weight="bold">Ov</text>
<circle cx="561.20" cy="387.50" r="4.60" fill="url(#gW)"/>
<text x="568.60" y="390.20" font-size="7.4" fill="#000" font-weight="bold">Al</text>
<circle cx="596.00" cy="387.50" r="5.60" fill="url(#gB)"/>
<text x="604.60" y="390.20" font-size="7.4" fill="#000" font-weight="bold">Ce</text>
<circle cx="632.80" cy="387.50" r="7.00" fill="url(#gY)"/>
<text x="643.60" y="390.20" font-size="7.4" fill="#000" font-weight="bold">PtSn</text>
</svg></body></html>
